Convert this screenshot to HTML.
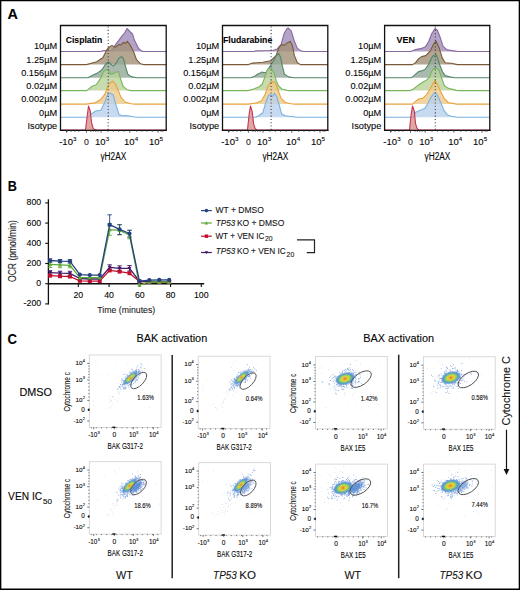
<!DOCTYPE html>
<html><head><meta charset="utf-8"><title>Figure</title>
<style>
html,body{margin:0;padding:0;background:#fff;}
body{width:520px;height:590px;overflow:hidden;}
svg{display:block;font-family:"Liberation Sans",sans-serif;}
svg text{stroke:#1a1a1a;stroke-width:0.1px;}
</style></head><body>
<svg width="520" height="590" viewBox="0 0 520 590">
<defs><filter id="soft" x="-50%" y="-50%" width="200%" height="200%"><feGaussianBlur stdDeviation="0.6"/></filter></defs>
<rect x="0" y="0" width="520" height="590" fill="#fff"/>
<text x="7.45" y="18.8" font-size="14.4" font-weight="bold" fill="#000">A</text>
<g>
<path d="M60.5,51.5 L100.8,51.5 L102.8,50.8 L112,50.3 L115,45.4 L121.2,37.2 L124.5,33 L127,28.5 L130.4,32 L132.5,34 L134.5,40.3 L138.6,48.5 L141.6,51.1 L144,51.5 L166.2,51.5 Z" fill="#a08cb8" fill-opacity="0.8" stroke="none"/>
<path d="M60.5,51.5 L100.8,51.5 L102.8,50.8 L112,50.3 L115,45.4 L121.2,37.2 L124.5,33 L127,28.5 L130.4,32 L132.5,34 L134.5,40.3 L138.6,48.5 L141.6,51.1 L144,51.5 L166.2,51.5" fill="none" stroke="#87699f" stroke-width="1.1" stroke-linejoin="round"/>
<path d="M60.5,64.6 L86.5,64.6 L96.7,61.7 L102.8,57.7 L107,49.5 L109.5,47 L112,45.4 L115,47.4 L117,46 L119.2,44.4 L121,45 L123.3,42.3 L125.5,43.5 L127.3,41.3 L130.4,45.4 L133.5,51.5 L136.5,59.7 L140.6,63.8 L143.7,64.6 L166.2,64.6 Z" fill="#a29077" fill-opacity="0.8" stroke="none"/>
<path d="M60.5,64.6 L86.5,64.6 L96.7,61.7 L102.8,57.7 L107,49.5 L109.5,47 L112,45.4 L115,47.4 L117,46 L119.2,44.4 L121,45 L123.3,42.3 L125.5,43.5 L127.3,41.3 L130.4,45.4 L133.5,51.5 L136.5,59.7 L140.6,63.8 L143.7,64.6 L166.2,64.6" fill="none" stroke="#7a5a38" stroke-width="1.1" stroke-linejoin="round"/>
<path d="M60.5,77.8 L88,77.8 L92.1,75.6 L97.5,72.9 L101.5,70.2 L104.2,66.2 L106.9,62.8 L108.6,62 L111.6,64.8 L113.6,65.9 L116.3,62.8 L119,58.1 L121.7,56.5 L123.7,59.4 L125.8,67.5 L127.8,74.2 L131.1,76.6 L136.5,77.8 L166.2,77.8 Z" fill="#95a898" fill-opacity="0.8" stroke="none"/>
<path d="M60.5,77.8 L88,77.8 L92.1,75.6 L97.5,72.9 L101.5,70.2 L104.2,66.2 L106.9,62.8 L108.6,62 L111.6,64.8 L113.6,65.9 L116.3,62.8 L119,58.1 L121.7,56.5 L123.7,59.4 L125.8,67.5 L127.8,74.2 L131.1,76.6 L136.5,77.8 L166.2,77.8" fill="none" stroke="#4f8866" stroke-width="1.1" stroke-linejoin="round"/>
<path d="M60.5,90.6 L86.7,90.6 L92.1,86.3 L96.2,84.7 L100.2,78.9 L103.6,71.5 L106.2,69.9 L108.3,69.5 L110.3,74.2 L113,73.6 L115.7,72.2 L118.4,71.5 L120.4,78.3 L123.1,86.3 L127.1,89.7 L131,90.6 L166.2,90.6 Z" fill="#bad29b" fill-opacity="0.8" stroke="none"/>
<path d="M60.5,90.6 L86.7,90.6 L92.1,86.3 L96.2,84.7 L100.2,78.9 L103.6,71.5 L106.2,69.9 L108.3,69.5 L110.3,74.2 L113,73.6 L115.7,72.2 L118.4,71.5 L120.4,78.3 L123.1,86.3 L127.1,89.7 L131,90.6 L166.2,90.6" fill="none" stroke="#78b65c" stroke-width="1.1" stroke-linejoin="round"/>
<path d="M60.5,104.1 L86.5,104.1 L94.7,102.9 L100.8,99.4 L104.8,94.3 L108.9,84.1 L112.6,81.1 L115.4,84.1 L118.1,90.2 L121.1,97.4 L125.2,102 L131.3,103.7 L135,104.1 L166.2,104.1 Z" fill="#ecc98b" fill-opacity="0.8" stroke="none"/>
<path d="M60.5,104.1 L86.5,104.1 L94.7,102.9 L100.8,99.4 L104.8,94.3 L108.9,84.1 L112.6,81.1 L115.4,84.1 L118.1,90.2 L121.1,97.4 L125.2,102 L131.3,103.7 L135,104.1 L166.2,104.1" fill="none" stroke="#e9a23a" stroke-width="1.1" stroke-linejoin="round"/>
<path d="M60.5,117.2 L88.5,117.2 L91.6,113.7 L95.7,111 L100.8,110.2 L104.8,102.5 L107.9,93.9 L110.5,93.3 L113.4,95.3 L116.1,105.5 L119.1,114.7 L123.2,115.7 L126.2,115.5 L133.4,116.7 L137,117.2 L166.2,117.2 Z" fill="#bad1ec" fill-opacity="0.8" stroke="none"/>
<path d="M60.5,117.2 L88.5,117.2 L91.6,113.7 L95.7,111 L100.8,110.2 L104.8,102.5 L107.9,93.9 L110.5,93.3 L113.4,95.3 L116.1,105.5 L119.1,114.7 L123.2,115.7 L126.2,115.5 L133.4,116.7 L137,117.2 L166.2,117.2" fill="none" stroke="#7ab3e2" stroke-width="1.1" stroke-linejoin="round"/>
<path d="M60.5,130 L85.5,130 L87.1,116.7 L88.5,106 L90.2,110.6 L91.6,122.8 L93.2,128.3 L94.7,129.6 L97,130 L166.2,130 Z" fill="#d89288" fill-opacity="0.8" stroke="none"/>
<path d="M60.5,130 L85.5,130 L87.1,116.7 L88.5,106 L90.2,110.6 L91.6,122.8 L93.2,128.3 L94.7,129.6 L97,130 L166.2,130" fill="none" stroke="#c43558" stroke-width="1.1" stroke-linejoin="round"/>
</g>
<line x1="108.2" y1="26.5" x2="108.2" y2="130" stroke="#3d4150" stroke-width="1.1" stroke-dasharray="1.1 2.2"/>
<path d="M60.5,130.9 V25.5 H166.2 V130.9" fill="none" stroke="#111" stroke-width="1.3"/>
<line x1="59.9" y1="130.3" x2="166.8" y2="130.3" stroke="#111" stroke-width="1.3"/>
<path d="M66.5,130.3 v2.4 M86.4,130.3 v2.4 M101.1,130.3 v2.4 M129.8,130.3 v2.4 M158,130.3 v2.4 M67.3,130.3 v1.5 M71.1,130.3 v1.5 M74.9,130.3 v1.5 M78.7,130.3 v1.5 M90.9,130.3 v1.5 M93.3,130.3 v1.5 M95.7,130.3 v1.5 M98.1,130.3 v1.5 M107.9,130.3 v1.5 M113.3,130.3 v1.5 M118.7,130.3 v1.5 M124.1,130.3 v1.5 M136.7,130.3 v1.5 M141.9,130.3 v1.5 M147.1,130.3 v1.5 M152.3,130.3 v1.5 M161.17,130.3 v1.5 M162.83,130.3 v1.5 " stroke="#333" stroke-width="0.8"/>
<text x="65.7" y="42.7" font-size="9.2" font-weight="bold" fill="#000" textLength="36.5" lengthAdjust="spacingAndGlyphs">Cisplatin</text>
<text x="57.2" y="49.4" font-size="9" text-anchor="end" textLength="23.21" lengthAdjust="spacingAndGlyphs">10µM</text>
<text x="57.2" y="62.6" font-size="9" text-anchor="end" textLength="30.88" lengthAdjust="spacingAndGlyphs">1.25µM</text>
<text x="57.2" y="76" font-size="9" text-anchor="end" textLength="36" lengthAdjust="spacingAndGlyphs">0.156µM</text>
<text x="57.2" y="89.2" font-size="9" text-anchor="end" textLength="30.88" lengthAdjust="spacingAndGlyphs">0.02µM</text>
<text x="57.2" y="102.3" font-size="9" text-anchor="end" textLength="36" lengthAdjust="spacingAndGlyphs">0.002µM</text>
<text x="57.2" y="115.5" font-size="9" text-anchor="end" textLength="18.09" lengthAdjust="spacingAndGlyphs">0µM</text>
<text x="57.2" y="128.7" font-size="9" text-anchor="end" textLength="29.67" lengthAdjust="spacingAndGlyphs">Isotype</text>
<text x="59.2" y="144.7" font-size="8.8" textLength="13.73" lengthAdjust="spacingAndGlyphs">-10</text>
<text x="73.03" y="141.3" font-size="6.2">3</text>
<text x="86.4" y="144.7" font-size="8.8" text-anchor="middle" fill="#222" textLength="4.9" lengthAdjust="spacingAndGlyphs">0</text>
<text x="95.1" y="144.7" font-size="8.8" textLength="10.57" lengthAdjust="spacingAndGlyphs">10</text>
<text x="105.77" y="141.3" font-size="6.2">3</text>
<text x="124.1" y="144.7" font-size="8.8" textLength="10.57" lengthAdjust="spacingAndGlyphs">10</text>
<text x="134.77" y="141.3" font-size="6.2">4</text>
<text x="148.9" y="144.7" font-size="8.8" textLength="10.57" lengthAdjust="spacingAndGlyphs">10</text>
<text x="159.57" y="141.3" font-size="6.2">5</text>
<text x="100.4" y="160.2" font-size="10" textLength="25.8" lengthAdjust="spacingAndGlyphs">γH2AX</text>
<g>
<path d="M222.5,51.5 L254.6,51.5 L255.5,50.9 L273,50.5 L277,49 L281.1,44.4 L284.2,33.2 L287.2,28.3 L288.2,28 L291.3,31.1 L294.4,41.3 L297.4,48.4 L301.5,51.1 L304,51.5 L327.8,51.5 Z" fill="#a08cb8" fill-opacity="0.8" stroke="none"/>
<path d="M222.5,51.5 L254.6,51.5 L255.5,50.9 L273,50.5 L277,49 L281.1,44.4 L284.2,33.2 L287.2,28.3 L288.2,28 L291.3,31.1 L294.4,41.3 L297.4,48.4 L301.5,51.1 L304,51.5 L327.8,51.5" fill="none" stroke="#87699f" stroke-width="1.1" stroke-linejoin="round"/>
<path d="M222.5,64.6 L248.5,64.6 L252.6,63.1 L262.8,62.3 L270.9,60.7 L276,55.6 L279.1,47.4 L282.1,44.4 L284.2,45.4 L287.2,42.9 L290.3,41.3 L292.3,45.4 L294.4,55.6 L297.4,62.7 L300.5,64.6 L327.8,64.6 Z" fill="#a29077" fill-opacity="0.8" stroke="none"/>
<path d="M222.5,64.6 L248.5,64.6 L252.6,63.1 L262.8,62.3 L270.9,60.7 L276,55.6 L279.1,47.4 L282.1,44.4 L284.2,45.4 L287.2,42.9 L290.3,41.3 L292.3,45.4 L294.4,55.6 L297.4,62.7 L300.5,64.6 L327.8,64.6" fill="none" stroke="#7a5a38" stroke-width="1.1" stroke-linejoin="round"/>
<path d="M222.5,77.8 L250.8,77.8 L254.8,76.2 L257.5,74.2 L260.2,73.1 L262,72 L263.6,72.6 L266.2,72.2 L268.3,68.8 L271,64.8 L273.6,60.8 L276.3,55.4 L278.8,53.8 L280.4,56.7 L282.4,66.2 L284.4,74.2 L288.5,76.9 L293.8,77.8 L327.8,77.8 Z" fill="#95a898" fill-opacity="0.8" stroke="none"/>
<path d="M222.5,77.8 L250.8,77.8 L254.8,76.2 L257.5,74.2 L260.2,73.1 L262,72 L263.6,72.6 L266.2,72.2 L268.3,68.8 L271,64.8 L273.6,60.8 L276.3,55.4 L278.8,53.8 L280.4,56.7 L282.4,66.2 L284.4,74.2 L288.5,76.9 L293.8,77.8 L327.8,77.8" fill="none" stroke="#4f8866" stroke-width="1.1" stroke-linejoin="round"/>
<path d="M222.5,90.6 L248,90.6 L253.5,89 L258.8,87 L262.2,84.3 L264.9,76.9 L266.9,70.9 L268.9,68.2 L271.6,68.8 L274.3,73.6 L276.3,81 L278.4,85.7 L281.7,89 L287.1,90.4 L290,90.6 L327.8,90.6 Z" fill="#bad29b" fill-opacity="0.8" stroke="none"/>
<path d="M222.5,90.6 L248,90.6 L253.5,89 L258.8,87 L262.2,84.3 L264.9,76.9 L266.9,70.9 L268.9,68.2 L271.6,68.8 L274.3,73.6 L276.3,81 L278.4,85.7 L281.7,89 L287.1,90.4 L290,90.6 L327.8,90.6" fill="none" stroke="#78b65c" stroke-width="1.1" stroke-linejoin="round"/>
<path d="M222.5,104.1 L248.5,104.1 L256.7,102.9 L261.7,100.4 L265.2,94.3 L267.9,86.2 L270.9,82.1 L274,81.7 L276,84.1 L278.1,90.2 L281.1,98.4 L285.2,102.5 L291.3,103.7 L295,104.1 L327.8,104.1 Z" fill="#ecc98b" fill-opacity="0.8" stroke="none"/>
<path d="M222.5,104.1 L248.5,104.1 L256.7,102.9 L261.7,100.4 L265.2,94.3 L267.9,86.2 L270.9,82.1 L274,81.7 L276,84.1 L278.1,90.2 L281.1,98.4 L285.2,102.5 L291.3,103.7 L295,104.1 L327.8,104.1" fill="none" stroke="#e9a23a" stroke-width="1.1" stroke-linejoin="round"/>
<path d="M222.5,117.2 L255.6,117.2 L258.7,115.7 L262.8,112.7 L265.8,102.5 L268.5,95.3 L270.5,94.7 L272.6,96.3 L274.4,93.3 L276.6,96.3 L279.1,104.5 L281.5,113.7 L285.2,115.7 L293.3,116.7 L297,117.2 L327.8,117.2 Z" fill="#bad1ec" fill-opacity="0.8" stroke="none"/>
<path d="M222.5,117.2 L255.6,117.2 L258.7,115.7 L262.8,112.7 L265.8,102.5 L268.5,95.3 L270.5,94.7 L272.6,96.3 L274.4,93.3 L276.6,96.3 L279.1,104.5 L281.5,113.7 L285.2,115.7 L293.3,116.7 L297,117.2 L327.8,117.2" fill="none" stroke="#7ab3e2" stroke-width="1.1" stroke-linejoin="round"/>
<path d="M222.5,130 L247.5,130 L249.1,114.7 L250.5,106 L252.2,111.6 L253.6,123.9 L255.2,128.6 L256.7,129.7 L259,130 L327.8,130 Z" fill="#d89288" fill-opacity="0.8" stroke="none"/>
<path d="M222.5,130 L247.5,130 L249.1,114.7 L250.5,106 L252.2,111.6 L253.6,123.9 L255.2,128.6 L256.7,129.7 L259,130 L327.8,130" fill="none" stroke="#c43558" stroke-width="1.1" stroke-linejoin="round"/>
</g>
<line x1="271.1" y1="26.5" x2="271.1" y2="130" stroke="#3d4150" stroke-width="1.1" stroke-dasharray="1.1 2.2"/>
<path d="M222.5,130.9 V25.5 H327.8 V130.9" fill="none" stroke="#111" stroke-width="1.3"/>
<line x1="221.9" y1="130.3" x2="328.4" y2="130.3" stroke="#111" stroke-width="1.3"/>
<path d="M228.5,130.3 v2.4 M248.4,130.3 v2.4 M263.1,130.3 v2.4 M291.8,130.3 v2.4 M320,130.3 v2.4 M229.3,130.3 v1.5 M233.1,130.3 v1.5 M236.9,130.3 v1.5 M240.7,130.3 v1.5 M252.9,130.3 v1.5 M255.3,130.3 v1.5 M257.7,130.3 v1.5 M260.1,130.3 v1.5 M269.9,130.3 v1.5 M275.3,130.3 v1.5 M280.7,130.3 v1.5 M286.1,130.3 v1.5 M298.7,130.3 v1.5 M303.9,130.3 v1.5 M309.1,130.3 v1.5 M314.3,130.3 v1.5 M323.17,130.3 v1.5 M324.83,130.3 v1.5 " stroke="#333" stroke-width="0.8"/>
<text x="222.9" y="42.7" font-size="9.2" font-weight="bold" fill="#000" textLength="49.4" lengthAdjust="spacingAndGlyphs">Fludarabine</text>
<text x="219.2" y="49.4" font-size="9" text-anchor="end" textLength="23.21" lengthAdjust="spacingAndGlyphs">10µM</text>
<text x="219.2" y="62.6" font-size="9" text-anchor="end" textLength="30.88" lengthAdjust="spacingAndGlyphs">1.25µM</text>
<text x="219.2" y="76" font-size="9" text-anchor="end" textLength="36" lengthAdjust="spacingAndGlyphs">0.156µM</text>
<text x="219.2" y="89.2" font-size="9" text-anchor="end" textLength="30.88" lengthAdjust="spacingAndGlyphs">0.02µM</text>
<text x="219.2" y="102.3" font-size="9" text-anchor="end" textLength="36" lengthAdjust="spacingAndGlyphs">0.002µM</text>
<text x="219.2" y="115.5" font-size="9" text-anchor="end" textLength="18.09" lengthAdjust="spacingAndGlyphs">0µM</text>
<text x="219.2" y="128.7" font-size="9" text-anchor="end" textLength="29.67" lengthAdjust="spacingAndGlyphs">Isotype</text>
<text x="221.2" y="144.7" font-size="8.8" textLength="13.73" lengthAdjust="spacingAndGlyphs">-10</text>
<text x="235.03" y="141.3" font-size="6.2">3</text>
<text x="248.4" y="144.7" font-size="8.8" text-anchor="middle" fill="#222" textLength="4.9" lengthAdjust="spacingAndGlyphs">0</text>
<text x="257.1" y="144.7" font-size="8.8" textLength="10.57" lengthAdjust="spacingAndGlyphs">10</text>
<text x="267.77" y="141.3" font-size="6.2">3</text>
<text x="286.1" y="144.7" font-size="8.8" textLength="10.57" lengthAdjust="spacingAndGlyphs">10</text>
<text x="296.77" y="141.3" font-size="6.2">4</text>
<text x="310.9" y="144.7" font-size="8.8" textLength="10.57" lengthAdjust="spacingAndGlyphs">10</text>
<text x="321.57" y="141.3" font-size="6.2">5</text>
<text x="262.4" y="160.2" font-size="10" textLength="25.8" lengthAdjust="spacingAndGlyphs">γH2AX</text>
<g>
<path d="M384.6,51.5 L410.5,51.5 L414.6,49.9 L421.7,48.4 L425.8,46.4 L428.8,41.3 L431.9,33.2 L435,28.5 L437.4,30.1 L440.1,37.2 L443.1,46.4 L447.2,49.9 L455.3,51.1 L458,51.5 L489.8,51.5 Z" fill="#a08cb8" fill-opacity="0.8" stroke="none"/>
<path d="M384.6,51.5 L410.5,51.5 L414.6,49.9 L421.7,48.4 L425.8,46.4 L428.8,41.3 L431.9,33.2 L435,28.5 L437.4,30.1 L440.1,37.2 L443.1,46.4 L447.2,49.9 L455.3,51.1 L458,51.5 L489.8,51.5" fill="none" stroke="#87699f" stroke-width="1.1" stroke-linejoin="round"/>
<path d="M384.6,64.6 L412.5,64.6 L415.6,62.7 L418.7,58.6 L421.7,56.6 L425.8,55.6 L429.9,51.5 L432.9,45.4 L436,40.9 L439,47.4 L442.1,57.6 L445.1,62.7 L451.3,63.3 L457.4,64.6 L489.8,64.6 Z" fill="#a29077" fill-opacity="0.8" stroke="none"/>
<path d="M384.6,64.6 L412.5,64.6 L415.6,62.7 L418.7,58.6 L421.7,56.6 L425.8,55.6 L429.9,51.5 L432.9,45.4 L436,40.9 L439,47.4 L442.1,57.6 L445.1,62.7 L451.3,63.3 L457.4,64.6 L489.8,64.6" fill="none" stroke="#7a5a38" stroke-width="1.1" stroke-linejoin="round"/>
<path d="M384.6,77.8 L411.4,77.8 L414.8,74.9 L418.2,71.8 L421.5,70.9 L424.9,69.5 L427.6,66.2 L430.3,60.8 L432.3,56.7 L433.6,55.4 L434.7,56 L436.1,54.3 L437.4,57.4 L439.7,64.8 L442.4,71.5 L445.1,75.6 L449.8,76.9 L455.2,77.8 L489.8,77.8 Z" fill="#95a898" fill-opacity="0.8" stroke="none"/>
<path d="M384.6,77.8 L411.4,77.8 L414.8,74.9 L418.2,71.8 L421.5,70.9 L424.9,69.5 L427.6,66.2 L430.3,60.8 L432.3,56.7 L433.6,55.4 L434.7,56 L436.1,54.3 L437.4,57.4 L439.7,64.8 L442.4,71.5 L445.1,75.6 L449.8,76.9 L455.2,77.8 L489.8,77.8" fill="none" stroke="#4f8866" stroke-width="1.1" stroke-linejoin="round"/>
<path d="M384.6,90.6 L410.1,90.6 L413.5,89 L417.5,85.7 L421.5,83 L426.2,80.3 L429.6,76.9 L431.6,71.5 L433.6,68.8 L436.3,67.8 L439,70.2 L441.7,78.3 L444.4,85.7 L448.5,88.4 L456.5,90.4 L459,90.6 L489.8,90.6 Z" fill="#bad29b" fill-opacity="0.8" stroke="none"/>
<path d="M384.6,90.6 L410.1,90.6 L413.5,89 L417.5,85.7 L421.5,83 L426.2,80.3 L429.6,76.9 L431.6,71.5 L433.6,68.8 L436.3,67.8 L439,70.2 L441.7,78.3 L444.4,85.7 L448.5,88.4 L456.5,90.4 L459,90.6 L489.8,90.6" fill="none" stroke="#78b65c" stroke-width="1.1" stroke-linejoin="round"/>
<path d="M384.6,104.1 L412.5,104.1 L415.6,101.4 L418.7,99 L422.7,98.4 L426.8,94.3 L430.5,88.2 L433.3,83.1 L435,80.4 L437.4,84.1 L440.1,90.2 L444.1,98.4 L448.2,102.5 L456.4,104.1 L489.8,104.1 Z" fill="#ecc98b" fill-opacity="0.8" stroke="none"/>
<path d="M384.6,104.1 L412.5,104.1 L415.6,101.4 L418.7,99 L422.7,98.4 L426.8,94.3 L430.5,88.2 L433.3,83.1 L435,80.4 L437.4,84.1 L440.1,90.2 L444.1,98.4 L448.2,102.5 L456.4,104.1 L489.8,104.1" fill="none" stroke="#e9a23a" stroke-width="1.1" stroke-linejoin="round"/>
<path d="M384.6,117.2 L413.6,117.2 L415.6,112.2 L419.7,110.6 L424.8,108.6 L427.8,103.5 L430.9,97.4 L433.9,93.3 L435.4,92.7 L437.4,95.3 L440.7,102.5 L444.1,110.6 L447.2,114.7 L451.3,116.3 L457.4,117.2 L489.8,117.2 Z" fill="#bad1ec" fill-opacity="0.8" stroke="none"/>
<path d="M384.6,117.2 L413.6,117.2 L415.6,112.2 L419.7,110.6 L424.8,108.6 L427.8,103.5 L430.9,97.4 L433.9,93.3 L435.4,92.7 L437.4,95.3 L440.7,102.5 L444.1,110.6 L447.2,114.7 L451.3,116.3 L457.4,117.2 L489.8,117.2" fill="none" stroke="#7ab3e2" stroke-width="1.1" stroke-linejoin="round"/>
<path d="M384.6,130 L409.5,130 L411.1,114.7 L412.5,106 L414.2,110.6 L415.6,123.9 L417.2,128.6 L418.7,129.7 L421,130 L489.8,130 Z" fill="#d89288" fill-opacity="0.8" stroke="none"/>
<path d="M384.6,130 L409.5,130 L411.1,114.7 L412.5,106 L414.2,110.6 L415.6,123.9 L417.2,128.6 L418.7,129.7 L421,130 L489.8,130" fill="none" stroke="#c43558" stroke-width="1.1" stroke-linejoin="round"/>
</g>
<line x1="435.3" y1="26.5" x2="435.3" y2="130" stroke="#3d4150" stroke-width="1.1" stroke-dasharray="1.1 2.2"/>
<path d="M384.6,130.9 V25.5 H489.8 V130.9" fill="none" stroke="#111" stroke-width="1.3"/>
<line x1="384" y1="130.3" x2="490.4" y2="130.3" stroke="#111" stroke-width="1.3"/>
<path d="M390.6,130.3 v2.4 M410.5,130.3 v2.4 M425.2,130.3 v2.4 M453.9,130.3 v2.4 M482.1,130.3 v2.4 M391.4,130.3 v1.5 M395.2,130.3 v1.5 M399,130.3 v1.5 M402.8,130.3 v1.5 M415,130.3 v1.5 M417.4,130.3 v1.5 M419.8,130.3 v1.5 M422.2,130.3 v1.5 M432,130.3 v1.5 M437.4,130.3 v1.5 M442.8,130.3 v1.5 M448.2,130.3 v1.5 M460.8,130.3 v1.5 M466,130.3 v1.5 M471.2,130.3 v1.5 M476.4,130.3 v1.5 M485.27,130.3 v1.5 M486.93,130.3 v1.5 " stroke="#333" stroke-width="0.8"/>
<text x="396.6" y="42.7" font-size="9.2" font-weight="bold" fill="#000" textLength="18.4" lengthAdjust="spacingAndGlyphs">VEN</text>
<text x="381.3" y="49.4" font-size="9" text-anchor="end" textLength="23.21" lengthAdjust="spacingAndGlyphs">10µM</text>
<text x="381.3" y="62.6" font-size="9" text-anchor="end" textLength="30.88" lengthAdjust="spacingAndGlyphs">1.25µM</text>
<text x="381.3" y="76" font-size="9" text-anchor="end" textLength="36" lengthAdjust="spacingAndGlyphs">0.156µM</text>
<text x="381.3" y="89.2" font-size="9" text-anchor="end" textLength="30.88" lengthAdjust="spacingAndGlyphs">0.02µM</text>
<text x="381.3" y="102.3" font-size="9" text-anchor="end" textLength="36" lengthAdjust="spacingAndGlyphs">0.002µM</text>
<text x="381.3" y="115.5" font-size="9" text-anchor="end" textLength="18.09" lengthAdjust="spacingAndGlyphs">0µM</text>
<text x="381.3" y="128.7" font-size="9" text-anchor="end" textLength="29.67" lengthAdjust="spacingAndGlyphs">Isotype</text>
<text x="383.3" y="144.7" font-size="8.8" textLength="13.73" lengthAdjust="spacingAndGlyphs">-10</text>
<text x="397.13" y="141.3" font-size="6.2">3</text>
<text x="410.5" y="144.7" font-size="8.8" text-anchor="middle" fill="#222" textLength="4.9" lengthAdjust="spacingAndGlyphs">0</text>
<text x="419.2" y="144.7" font-size="8.8" textLength="10.57" lengthAdjust="spacingAndGlyphs">10</text>
<text x="429.87" y="141.3" font-size="6.2">3</text>
<text x="448.2" y="144.7" font-size="8.8" textLength="10.57" lengthAdjust="spacingAndGlyphs">10</text>
<text x="458.87" y="141.3" font-size="6.2">4</text>
<text x="473" y="144.7" font-size="8.8" textLength="10.57" lengthAdjust="spacingAndGlyphs">10</text>
<text x="483.67" y="141.3" font-size="6.2">5</text>
<text x="424.5" y="160.2" font-size="10" textLength="25.8" lengthAdjust="spacingAndGlyphs">γH2AX</text>
<text x="7.85" y="190.8" font-size="14.4" font-weight="bold" fill="#000" textLength="9.13" lengthAdjust="spacingAndGlyphs">B</text>
<line x1="48.4" y1="199.3" x2="48.4" y2="304.5" stroke="#111" stroke-width="1.3"/>
<line x1="45.2" y1="202.9" x2="48.4" y2="202.9" stroke="#111" stroke-width="1.1"/>
<text x="41.2" y="205.3" font-size="9" text-anchor="end" textLength="14.68" lengthAdjust="spacingAndGlyphs">800</text>
<line x1="45.2" y1="223.1" x2="48.4" y2="223.1" stroke="#111" stroke-width="1.1"/>
<text x="41.2" y="225.5" font-size="9" text-anchor="end" textLength="14.68" lengthAdjust="spacingAndGlyphs">600</text>
<line x1="45.2" y1="243.3" x2="48.4" y2="243.3" stroke="#111" stroke-width="1.1"/>
<text x="41.2" y="245.7" font-size="9" text-anchor="end" textLength="14.68" lengthAdjust="spacingAndGlyphs">400</text>
<line x1="45.2" y1="263.5" x2="48.4" y2="263.5" stroke="#111" stroke-width="1.1"/>
<text x="41.2" y="265.9" font-size="9" text-anchor="end" textLength="14.68" lengthAdjust="spacingAndGlyphs">200</text>
<line x1="45.2" y1="283.7" x2="48.4" y2="283.7" stroke="#111" stroke-width="1.1"/>
<text x="41.2" y="286.1" font-size="9" text-anchor="end" textLength="4.89" lengthAdjust="spacingAndGlyphs">0</text>
<line x1="45.2" y1="303.9" x2="48.4" y2="303.9" stroke="#111" stroke-width="1.1"/>
<text x="41.2" y="306.3" font-size="9" text-anchor="end" textLength="17.61" lengthAdjust="spacingAndGlyphs">-200</text>
<line x1="47.8" y1="283.7" x2="204.2" y2="283.7" stroke="#111" stroke-width="1.5"/>
<line x1="78.34" y1="283.7" x2="78.34" y2="287" stroke="#111" stroke-width="1.1"/>
<text x="78.34" y="298.2" font-size="9" text-anchor="middle" textLength="9.79" lengthAdjust="spacingAndGlyphs">20</text>
<line x1="109.08" y1="283.7" x2="109.08" y2="287" stroke="#111" stroke-width="1.1"/>
<text x="109.08" y="298.2" font-size="9" text-anchor="middle" textLength="9.79" lengthAdjust="spacingAndGlyphs">40</text>
<line x1="139.82" y1="283.7" x2="139.82" y2="287" stroke="#111" stroke-width="1.1"/>
<text x="139.82" y="298.2" font-size="9" text-anchor="middle" textLength="9.79" lengthAdjust="spacingAndGlyphs">60</text>
<line x1="170.56" y1="283.7" x2="170.56" y2="287" stroke="#111" stroke-width="1.1"/>
<text x="170.56" y="298.2" font-size="9" text-anchor="middle" textLength="9.79" lengthAdjust="spacingAndGlyphs">80</text>
<line x1="201.3" y1="283.7" x2="201.3" y2="287" stroke="#111" stroke-width="1.1"/>
<text x="201.3" y="298.2" font-size="9" text-anchor="middle" textLength="14.68" lengthAdjust="spacingAndGlyphs">100</text>
<text x="97.3" y="312.5" font-size="9.4" fill="#222" textLength="57.9" lengthAdjust="spacingAndGlyphs">Time (minutes)</text>
<text transform="translate(16.4,282.0) rotate(-90)" font-size="10" textLength="61.8" lengthAdjust="spacingAndGlyphs" fill="#1a1a1a">OCR (pmol/min)</text>
<path d="M50.1,270.6 V274.6 M47.9,270.6 h4.4 M47.9,274.6 h4.4" stroke="#421c66" stroke-width="0.9" fill="none"/>
<path d="M60.03,271.2 V275.2 M57.83,271.2 h4.4 M57.83,275.2 h4.4" stroke="#421c66" stroke-width="0.9" fill="none"/>
<path d="M69.95,271.3 V275.3 M67.75,271.3 h4.4 M67.75,275.3 h4.4" stroke="#421c66" stroke-width="0.9" fill="none"/>
<path d="M109.65,264.8 V269.8 M107.45,264.8 h4.4 M107.45,269.8 h4.4" stroke="#421c66" stroke-width="0.9" fill="none"/>
<path d="M119.58,265.8 V270.8 M117.38,265.8 h4.4 M117.38,270.8 h4.4" stroke="#421c66" stroke-width="0.9" fill="none"/>
<path d="M129.5,265.5 V271 M127.3,265.5 h4.4 M127.3,271 h4.4" stroke="#421c66" stroke-width="0.9" fill="none"/>
<path d="M109.65,223.5 V235.3 M107.45,223.5 h4.4 M107.45,235.3 h4.4" stroke="#5eaa38" stroke-width="0.9" fill="none"/>
<path d="M119.58,224.5 V234.9 M117.38,224.5 h4.4 M117.38,234.9 h4.4" stroke="#5eaa38" stroke-width="0.9" fill="none"/>
<path d="M129.5,230.3 V238.8 M127.3,230.3 h4.4 M127.3,238.8 h4.4" stroke="#5eaa38" stroke-width="0.9" fill="none"/>
<path d="M50.1,262 V267.5 M47.9,262 h4.4 M47.9,267.5 h4.4" stroke="#5eaa38" stroke-width="0.9" fill="none"/>
<path d="M60.03,262.5 V267.7 M57.83,262.5 h4.4 M57.83,267.7 h4.4" stroke="#5eaa38" stroke-width="0.9" fill="none"/>
<path d="M69.95,263 V267.8 M67.75,263 h4.4 M67.75,267.8 h4.4" stroke="#5eaa38" stroke-width="0.9" fill="none"/>
<path d="M109.65,214.8 V226 M107.45,214.8 h4.4 M107.45,226 h4.4" stroke="#26417f" stroke-width="0.9" fill="none"/>
<path d="M119.58,224.8 V234.5 M117.38,224.8 h4.4 M117.38,234.5 h4.4" stroke="#26417f" stroke-width="0.9" fill="none"/>
<path d="M129.5,230.3 V237.2 M127.3,230.3 h4.4 M127.3,237.2 h4.4" stroke="#26417f" stroke-width="0.9" fill="none"/>
<path d="M50.1,258.8 V262.2 M47.9,258.8 h4.4 M47.9,262.2 h4.4" stroke="#26417f" stroke-width="0.9" fill="none"/>
<path d="M60.03,259.5 V262.8 M57.83,259.5 h4.4 M57.83,262.8 h4.4" stroke="#26417f" stroke-width="0.9" fill="none"/>
<path d="M69.95,259.6 V263 M67.75,259.6 h4.4 M67.75,263 h4.4" stroke="#26417f" stroke-width="0.9" fill="none"/>
<polyline points="50.1,275.6 60.03,276.2 69.95,276.5 79.88,280.8 89.8,281.1 99.72,281.1 109.65,270.4 119.58,271.6 129.5,273.2 139.43,281.5 149.35,281.9 159.28,282 169.2,282" fill="none" stroke="#c20d2c" stroke-width="1.3" stroke-linejoin="round"/>
<rect x="48.1" y="273.6" width="4" height="4" fill="#c20d2c"/>
<rect x="58.03" y="274.2" width="4" height="4" fill="#c20d2c"/>
<rect x="67.95" y="274.5" width="4" height="4" fill="#c20d2c"/>
<rect x="77.88" y="278.8" width="4" height="4" fill="#c20d2c"/>
<rect x="87.8" y="279.1" width="4" height="4" fill="#c20d2c"/>
<rect x="97.72" y="279.1" width="4" height="4" fill="#c20d2c"/>
<rect x="107.65" y="268.4" width="4" height="4" fill="#c20d2c"/>
<rect x="117.58" y="269.6" width="4" height="4" fill="#c20d2c"/>
<rect x="127.5" y="271.2" width="4" height="4" fill="#c20d2c"/>
<rect x="137.43" y="279.5" width="4" height="4" fill="#c20d2c"/>
<rect x="147.35" y="279.9" width="4" height="4" fill="#c20d2c"/>
<rect x="157.28" y="280" width="4" height="4" fill="#c20d2c"/>
<rect x="167.2" y="280" width="4" height="4" fill="#c20d2c"/>
<polyline points="50.1,272.6 60.03,273.2 69.95,273.3 79.88,278.5 89.8,279 99.72,279 109.65,267.3 119.58,268.4 129.5,268.4 139.43,281.2 149.35,281.5 159.28,281.5 169.2,281.5" fill="none" stroke="#421c66" stroke-width="1.3" stroke-linejoin="round"/>
<path d="M48.1,271 L52.1,271 L50.1,274.6 Z" fill="#421c66"/>
<path d="M58.03,271.6 L62.03,271.6 L60.03,275.2 Z" fill="#421c66"/>
<path d="M67.95,271.7 L71.95,271.7 L69.95,275.3 Z" fill="#421c66"/>
<path d="M77.88,276.9 L81.88,276.9 L79.88,280.5 Z" fill="#421c66"/>
<path d="M87.8,277.4 L91.8,277.4 L89.8,281 Z" fill="#421c66"/>
<path d="M97.72,277.4 L101.72,277.4 L99.72,281 Z" fill="#421c66"/>
<path d="M107.65,265.7 L111.65,265.7 L109.65,269.3 Z" fill="#421c66"/>
<path d="M117.58,266.8 L121.58,266.8 L119.58,270.4 Z" fill="#421c66"/>
<path d="M127.5,266.8 L131.5,266.8 L129.5,270.4 Z" fill="#421c66"/>
<path d="M137.43,279.6 L141.43,279.6 L139.43,283.2 Z" fill="#421c66"/>
<path d="M147.35,279.9 L151.35,279.9 L149.35,283.5 Z" fill="#421c66"/>
<path d="M157.28,279.9 L161.28,279.9 L159.28,283.5 Z" fill="#421c66"/>
<path d="M167.2,279.9 L171.2,279.9 L169.2,283.5 Z" fill="#421c66"/>
<polyline points="50.1,264.3 60.03,264.9 69.95,265.4 79.88,277.7 89.8,277.7 99.72,277.7 109.65,229.6 119.58,230.4 129.5,235 139.43,285 149.35,282 159.28,282 169.2,282" fill="none" stroke="#5eaa38" stroke-width="1.3" stroke-linejoin="round"/>
<path d="M50.1,262.2 L52.2,265.98 L48,265.98 Z" fill="#5eaa38"/>
<path d="M60.03,262.8 L62.13,266.58 L57.93,266.58 Z" fill="#5eaa38"/>
<path d="M69.95,263.3 L72.05,267.08 L67.85,267.08 Z" fill="#5eaa38"/>
<path d="M79.88,275.6 L81.97,279.38 L77.78,279.38 Z" fill="#5eaa38"/>
<path d="M89.8,275.6 L91.9,279.38 L87.7,279.38 Z" fill="#5eaa38"/>
<path d="M99.72,275.6 L101.82,279.38 L97.62,279.38 Z" fill="#5eaa38"/>
<path d="M109.65,227.5 L111.75,231.28 L107.55,231.28 Z" fill="#5eaa38"/>
<path d="M119.58,228.3 L121.68,232.08 L117.48,232.08 Z" fill="#5eaa38"/>
<path d="M129.5,232.9 L131.6,236.68 L127.4,236.68 Z" fill="#5eaa38"/>
<path d="M139.43,282.9 L141.53,286.68 L137.33,286.68 Z" fill="#5eaa38"/>
<path d="M149.35,279.9 L151.45,283.68 L147.25,283.68 Z" fill="#5eaa38"/>
<path d="M159.28,279.9 L161.38,283.68 L157.18,283.68 Z" fill="#5eaa38"/>
<path d="M169.2,279.9 L171.3,283.68 L167.1,283.68 Z" fill="#5eaa38"/>
<polyline points="50.1,260.5 60.03,261.1 69.95,261.3 79.88,274.6 89.8,275.1 99.72,275.1 109.65,224.7 119.58,229.3 129.5,233.5 139.43,281.2 149.35,280.1 159.28,279.9 169.2,279.9" fill="none" stroke="#26417f" stroke-width="1.3" stroke-linejoin="round"/>
<circle cx="50.1" cy="260.5" r="2.1" fill="#26417f"/>
<circle cx="60.03" cy="261.1" r="2.1" fill="#26417f"/>
<circle cx="69.95" cy="261.3" r="2.1" fill="#26417f"/>
<circle cx="79.88" cy="274.6" r="2.1" fill="#26417f"/>
<circle cx="89.8" cy="275.1" r="2.1" fill="#26417f"/>
<circle cx="99.72" cy="275.1" r="2.1" fill="#26417f"/>
<circle cx="109.65" cy="224.7" r="2.1" fill="#26417f"/>
<circle cx="119.58" cy="229.3" r="2.1" fill="#26417f"/>
<circle cx="129.5" cy="233.5" r="2.1" fill="#26417f"/>
<circle cx="139.43" cy="281.2" r="2.1" fill="#26417f"/>
<circle cx="149.35" cy="280.1" r="2.1" fill="#26417f"/>
<circle cx="159.28" cy="279.9" r="2.1" fill="#26417f"/>
<circle cx="169.2" cy="279.9" r="2.1" fill="#26417f"/>
<line x1="201" y1="210.6" x2="211.8" y2="210.6" stroke="#26417f" stroke-width="1.2"/>
<circle cx="206.4" cy="210.6" r="1.78" fill="#26417f"/>
<line x1="201" y1="223" x2="211.8" y2="223" stroke="#5eaa38" stroke-width="1.2"/>
<path d="M206.4,221.22 L208.19,224.43 L204.62,224.43 Z" fill="#5eaa38"/>
<line x1="201" y1="236.2" x2="211.8" y2="236.2" stroke="#c20d2c" stroke-width="1.2"/>
<rect x="204.7" y="234.5" width="3.4" height="3.4" fill="#c20d2c"/>
<line x1="201" y1="252.5" x2="211.8" y2="252.5" stroke="#421c66" stroke-width="1.2"/>
<path d="M204.7,251.14 L208.1,251.14 L206.4,254.2 Z" fill="#421c66"/>
<text x="215.5" y="213.1" font-size="9" fill="#111" textLength="48.4" lengthAdjust="spacingAndGlyphs">WT + DMSO</text>
<text x="215.7" y="225.8" font-size="9.0" fill="#111"><tspan font-style="italic" textLength="19.6" lengthAdjust="spacingAndGlyphs">TP53</tspan><tspan x="236.9" textLength="47.4" lengthAdjust="spacingAndGlyphs">KO + DMSO</tspan></text>
<text x="215.4" y="238.5" font-size="9.0" fill="#111" textLength="48.9" lengthAdjust="spacingAndGlyphs">WT + VEN IC</text>
<text x="265.0" y="241.3" font-size="6.4" fill="#111" textLength="7.6" lengthAdjust="spacingAndGlyphs">20</text>
<text x="215.7" y="254.4" font-size="9.0" fill="#111"><tspan font-style="italic" textLength="19.6" lengthAdjust="spacingAndGlyphs">TP53</tspan><tspan x="236.9" textLength="48.9" lengthAdjust="spacingAndGlyphs">KO + VEN IC</tspan></text>
<text x="286.6" y="257.2" font-size="6.4" fill="#111" textLength="7.6" lengthAdjust="spacingAndGlyphs">20</text>
<path d="M297,239.8 H314.5 V252.6 H306.8" fill="none" stroke="#222" stroke-width="1.2"/>
<text x="7.56" y="344.1" font-size="14.4" font-weight="bold" fill="#000" textLength="9.5" lengthAdjust="spacingAndGlyphs">C</text>
<text x="136.5" y="342.3" font-size="10.6" textLength="70.7" lengthAdjust="spacingAndGlyphs">BAK activation</text>
<text x="363.3" y="342.3" font-size="10.6" textLength="70.7" lengthAdjust="spacingAndGlyphs">BAX activation</text>
<text x="19.5" y="396.3" font-size="10.6" textLength="32.5" lengthAdjust="spacingAndGlyphs">DMSO</text>
<text x="8.1" y="500.2" font-size="10.6" textLength="34" lengthAdjust="spacingAndGlyphs">VEN IC</text>
<text x="42.9" y="503.5" font-size="7.6" textLength="9" lengthAdjust="spacingAndGlyphs">50</text>
<rect x="89.3" y="355" width="71.8" height="72.4" fill="#fff" stroke="#cfcfcf" stroke-width="0.8"/>
<path d="M122.04,393.27h0.6v0.6h-0.6zM122.63,383.25h0.6v0.6h-0.6zM124.55,383.38h0.6v0.6h-0.6zM118.71,393.64h0.6v0.6h-0.6zM118.51,391.8h0.6v0.6h-0.6zM117.71,383.34h0.6v0.6h-0.6zM109.41,401.04h0.6v0.6h-0.6zM126.77,381.51h0.6v0.6h-0.6zM125.1,387.1h0.6v0.6h-0.6zM111.47,406.11h0.6v0.6h-0.6zM111.43,400.77h0.6v0.6h-0.6zM126.72,384.15h0.6v0.6h-0.6zM110.84,400.54h0.6v0.6h-0.6zM112.67,397.74h0.6v0.6h-0.6zM109.92,400.78h0.6v0.6h-0.6zM109.88,396.03h0.6v0.6h-0.6zM110.16,407.67h0.6v0.6h-0.6zM120.38,387.04h0.6v0.6h-0.6zM122.65,385.9h0.6v0.6h-0.6zM113.33,396.03h0.6v0.6h-0.6zM107.39,408.21h0.6v0.6h-0.6zM112.09,396.03h0.6v0.6h-0.6zM112.27,402.77h0.6v0.6h-0.6zM116.73,400.61h0.6v0.6h-0.6zM118.1,398.52h0.6v0.6h-0.6zM117.91,391.74h0.6v0.6h-0.6zM124.48,382.85h0.6v0.6h-0.6zM128.04,386.49h0.6v0.6h-0.6zM123.85,387.75h0.6v0.6h-0.6zM111.36,405.88h0.6v0.6h-0.6zM118.85,393.09h0.6v0.6h-0.6zM108.66,406.91h0.6v0.6h-0.6zM123.92,387.05h0.6v0.6h-0.6zM124.19,387.45h0.6v0.6h-0.6zM118.41,388.28h0.6v0.6h-0.6zM123.75,388.8h0.6v0.6h-0.6zM113.36,389h0.6v0.6h-0.6zM109.14,399.52h0.6v0.6h-0.6zM117.93,401.26h0.6v0.6h-0.6zM113.95,399.01h0.6v0.6h-0.6zM117.9,377.22h0.6v0.6h-0.6zM98.32,389.15h0.6v0.6h-0.6zM95.52,360.41h0.6v0.6h-0.6zM105.45,365.23h0.6v0.6h-0.6zM114.36,359.66h0.6v0.6h-0.6zM91.32,364.67h0.6v0.6h-0.6zM98.18,375.43h0.6v0.6h-0.6zM93.03,401.31h0.6v0.6h-0.6zM132.93,364.53h0.6v0.6h-0.6zM108.4,374.61h0.6v0.6h-0.6zM115.99,363.23h0.6v0.6h-0.6zM148.86,407.33h0.6v0.6h-0.6zM122.89,381.52h0.6v0.6h-0.6zM97.12,362.18h0.6v0.6h-0.6zM114.53,370.42h0.6v0.6h-0.6zM147.5,365.18h0.6v0.6h-0.6zM92.87,405.2h0.6v0.6h-0.6zM127.12,364.43h0.6v0.6h-0.6z" fill="#b7c6e2"/>
<path d="M129.27,378.76h0.9v0.9h-0.9zM117.14,388.77h0.9v0.9h-0.9zM133.24,371.67h0.9v0.9h-0.9zM131.55,379.75h0.9v0.9h-0.9zM136.61,376.68h0.9v0.9h-0.9zM122.06,384.6h0.9v0.9h-0.9zM129.79,380.38h0.9v0.9h-0.9zM131.31,368.83h0.9v0.9h-0.9zM133.18,370.87h0.9v0.9h-0.9zM131.25,372.53h0.9v0.9h-0.9zM133.03,379.1h0.9v0.9h-0.9zM130.01,378.85h0.9v0.9h-0.9zM134.27,374.72h0.9v0.9h-0.9zM132.34,380.79h0.9v0.9h-0.9zM134.76,372.93h0.9v0.9h-0.9zM141.24,364.28h0.9v0.9h-0.9zM134.19,373.55h0.9v0.9h-0.9zM132.08,378.49h0.9v0.9h-0.9zM132.39,378h0.9v0.9h-0.9zM121.09,381.96h0.9v0.9h-0.9zM131.75,373.69h0.9v0.9h-0.9zM123.44,379.88h0.9v0.9h-0.9zM137.35,373.71h0.9v0.9h-0.9zM135.72,370.06h0.9v0.9h-0.9zM128.66,376.03h0.9v0.9h-0.9zM136.34,377.23h0.9v0.9h-0.9zM128.7,384.26h0.9v0.9h-0.9zM134.66,373.38h0.9v0.9h-0.9zM123.5,388.64h0.9v0.9h-0.9zM129.04,377.32h0.9v0.9h-0.9zM132.86,376.86h0.9v0.9h-0.9zM135.71,369.82h0.9v0.9h-0.9zM137.88,375.48h0.9v0.9h-0.9zM136.79,371.39h0.9v0.9h-0.9zM128.54,382.75h0.9v0.9h-0.9zM131.12,377.61h0.9v0.9h-0.9zM136.53,371.38h0.9v0.9h-0.9zM119.27,387.09h0.9v0.9h-0.9zM123.15,387.17h0.9v0.9h-0.9zM130.92,375.54h0.9v0.9h-0.9zM131.63,379.31h0.9v0.9h-0.9zM132.79,379.74h0.9v0.9h-0.9zM131.71,379.87h0.9v0.9h-0.9zM139.7,374.16h0.9v0.9h-0.9zM128.66,382.22h0.9v0.9h-0.9zM120.14,384.15h0.9v0.9h-0.9zM123.03,388.05h0.9v0.9h-0.9zM124.73,383.15h0.9v0.9h-0.9zM129.47,378.68h0.9v0.9h-0.9zM128.04,380.81h0.9v0.9h-0.9zM138.68,370.31h0.9v0.9h-0.9zM134.36,377.27h0.9v0.9h-0.9zM127.57,376.68h0.9v0.9h-0.9zM129.49,382.03h0.9v0.9h-0.9zM121.94,383.96h0.9v0.9h-0.9zM136.23,374.89h0.9v0.9h-0.9zM131.67,379.19h0.9v0.9h-0.9zM129.36,375.26h0.9v0.9h-0.9zM122.25,383.54h0.9v0.9h-0.9zM133.77,373.03h0.9v0.9h-0.9zM125.08,380.5h0.9v0.9h-0.9zM123.19,384.26h0.9v0.9h-0.9zM125.55,383.54h0.9v0.9h-0.9zM120.07,388.53h0.9v0.9h-0.9zM124.49,377.46h0.9v0.9h-0.9zM133.3,374.35h0.9v0.9h-0.9zM118.83,386.01h0.9v0.9h-0.9zM131.03,375.9h0.9v0.9h-0.9zM135.12,375.79h0.9v0.9h-0.9zM133.96,375.59h0.9v0.9h-0.9zM137.53,373.28h0.9v0.9h-0.9zM129.29,372.56h0.9v0.9h-0.9zM136.51,376.21h0.9v0.9h-0.9zM128.32,378.4h0.9v0.9h-0.9zM136.61,366.72h0.9v0.9h-0.9zM136.25,379.87h0.9v0.9h-0.9zM127.2,383h0.9v0.9h-0.9zM138.87,369.63h0.9v0.9h-0.9zM134.35,376.98h0.9v0.9h-0.9zM126.11,381.63h0.9v0.9h-0.9zM133,378h0.9v0.9h-0.9zM129.94,377.73h0.9v0.9h-0.9zM125.19,381.66h0.9v0.9h-0.9zM134.65,374.25h0.9v0.9h-0.9zM125.2,380.17h0.9v0.9h-0.9zM144.37,368.36h0.9v0.9h-0.9zM129.36,370.93h0.9v0.9h-0.9zM133.99,376.03h0.9v0.9h-0.9zM138.78,371.4h0.9v0.9h-0.9zM130.89,379.04h0.9v0.9h-0.9zM123.06,387.91h0.9v0.9h-0.9zM130.82,375.36h0.9v0.9h-0.9zM139.24,375.19h0.9v0.9h-0.9zM122.95,382.81h0.9v0.9h-0.9zM132.02,376.95h0.9v0.9h-0.9zM127.08,378.01h0.9v0.9h-0.9zM141.71,370.53h0.9v0.9h-0.9zM122.87,380.8h0.9v0.9h-0.9zM139.72,372.24h0.9v0.9h-0.9zM139.99,371.44h0.9v0.9h-0.9zM126.8,382.06h0.9v0.9h-0.9zM119.35,385.91h0.9v0.9h-0.9zM130.93,379.01h0.9v0.9h-0.9zM126.87,380.81h0.9v0.9h-0.9zM133.08,376.56h0.9v0.9h-0.9zM133.65,375.51h0.9v0.9h-0.9zM130.12,380.58h0.9v0.9h-0.9zM129.36,376.34h0.9v0.9h-0.9zM127.53,380.58h0.9v0.9h-0.9zM130.14,378.63h0.9v0.9h-0.9zM130.67,378.19h0.9v0.9h-0.9zM127.86,376.41h0.9v0.9h-0.9zM133.94,377.82h0.9v0.9h-0.9zM132.1,375.73h0.9v0.9h-0.9zM130.97,374.41h0.9v0.9h-0.9zM121.79,386.11h0.9v0.9h-0.9zM127.26,383.09h0.9v0.9h-0.9zM121.41,378.23h0.9v0.9h-0.9zM128.04,384.93h0.9v0.9h-0.9zM126.56,377.29h0.9v0.9h-0.9zM127.69,382.02h0.9v0.9h-0.9zM132.95,376.06h0.9v0.9h-0.9zM138.29,372.71h0.9v0.9h-0.9zM131.22,378.97h0.9v0.9h-0.9zM139.47,372.41h0.9v0.9h-0.9zM133.44,371.75h0.9v0.9h-0.9zM130.83,379.73h0.9v0.9h-0.9zM130.67,380.92h0.9v0.9h-0.9zM134.52,376.84h0.9v0.9h-0.9zM133.32,382.98h0.9v0.9h-0.9zM135.76,372.24h0.9v0.9h-0.9zM134.78,381.76h0.9v0.9h-0.9zM130.16,380.8h0.9v0.9h-0.9zM134.91,373.72h0.9v0.9h-0.9zM125.33,383.2h0.9v0.9h-0.9zM133.77,378.21h0.9v0.9h-0.9zM134.03,374.59h0.9v0.9h-0.9zM135.14,375.13h0.9v0.9h-0.9zM131.43,377.11h0.9v0.9h-0.9zM130.33,380.07h0.9v0.9h-0.9zM124.6,381.38h0.9v0.9h-0.9zM128.19,375.48h0.9v0.9h-0.9zM125.33,376.47h0.9v0.9h-0.9zM128.14,381.75h0.9v0.9h-0.9zM132.91,375.39h0.9v0.9h-0.9zM127.17,376.57h0.9v0.9h-0.9zM139.57,370.93h0.9v0.9h-0.9zM134.07,371.78h0.9v0.9h-0.9zM126.77,375.71h0.9v0.9h-0.9zM135.41,376.09h0.9v0.9h-0.9zM121.62,385.93h0.9v0.9h-0.9zM130.6,372.32h0.9v0.9h-0.9zM120.4,383.96h0.9v0.9h-0.9zM125.37,378.29h0.9v0.9h-0.9zM130.93,378.17h0.9v0.9h-0.9zM134.38,376.34h0.9v0.9h-0.9zM139.07,373.38h0.9v0.9h-0.9zM123.61,382.68h0.9v0.9h-0.9zM123.89,380.67h0.9v0.9h-0.9zM130.04,378.26h0.9v0.9h-0.9zM130.22,373.2h0.9v0.9h-0.9zM124.69,383.16h0.9v0.9h-0.9zM129.01,378.24h0.9v0.9h-0.9zM128.95,376.93h0.9v0.9h-0.9zM134.16,375.48h0.9v0.9h-0.9zM128.97,377.17h0.9v0.9h-0.9zM125.44,374.19h0.9v0.9h-0.9zM125.96,382.16h0.9v0.9h-0.9zM123.81,384.66h0.9v0.9h-0.9zM128.97,375.01h0.9v0.9h-0.9zM128.77,378.46h0.9v0.9h-0.9zM133.44,376.94h0.9v0.9h-0.9zM128.93,376.66h0.9v0.9h-0.9zM129.64,378.41h0.9v0.9h-0.9zM134.22,375.24h0.9v0.9h-0.9zM125.02,378.77h0.9v0.9h-0.9zM127.56,378.28h0.9v0.9h-0.9zM125.12,382.47h0.9v0.9h-0.9zM128.31,380.17h0.9v0.9h-0.9zM132.17,374.98h0.9v0.9h-0.9zM140.57,367.43h0.9v0.9h-0.9zM135.64,373.39h0.9v0.9h-0.9zM131.89,369.23h0.9v0.9h-0.9zM127.33,381.52h0.9v0.9h-0.9zM136.73,379.15h0.9v0.9h-0.9zM133.83,378.62h0.9v0.9h-0.9zM135.36,376.17h0.9v0.9h-0.9zM132.5,375.46h0.9v0.9h-0.9zM131.09,373.96h0.9v0.9h-0.9zM134.27,371.18h0.9v0.9h-0.9zM134.78,380.31h0.9v0.9h-0.9zM129.4,378.89h0.9v0.9h-0.9zM135.78,372.97h0.9v0.9h-0.9zM127.09,381.78h0.9v0.9h-0.9zM134.15,376.57h0.9v0.9h-0.9zM129.53,384.08h0.9v0.9h-0.9zM138.07,370.8h0.9v0.9h-0.9zM130.98,376.05h0.9v0.9h-0.9zM135.81,370.7h0.9v0.9h-0.9zM132.76,374.23h0.9v0.9h-0.9zM128.31,382.05h0.9v0.9h-0.9zM136.5,372.18h0.9v0.9h-0.9zM128.53,382.13h0.9v0.9h-0.9zM130.65,378.62h0.9v0.9h-0.9zM139.11,373.24h0.9v0.9h-0.9zM131.5,383.86h0.9v0.9h-0.9zM131.62,379.17h0.9v0.9h-0.9zM127.36,380.6h0.9v0.9h-0.9zM125.1,388.31h0.9v0.9h-0.9zM134.81,370.07h0.9v0.9h-0.9zM121.02,381.68h0.9v0.9h-0.9zM135.09,372.12h0.9v0.9h-0.9zM129.64,377.65h0.9v0.9h-0.9zM128.18,376.64h0.9v0.9h-0.9zM128.31,375.44h0.9v0.9h-0.9zM130.54,378.71h0.9v0.9h-0.9zM132.19,375.52h0.9v0.9h-0.9zM126.5,382.03h0.9v0.9h-0.9zM130.57,382.54h0.9v0.9h-0.9zM133.75,374.43h0.9v0.9h-0.9zM127.17,378.76h0.9v0.9h-0.9zM125.56,381.33h0.9v0.9h-0.9zM132.54,377.48h0.9v0.9h-0.9zM136.22,378.9h0.9v0.9h-0.9zM127.19,380.94h0.9v0.9h-0.9zM140.37,362.89h0.9v0.9h-0.9zM128.27,380.41h0.9v0.9h-0.9zM131.73,377.91h0.9v0.9h-0.9zM129.86,379.52h0.9v0.9h-0.9zM131.82,378.94h0.9v0.9h-0.9zM120.37,384.55h0.9v0.9h-0.9zM128.81,376.22h0.9v0.9h-0.9zM126.57,383.4h0.9v0.9h-0.9zM128.39,381.72h0.9v0.9h-0.9zM134.29,375.21h0.9v0.9h-0.9zM132.57,375.56h0.9v0.9h-0.9zM123.89,383.88h0.9v0.9h-0.9zM131.67,375.09h0.9v0.9h-0.9zM131.09,379.55h0.9v0.9h-0.9zM127.35,382.7h0.9v0.9h-0.9zM138.1,369.02h0.9v0.9h-0.9zM130.84,377.03h0.9v0.9h-0.9zM137.95,371.83h0.9v0.9h-0.9zM133.46,372.93h0.9v0.9h-0.9zM130.31,377.95h0.9v0.9h-0.9zM124.45,387.86h0.9v0.9h-0.9zM131.85,371.19h0.9v0.9h-0.9zM133.61,374.5h0.9v0.9h-0.9zM133.02,376.58h0.9v0.9h-0.9zM123.2,383.96h0.9v0.9h-0.9zM136.37,370.57h0.9v0.9h-0.9zM123.63,380.05h0.9v0.9h-0.9zM125.31,383.67h0.9v0.9h-0.9zM138.82,371.36h0.9v0.9h-0.9zM134.94,380.51h0.9v0.9h-0.9zM126.99,379.02h0.9v0.9h-0.9zM133.66,376.54h0.9v0.9h-0.9zM123.96,380.32h0.9v0.9h-0.9zM132.11,377.06h0.9v0.9h-0.9zM124.1,383.16h0.9v0.9h-0.9zM128.61,380.97h0.9v0.9h-0.9zM129.73,378.26h0.9v0.9h-0.9zM130.39,381.14h0.9v0.9h-0.9zM136.22,371.35h0.9v0.9h-0.9zM133.12,373.04h0.9v0.9h-0.9zM131.88,378.82h0.9v0.9h-0.9zM136.76,370.8h0.9v0.9h-0.9zM130.36,378.54h0.9v0.9h-0.9zM123.55,384.33h0.9v0.9h-0.9zM127.87,381.4h0.9v0.9h-0.9zM122.2,379.49h0.9v0.9h-0.9zM130.97,378.16h0.9v0.9h-0.9zM129.24,381.7h0.9v0.9h-0.9zM128.22,378.08h0.9v0.9h-0.9zM130.2,373.29h0.9v0.9h-0.9zM127.26,380.76h0.9v0.9h-0.9zM134.05,374h0.9v0.9h-0.9zM130.81,375.51h0.9v0.9h-0.9zM134.33,379.33h0.9v0.9h-0.9zM130.87,384.71h0.9v0.9h-0.9zM127.47,380.68h0.9v0.9h-0.9zM132.76,378.84h0.9v0.9h-0.9zM121.52,379.75h0.9v0.9h-0.9zM134.39,376.61h0.9v0.9h-0.9zM137.28,379.54h0.9v0.9h-0.9zM131.73,377.44h0.9v0.9h-0.9zM135.23,374.53h0.9v0.9h-0.9zM136.14,368.76h0.9v0.9h-0.9zM123.42,373.86h0.9v0.9h-0.9zM133.56,373.81h0.9v0.9h-0.9zM137.93,377.48h0.9v0.9h-0.9zM129.98,377.51h0.9v0.9h-0.9zM126.83,378.66h0.9v0.9h-0.9zM128.49,381.64h0.9v0.9h-0.9zM130.67,377.85h0.9v0.9h-0.9zM131,380.14h0.9v0.9h-0.9zM132.45,375.55h0.9v0.9h-0.9zM133.22,374.81h0.9v0.9h-0.9zM127.33,385.22h0.9v0.9h-0.9zM131.07,374.34h0.9v0.9h-0.9zM135.88,373.85h0.9v0.9h-0.9zM125.68,387.23h0.9v0.9h-0.9zM133.29,377.93h0.9v0.9h-0.9zM131.08,376.81h0.9v0.9h-0.9zM124.78,386.11h0.9v0.9h-0.9zM130.1,377.3h0.9v0.9h-0.9zM132.13,376.53h0.9v0.9h-0.9zM132.93,374.4h0.9v0.9h-0.9zM126.97,374.55h0.9v0.9h-0.9zM129.49,380.82h0.9v0.9h-0.9zM135.98,371.59h0.9v0.9h-0.9zM132.26,381.01h0.9v0.9h-0.9zM130.03,380.5h0.9v0.9h-0.9zM138.16,370.79h0.9v0.9h-0.9zM134.94,371.49h0.9v0.9h-0.9zM131.23,376.88h0.9v0.9h-0.9zM132.65,379.26h0.9v0.9h-0.9zM140.35,366.59h0.9v0.9h-0.9zM128.52,381.17h0.9v0.9h-0.9zM126.32,383.23h0.9v0.9h-0.9zM132.6,375h0.9v0.9h-0.9zM130.47,373.09h0.9v0.9h-0.9zM131.53,372.12h0.9v0.9h-0.9zM126.36,379.97h0.9v0.9h-0.9zM129.87,381.02h0.9v0.9h-0.9zM130.17,376.9h0.9v0.9h-0.9zM135.31,378.17h0.9v0.9h-0.9zM130.99,378.47h0.9v0.9h-0.9zM136.5,373.04h0.9v0.9h-0.9zM128.32,387.47h0.9v0.9h-0.9zM137.5,365.2h0.9v0.9h-0.9zM130.86,378.75h0.9v0.9h-0.9zM135.85,374.87h0.9v0.9h-0.9zM127.54,377.34h0.9v0.9h-0.9zM132.45,379.15h0.9v0.9h-0.9zM123.83,380.88h0.9v0.9h-0.9zM127.33,374.83h0.9v0.9h-0.9zM128.54,378.3h0.9v0.9h-0.9zM131.4,374.82h0.9v0.9h-0.9zM125.75,381.03h0.9v0.9h-0.9z" fill="#5a88d2" opacity="0.7"/>
<g transform="translate(130.4,377.9) rotate(-43)" filter="url(#soft)">
<ellipse rx="9.04" ry="2.83" fill="#6b93d7"/>
<ellipse rx="7.81" ry="2.44" fill="#4f9dd3"/>
<ellipse rx="6.76" ry="2.11" fill="#56b89c"/>
<ellipse rx="5.71" ry="1.78" fill="#a0ce4e"/>
<ellipse rx="4.28" ry="1.34" fill="#d9d640"/>
<ellipse rx="2.67" ry="0.83" fill="#efb036"/>
<ellipse rx="1.14" ry="0.39" fill="#e4662c"/>
</g>
<ellipse cx="138.7" cy="380.5" rx="10.3" ry="5" transform="rotate(-46 138.7 380.5)" fill="none" stroke="#505050" stroke-width="0.9"/>
<text x="137.3" y="399.6" font-size="6.9" textLength="16.6" lengthAdjust="spacingAndGlyphs">1.63%</text>
<path d="M89.3,363.4 h-2.0 M89.3,380 h-2.0 M89.3,400.4 h-2.0 M89.3,409.8 h-2.0 M89.3,421 h-2.0 M89.3,366.17 h-1.0 M89.3,368.93 h-1.0 M89.3,371.7 h-1.0 M89.3,374.47 h-1.0 M89.3,377.23 h-1.0 M89.3,383.4 h-1.0 M89.3,386.8 h-1.0 M89.3,390.2 h-1.0 M89.3,393.6 h-1.0 M89.3,397 h-1.0 " stroke="#444" stroke-width="0.75"/>
<text x="75.49" y="365" font-size="6.2" textLength="7.01" lengthAdjust="spacingAndGlyphs">10</text>
<text x="82.7" y="362.2" font-size="4">4</text>
<text x="75.49" y="381.6" font-size="6.2" textLength="7.01" lengthAdjust="spacingAndGlyphs">10</text>
<text x="82.7" y="378.8" font-size="4">3</text>
<text x="75.49" y="402" font-size="6.2" textLength="7.01" lengthAdjust="spacingAndGlyphs">10</text>
<text x="82.7" y="399.2" font-size="4">2</text>
<text x="84.7" y="411.7" font-size="6.4" text-anchor="end">0</text>
<text x="73.4" y="422.6" font-size="6.2" textLength="9.1" lengthAdjust="spacingAndGlyphs">-10</text>
<text x="82.7" y="419.8" font-size="4">2</text>
<rect x="88.1" y="408.6" width="1.4" height="2.4" fill="#111"/>
<path d="M93.7,427.4 v1.8 M114.3,427.4 v1.8 M133.3,427.4 v1.8 M153.5,427.4 v1.8 M91.3,427.4 v1.0 M96.4,427.4 v1.0 M101.5,427.4 v1.0 M106.6,427.4 v1.0 M111.7,427.4 v1.0 M116.8,427.4 v1.0 M121.9,427.4 v1.0 M127,427.4 v1.0 M132.1,427.4 v1.0 M137.2,427.4 v1.0 M142.3,427.4 v1.0 M147.4,427.4 v1.0 M152.5,427.4 v1.0 M157.6,427.4 v1.0 " stroke="#444" stroke-width="0.75"/>
<rect x="112.3" y="426.6" width="3.2" height="1.4" fill="#111"/>
<text x="88.25" y="437" font-size="6.6" textLength="9.1" lengthAdjust="spacingAndGlyphs">-10</text>
<text x="97.55" y="434" font-size="4.2">3</text>
<text x="114.3" y="437" font-size="6.6" text-anchor="middle">0</text>
<text x="128.9" y="437" font-size="6.6" textLength="7.01" lengthAdjust="spacingAndGlyphs">10</text>
<text x="136.1" y="434" font-size="4.2">3</text>
<text x="149.1" y="437" font-size="6.6" textLength="7.01" lengthAdjust="spacingAndGlyphs">10</text>
<text x="156.3" y="434" font-size="4.2">4</text>
<text x="107.6" y="449" font-size="8.4" textLength="35.3" lengthAdjust="spacingAndGlyphs">BAK G317-2</text>
<text transform="translate(69.9,411.6) rotate(-90)" font-size="8.8" textLength="39.5" lengthAdjust="spacingAndGlyphs" fill="#1a1a1a">Cytochrome c</text>
<rect x="198.2" y="356.2" width="71.8" height="72.4" fill="#fff" stroke="#cfcfcf" stroke-width="0.8"/>
<path d="M223.23,402.48h0.6v0.6h-0.6zM235.46,392.14h0.6v0.6h-0.6zM224.68,398.76h0.6v0.6h-0.6zM215.74,407.22h0.6v0.6h-0.6zM216.85,396.22h0.6v0.6h-0.6zM230.79,384.89h0.6v0.6h-0.6zM221.21,402.99h0.6v0.6h-0.6zM232.71,390.24h0.6v0.6h-0.6zM212.94,403.92h0.6v0.6h-0.6zM231.78,389.14h0.6v0.6h-0.6zM233.25,382.32h0.6v0.6h-0.6zM232.42,382.27h0.6v0.6h-0.6zM232.11,388.17h0.6v0.6h-0.6zM233.22,390.18h0.6v0.6h-0.6zM224.48,398.8h0.6v0.6h-0.6zM230.16,388.57h0.6v0.6h-0.6zM232.44,393.88h0.6v0.6h-0.6zM227.5,396.2h0.6v0.6h-0.6zM226.1,390.67h0.6v0.6h-0.6zM237.57,387.17h0.6v0.6h-0.6zM228.76,394.25h0.6v0.6h-0.6zM217.1,409.27h0.6v0.6h-0.6zM225.93,393.29h0.6v0.6h-0.6zM216.38,408.66h0.6v0.6h-0.6zM222.92,400.69h0.6v0.6h-0.6zM215.26,407.08h0.6v0.6h-0.6zM231.34,390.2h0.6v0.6h-0.6zM237.3,386.02h0.6v0.6h-0.6zM225.5,397.58h0.6v0.6h-0.6zM222.92,399.83h0.6v0.6h-0.6zM233.85,388.26h0.6v0.6h-0.6zM221.14,407.4h0.6v0.6h-0.6zM222.93,402.08h0.6v0.6h-0.6zM241.25,382.41h0.6v0.6h-0.6zM233.13,395.93h0.6v0.6h-0.6zM232.51,389.62h0.6v0.6h-0.6zM223.25,406.65h0.6v0.6h-0.6zM228.97,390.01h0.6v0.6h-0.6zM221.53,404.66h0.6v0.6h-0.6zM226.96,391.62h0.6v0.6h-0.6zM208.54,370.72h0.6v0.6h-0.6zM249.35,403.67h0.6v0.6h-0.6zM202.99,386.7h0.6v0.6h-0.6zM251.56,360.13h0.6v0.6h-0.6zM257.03,364.17h0.6v0.6h-0.6zM240.85,386.08h0.6v0.6h-0.6zM242.71,373.72h0.6v0.6h-0.6zM228.68,387.73h0.6v0.6h-0.6zM229.07,391.59h0.6v0.6h-0.6zM230.49,380.42h0.6v0.6h-0.6zM201.78,389.57h0.6v0.6h-0.6zM233.39,370.12h0.6v0.6h-0.6zM251.97,397.73h0.6v0.6h-0.6zM231.27,367.3h0.6v0.6h-0.6zM232.28,363.63h0.6v0.6h-0.6zM208.91,380.02h0.6v0.6h-0.6zM206.42,380.6h0.6v0.6h-0.6zM234.79,360.27h0.6v0.6h-0.6z" fill="#b7c6e2"/>
<path d="M239.68,378.15h0.9v0.9h-0.9zM237.94,375.44h0.9v0.9h-0.9zM239.83,378.89h0.9v0.9h-0.9zM236.9,381.63h0.9v0.9h-0.9zM243.51,375.03h0.9v0.9h-0.9zM246.94,364.35h0.9v0.9h-0.9zM237.66,375.39h0.9v0.9h-0.9zM249.95,377.66h0.9v0.9h-0.9zM230.12,388.41h0.9v0.9h-0.9zM243.32,374.78h0.9v0.9h-0.9zM240.5,371.47h0.9v0.9h-0.9zM245.88,374.46h0.9v0.9h-0.9zM240.61,376.44h0.9v0.9h-0.9zM243.59,373.97h0.9v0.9h-0.9zM241.64,375.71h0.9v0.9h-0.9zM231.05,387.06h0.9v0.9h-0.9zM243.48,377.87h0.9v0.9h-0.9zM237.33,381.19h0.9v0.9h-0.9zM244.45,375.1h0.9v0.9h-0.9zM250.14,375.45h0.9v0.9h-0.9zM234.3,378.24h0.9v0.9h-0.9zM247.67,376.34h0.9v0.9h-0.9zM246.87,374.89h0.9v0.9h-0.9zM237.47,378.98h0.9v0.9h-0.9zM244.08,372.21h0.9v0.9h-0.9zM231.56,383.62h0.9v0.9h-0.9zM255.77,369.99h0.9v0.9h-0.9zM237.14,379.24h0.9v0.9h-0.9zM241.32,375.28h0.9v0.9h-0.9zM247.29,371.77h0.9v0.9h-0.9zM238.42,384.29h0.9v0.9h-0.9zM239.06,380.36h0.9v0.9h-0.9zM240.86,377.04h0.9v0.9h-0.9zM241.83,374.98h0.9v0.9h-0.9zM229.57,381.77h0.9v0.9h-0.9zM234.43,381.68h0.9v0.9h-0.9zM241.38,377.69h0.9v0.9h-0.9zM244.13,375.32h0.9v0.9h-0.9zM236.68,379.73h0.9v0.9h-0.9zM231.42,386.29h0.9v0.9h-0.9zM244.43,376.29h0.9v0.9h-0.9zM240.58,377.73h0.9v0.9h-0.9zM245.72,373.52h0.9v0.9h-0.9zM245.67,375.3h0.9v0.9h-0.9zM244.37,378.73h0.9v0.9h-0.9zM238.22,379.36h0.9v0.9h-0.9zM236.48,379.65h0.9v0.9h-0.9zM251.23,373.73h0.9v0.9h-0.9zM242.37,378.33h0.9v0.9h-0.9zM248.02,373.8h0.9v0.9h-0.9zM245,370.28h0.9v0.9h-0.9zM239.16,380.98h0.9v0.9h-0.9zM248.14,371.53h0.9v0.9h-0.9zM236.92,380.59h0.9v0.9h-0.9zM237.06,378.92h0.9v0.9h-0.9zM247.33,370.05h0.9v0.9h-0.9zM244.8,380.96h0.9v0.9h-0.9zM247.35,372.98h0.9v0.9h-0.9zM239.22,380.79h0.9v0.9h-0.9zM249.79,371.58h0.9v0.9h-0.9zM247.34,372.26h0.9v0.9h-0.9zM243.46,374.96h0.9v0.9h-0.9zM245.34,377.8h0.9v0.9h-0.9zM234.74,383.52h0.9v0.9h-0.9zM241.63,375.54h0.9v0.9h-0.9zM241.19,380.11h0.9v0.9h-0.9zM251.54,369.97h0.9v0.9h-0.9zM240.53,373.56h0.9v0.9h-0.9zM250.36,369.38h0.9v0.9h-0.9zM239.54,375.81h0.9v0.9h-0.9zM239.46,375.95h0.9v0.9h-0.9zM242.44,377.96h0.9v0.9h-0.9zM241.97,377.82h0.9v0.9h-0.9zM239.68,383.49h0.9v0.9h-0.9zM235.63,377.32h0.9v0.9h-0.9zM239.37,377.05h0.9v0.9h-0.9zM236.23,381.24h0.9v0.9h-0.9zM240.93,374.32h0.9v0.9h-0.9zM242.95,380.43h0.9v0.9h-0.9zM244.3,374.33h0.9v0.9h-0.9zM241.8,376.76h0.9v0.9h-0.9zM242.3,378.9h0.9v0.9h-0.9zM237.3,373.96h0.9v0.9h-0.9zM239.94,376.13h0.9v0.9h-0.9zM243.46,373.71h0.9v0.9h-0.9zM245.41,380.43h0.9v0.9h-0.9zM234.88,380.14h0.9v0.9h-0.9zM231.27,379.61h0.9v0.9h-0.9zM233.34,386.13h0.9v0.9h-0.9zM235.62,377.17h0.9v0.9h-0.9zM235.54,384.85h0.9v0.9h-0.9zM237.28,380.22h0.9v0.9h-0.9zM244.99,378.31h0.9v0.9h-0.9zM251.88,370.89h0.9v0.9h-0.9zM242.34,377.19h0.9v0.9h-0.9zM251.85,372.13h0.9v0.9h-0.9zM240.67,379.58h0.9v0.9h-0.9zM242.8,376.36h0.9v0.9h-0.9zM237.08,377.47h0.9v0.9h-0.9zM236.59,377.25h0.9v0.9h-0.9zM247.83,373.14h0.9v0.9h-0.9zM238,384.95h0.9v0.9h-0.9zM242.57,370.56h0.9v0.9h-0.9zM251.08,370.95h0.9v0.9h-0.9zM248.99,366.65h0.9v0.9h-0.9zM244.48,375.92h0.9v0.9h-0.9zM242.59,376.92h0.9v0.9h-0.9zM243.95,370.55h0.9v0.9h-0.9zM233.57,380.53h0.9v0.9h-0.9zM237.92,378.89h0.9v0.9h-0.9zM243.49,376.37h0.9v0.9h-0.9zM240.51,376.26h0.9v0.9h-0.9zM240.83,380.95h0.9v0.9h-0.9zM245.06,374.4h0.9v0.9h-0.9zM242.29,381.42h0.9v0.9h-0.9zM239.67,381.1h0.9v0.9h-0.9zM246.29,372.13h0.9v0.9h-0.9zM243.48,372.14h0.9v0.9h-0.9zM246.35,373.5h0.9v0.9h-0.9zM235.14,385.38h0.9v0.9h-0.9zM239.27,383.42h0.9v0.9h-0.9zM238.03,380.13h0.9v0.9h-0.9zM242.19,375.75h0.9v0.9h-0.9zM241.75,375.48h0.9v0.9h-0.9zM244.49,374.64h0.9v0.9h-0.9zM238.16,372.09h0.9v0.9h-0.9zM246.78,372.58h0.9v0.9h-0.9zM233.37,385.28h0.9v0.9h-0.9zM245.18,377.26h0.9v0.9h-0.9zM238.8,384.67h0.9v0.9h-0.9zM244.33,382.1h0.9v0.9h-0.9zM241.77,379.24h0.9v0.9h-0.9zM238.01,377.24h0.9v0.9h-0.9zM247.82,374.29h0.9v0.9h-0.9zM249.77,372.32h0.9v0.9h-0.9zM236.23,377.23h0.9v0.9h-0.9zM237.38,379.18h0.9v0.9h-0.9zM238.55,381.94h0.9v0.9h-0.9zM242.49,375.66h0.9v0.9h-0.9zM241.97,376.52h0.9v0.9h-0.9zM243.52,377.82h0.9v0.9h-0.9zM244.75,372.27h0.9v0.9h-0.9zM236.67,386.28h0.9v0.9h-0.9zM243.61,378.82h0.9v0.9h-0.9zM233.36,383.99h0.9v0.9h-0.9zM239.32,375.02h0.9v0.9h-0.9zM240.14,380.89h0.9v0.9h-0.9zM248.78,375.5h0.9v0.9h-0.9zM235.3,378.9h0.9v0.9h-0.9zM245.22,376.81h0.9v0.9h-0.9zM240.3,374.54h0.9v0.9h-0.9zM246.2,375.45h0.9v0.9h-0.9zM243.19,374.34h0.9v0.9h-0.9zM244,377.49h0.9v0.9h-0.9zM236.02,376.87h0.9v0.9h-0.9zM243.64,376.88h0.9v0.9h-0.9zM242.82,378.9h0.9v0.9h-0.9zM238.58,379.87h0.9v0.9h-0.9zM240.87,379.74h0.9v0.9h-0.9zM248.34,370.26h0.9v0.9h-0.9zM253.16,371.21h0.9v0.9h-0.9zM245.92,375.08h0.9v0.9h-0.9zM249.25,369.63h0.9v0.9h-0.9zM239.26,376.24h0.9v0.9h-0.9zM245.62,377.68h0.9v0.9h-0.9zM244.49,375.92h0.9v0.9h-0.9zM240.74,378.64h0.9v0.9h-0.9zM236.47,385.31h0.9v0.9h-0.9zM237.83,377.44h0.9v0.9h-0.9zM236.69,379.36h0.9v0.9h-0.9zM246.94,375.58h0.9v0.9h-0.9zM236.59,384.83h0.9v0.9h-0.9zM244.59,372.75h0.9v0.9h-0.9zM233.44,382.64h0.9v0.9h-0.9zM239.02,380.77h0.9v0.9h-0.9zM236.66,375.71h0.9v0.9h-0.9zM240.13,373.99h0.9v0.9h-0.9zM243.71,371.65h0.9v0.9h-0.9zM236.92,379.06h0.9v0.9h-0.9zM240.89,381.95h0.9v0.9h-0.9zM246.23,374.84h0.9v0.9h-0.9zM240.5,373.6h0.9v0.9h-0.9zM238.17,378.82h0.9v0.9h-0.9zM237.69,382.52h0.9v0.9h-0.9zM236.92,379.51h0.9v0.9h-0.9zM233.47,378.6h0.9v0.9h-0.9zM246.16,377.13h0.9v0.9h-0.9zM240.71,375.15h0.9v0.9h-0.9zM229.26,389.35h0.9v0.9h-0.9zM247.43,372.78h0.9v0.9h-0.9zM247.91,375.96h0.9v0.9h-0.9zM245.89,371.96h0.9v0.9h-0.9zM247.41,374.27h0.9v0.9h-0.9zM233.73,383.41h0.9v0.9h-0.9zM234.7,383.41h0.9v0.9h-0.9zM242.42,373.28h0.9v0.9h-0.9zM233.95,388.42h0.9v0.9h-0.9zM245.38,378.3h0.9v0.9h-0.9zM236.95,384.9h0.9v0.9h-0.9zM253.98,371.92h0.9v0.9h-0.9zM240.85,378.84h0.9v0.9h-0.9zM242.22,379.79h0.9v0.9h-0.9zM246.29,373.2h0.9v0.9h-0.9zM236.3,384.53h0.9v0.9h-0.9zM240.21,380.54h0.9v0.9h-0.9zM245.09,379.03h0.9v0.9h-0.9zM245.93,371.89h0.9v0.9h-0.9zM245.7,378.9h0.9v0.9h-0.9zM239.6,380.51h0.9v0.9h-0.9zM248.78,374.47h0.9v0.9h-0.9zM241.76,373.12h0.9v0.9h-0.9zM235.99,383.3h0.9v0.9h-0.9zM247.07,380.02h0.9v0.9h-0.9zM239.19,383.05h0.9v0.9h-0.9zM242.38,371.47h0.9v0.9h-0.9zM237.9,381.27h0.9v0.9h-0.9zM238.9,379.36h0.9v0.9h-0.9zM242.32,374.16h0.9v0.9h-0.9zM242.57,374.46h0.9v0.9h-0.9zM239.72,380.71h0.9v0.9h-0.9zM239.21,380.42h0.9v0.9h-0.9zM248.78,370.7h0.9v0.9h-0.9zM241.85,379.33h0.9v0.9h-0.9zM241.38,380.84h0.9v0.9h-0.9zM236.46,384h0.9v0.9h-0.9zM237.83,378.38h0.9v0.9h-0.9zM248.22,368.54h0.9v0.9h-0.9zM250.46,371.06h0.9v0.9h-0.9zM246.57,369.68h0.9v0.9h-0.9zM249.13,374.76h0.9v0.9h-0.9zM240.67,377.79h0.9v0.9h-0.9zM252.94,367.29h0.9v0.9h-0.9zM238.5,378.28h0.9v0.9h-0.9zM243.95,376.13h0.9v0.9h-0.9zM244.84,379.56h0.9v0.9h-0.9zM240.62,379.68h0.9v0.9h-0.9zM246.56,369.61h0.9v0.9h-0.9zM248.96,376.06h0.9v0.9h-0.9zM233.51,381.5h0.9v0.9h-0.9zM233.82,378.92h0.9v0.9h-0.9zM240.64,372.52h0.9v0.9h-0.9zM245.91,377.75h0.9v0.9h-0.9zM233.51,383.89h0.9v0.9h-0.9zM233.79,386.98h0.9v0.9h-0.9zM237.61,380.22h0.9v0.9h-0.9zM242.48,378.16h0.9v0.9h-0.9zM239.83,379.01h0.9v0.9h-0.9zM239.07,380.03h0.9v0.9h-0.9zM236.12,382.62h0.9v0.9h-0.9zM231.79,384.96h0.9v0.9h-0.9zM250.31,369.44h0.9v0.9h-0.9zM236.01,383.31h0.9v0.9h-0.9zM234.42,378.95h0.9v0.9h-0.9zM239.15,381.86h0.9v0.9h-0.9zM243.01,375.7h0.9v0.9h-0.9zM235.5,379.7h0.9v0.9h-0.9zM247.96,372.13h0.9v0.9h-0.9zM233.81,378.11h0.9v0.9h-0.9zM238.9,387.41h0.9v0.9h-0.9zM236.01,382.29h0.9v0.9h-0.9zM242.12,376.34h0.9v0.9h-0.9zM238.03,376.44h0.9v0.9h-0.9zM239.16,384.76h0.9v0.9h-0.9zM239.22,382.12h0.9v0.9h-0.9zM233.21,384.3h0.9v0.9h-0.9zM244.18,378.08h0.9v0.9h-0.9zM237.16,383.28h0.9v0.9h-0.9zM242.04,374.64h0.9v0.9h-0.9zM242.22,373.99h0.9v0.9h-0.9zM237.72,380.87h0.9v0.9h-0.9zM228.78,388.93h0.9v0.9h-0.9zM234.58,379.38h0.9v0.9h-0.9zM240.62,380.57h0.9v0.9h-0.9zM241.48,381.3h0.9v0.9h-0.9zM234.08,380.31h0.9v0.9h-0.9zM249.12,371.52h0.9v0.9h-0.9zM244.47,372.1h0.9v0.9h-0.9zM245.49,374.48h0.9v0.9h-0.9zM244.41,374.77h0.9v0.9h-0.9zM245.94,371.28h0.9v0.9h-0.9zM234.72,379.2h0.9v0.9h-0.9zM245.6,371.33h0.9v0.9h-0.9zM235.18,380.42h0.9v0.9h-0.9zM237.42,377.32h0.9v0.9h-0.9zM239.11,377.71h0.9v0.9h-0.9zM237.41,378.29h0.9v0.9h-0.9zM240.86,376.59h0.9v0.9h-0.9zM242.31,377.42h0.9v0.9h-0.9zM239.62,372.46h0.9v0.9h-0.9zM237.73,378.49h0.9v0.9h-0.9zM242.54,371.6h0.9v0.9h-0.9zM237.67,380.07h0.9v0.9h-0.9zM241.37,380.56h0.9v0.9h-0.9zM240.84,380.97h0.9v0.9h-0.9zM231.91,380.8h0.9v0.9h-0.9zM247.66,373h0.9v0.9h-0.9zM243.83,375.62h0.9v0.9h-0.9zM241.76,373.44h0.9v0.9h-0.9zM244.94,372.57h0.9v0.9h-0.9zM246.06,373.43h0.9v0.9h-0.9zM230.38,383.83h0.9v0.9h-0.9zM246.36,372.45h0.9v0.9h-0.9zM239.96,379.59h0.9v0.9h-0.9zM238.62,378.43h0.9v0.9h-0.9zM242.09,377.3h0.9v0.9h-0.9zM248.43,371.09h0.9v0.9h-0.9zM252.78,372.41h0.9v0.9h-0.9zM250.9,371.9h0.9v0.9h-0.9zM242.21,377.17h0.9v0.9h-0.9zM239.63,376.91h0.9v0.9h-0.9zM240.12,376.73h0.9v0.9h-0.9zM249.74,371.36h0.9v0.9h-0.9zM236.43,376.27h0.9v0.9h-0.9zM240.52,377.05h0.9v0.9h-0.9zM234.68,380.28h0.9v0.9h-0.9zM231.95,388.06h0.9v0.9h-0.9zM245.04,382.01h0.9v0.9h-0.9zM241.03,377.39h0.9v0.9h-0.9zM248.23,371.54h0.9v0.9h-0.9zM241.6,376.18h0.9v0.9h-0.9zM240.91,382.55h0.9v0.9h-0.9zM248.61,376.03h0.9v0.9h-0.9zM239.84,379.05h0.9v0.9h-0.9zM238.84,382.85h0.9v0.9h-0.9zM235.87,384.38h0.9v0.9h-0.9zM248.58,375.12h0.9v0.9h-0.9zM238.75,383.31h0.9v0.9h-0.9zM236.97,379.31h0.9v0.9h-0.9zM237.1,385.05h0.9v0.9h-0.9zM248.05,369.47h0.9v0.9h-0.9zM237.4,380.19h0.9v0.9h-0.9zM254.44,368.42h0.9v0.9h-0.9zM236.17,376.88h0.9v0.9h-0.9zM240.13,382.32h0.9v0.9h-0.9zM249.56,369.07h0.9v0.9h-0.9zM237.45,379.62h0.9v0.9h-0.9zM234.14,387.05h0.9v0.9h-0.9zM238.04,383.89h0.9v0.9h-0.9zM231.63,382.72h0.9v0.9h-0.9zM241.56,375.02h0.9v0.9h-0.9z" fill="#5a88d2" opacity="0.7"/>
<g transform="translate(241.4,377.5) rotate(-43)" filter="url(#soft)">
<ellipse rx="9.04" ry="2.83" fill="#6b93d7"/>
<ellipse rx="7.81" ry="2.44" fill="#4f9dd3"/>
<ellipse rx="6.76" ry="2.11" fill="#56b89c"/>
<ellipse rx="5.71" ry="1.78" fill="#a0ce4e"/>
<ellipse rx="4.28" ry="1.34" fill="#d9d640"/>
<ellipse rx="2.67" ry="0.83" fill="#efb036"/>
<ellipse rx="1.14" ry="0.39" fill="#e4662c"/>
</g>
<ellipse cx="248.1" cy="381.1" rx="10.4" ry="5" transform="rotate(-46 248.1 381.1)" fill="none" stroke="#505050" stroke-width="0.9"/>
<text x="245.8" y="401.2" font-size="6.9" textLength="16.6" lengthAdjust="spacingAndGlyphs">0.64%</text>
<path d="M198.2,364.6 h-2.0 M198.2,381.2 h-2.0 M198.2,401.6 h-2.0 M198.2,411 h-2.0 M198.2,422.2 h-2.0 M198.2,367.37 h-1.0 M198.2,370.13 h-1.0 M198.2,372.9 h-1.0 M198.2,375.67 h-1.0 M198.2,378.43 h-1.0 M198.2,384.6 h-1.0 M198.2,388 h-1.0 M198.2,391.4 h-1.0 M198.2,394.8 h-1.0 M198.2,398.2 h-1.0 " stroke="#444" stroke-width="0.75"/>
<text x="184.39" y="366.2" font-size="6.2" textLength="7.01" lengthAdjust="spacingAndGlyphs">10</text>
<text x="191.6" y="363.4" font-size="4">4</text>
<text x="184.39" y="382.8" font-size="6.2" textLength="7.01" lengthAdjust="spacingAndGlyphs">10</text>
<text x="191.6" y="380" font-size="4">3</text>
<text x="184.39" y="403.2" font-size="6.2" textLength="7.01" lengthAdjust="spacingAndGlyphs">10</text>
<text x="191.6" y="400.4" font-size="4">2</text>
<text x="193.6" y="412.9" font-size="6.4" text-anchor="end">0</text>
<text x="182.3" y="423.8" font-size="6.2" textLength="9.1" lengthAdjust="spacingAndGlyphs">-10</text>
<text x="191.6" y="421" font-size="4">2</text>
<rect x="197" y="409.8" width="1.4" height="2.4" fill="#111"/>
<path d="M202.6,428.6 v1.8 M223.2,428.6 v1.8 M242.2,428.6 v1.8 M262.4,428.6 v1.8 M200.2,428.6 v1.0 M205.3,428.6 v1.0 M210.4,428.6 v1.0 M215.5,428.6 v1.0 M220.6,428.6 v1.0 M225.7,428.6 v1.0 M230.8,428.6 v1.0 M235.9,428.6 v1.0 M241,428.6 v1.0 M246.1,428.6 v1.0 M251.2,428.6 v1.0 M256.3,428.6 v1.0 M261.4,428.6 v1.0 M266.5,428.6 v1.0 " stroke="#444" stroke-width="0.75"/>
<rect x="221.2" y="427.8" width="3.2" height="1.4" fill="#111"/>
<text x="197.15" y="438.2" font-size="6.6" textLength="9.1" lengthAdjust="spacingAndGlyphs">-10</text>
<text x="206.45" y="435.2" font-size="4.2">3</text>
<text x="223.2" y="438.2" font-size="6.6" text-anchor="middle">0</text>
<text x="237.8" y="438.2" font-size="6.6" textLength="7.01" lengthAdjust="spacingAndGlyphs">10</text>
<text x="245" y="435.2" font-size="4.2">3</text>
<text x="258" y="438.2" font-size="6.6" textLength="7.01" lengthAdjust="spacingAndGlyphs">10</text>
<text x="265.2" y="435.2" font-size="4.2">4</text>
<text x="216.5" y="450.2" font-size="8.4" textLength="35.3" lengthAdjust="spacingAndGlyphs">BAK G317-2</text>
<rect x="315.4" y="356.5" width="71.8" height="72.4" fill="#fff" stroke="#cfcfcf" stroke-width="0.8"/>
<path d="M355.94,378.78h0.6v0.6h-0.6zM328.55,384.92h0.6v0.6h-0.6zM356.79,359.57h0.6v0.6h-0.6zM370.57,383.67h0.6v0.6h-0.6zM355.64,360.1h0.6v0.6h-0.6zM334.92,375.21h0.6v0.6h-0.6zM360.08,364.1h0.6v0.6h-0.6zM332.63,358.4h0.6v0.6h-0.6zM341.63,382.16h0.6v0.6h-0.6zM321.39,372.79h0.6v0.6h-0.6zM352.15,394.55h0.6v0.6h-0.6zM354.3,375.66h0.6v0.6h-0.6zM328.51,369.34h0.6v0.6h-0.6zM335.7,380.17h0.6v0.6h-0.6zM344.31,395.37h0.6v0.6h-0.6zM349.02,367.98h0.6v0.6h-0.6zM366.62,388.19h0.6v0.6h-0.6zM346.42,371.49h0.6v0.6h-0.6zM318.81,368.48h0.6v0.6h-0.6zM357.76,370.67h0.6v0.6h-0.6zM326.52,380.66h0.6v0.6h-0.6zM348.41,384.76h0.6v0.6h-0.6zM354.18,392.79h0.6v0.6h-0.6zM333.25,388.49h0.6v0.6h-0.6zM331.18,385.64h0.6v0.6h-0.6zM347.51,381.13h0.6v0.6h-0.6zM358.55,378.53h0.6v0.6h-0.6zM360.57,387.45h0.6v0.6h-0.6zM346.9,373.03h0.6v0.6h-0.6zM334.45,373.42h0.6v0.6h-0.6zM342.17,378.45h0.6v0.6h-0.6zM355.77,370.09h0.6v0.6h-0.6zM335.05,375.51h0.6v0.6h-0.6zM347.69,368.34h0.6v0.6h-0.6zM367.57,373.07h0.6v0.6h-0.6zM344.9,381.48h0.6v0.6h-0.6zM347.68,384.72h0.6v0.6h-0.6zM348.92,380.32h0.6v0.6h-0.6zM355.19,402.63h0.6v0.6h-0.6zM348.47,406.5h0.6v0.6h-0.6zM379.09,361.75h0.6v0.6h-0.6zM357.95,378.64h0.6v0.6h-0.6zM325.53,407.12h0.6v0.6h-0.6zM334.84,387.11h0.6v0.6h-0.6zM360.83,406.97h0.6v0.6h-0.6zM362.81,378.42h0.6v0.6h-0.6zM347.8,366.6h0.6v0.6h-0.6zM382.88,408.76h0.6v0.6h-0.6zM332.43,360.46h0.6v0.6h-0.6zM334.75,376.34h0.6v0.6h-0.6zM378.61,404.34h0.6v0.6h-0.6zM374.16,360.88h0.6v0.6h-0.6zM370.72,394.46h0.6v0.6h-0.6zM361.25,408.44h0.6v0.6h-0.6zM321.18,365.84h0.6v0.6h-0.6zM368.59,406.11h0.6v0.6h-0.6z" fill="#b7c6e2"/>
<path d="M341.63,376.05h0.9v0.9h-0.9zM334.71,377.26h0.9v0.9h-0.9zM350.2,379.82h0.9v0.9h-0.9zM345.51,381.02h0.9v0.9h-0.9zM341.19,380.13h0.9v0.9h-0.9zM345.96,381.08h0.9v0.9h-0.9zM344.37,378.2h0.9v0.9h-0.9zM343.31,376.09h0.9v0.9h-0.9zM360.08,376.84h0.9v0.9h-0.9zM350.68,388.06h0.9v0.9h-0.9zM352.09,369.21h0.9v0.9h-0.9zM350.56,381.12h0.9v0.9h-0.9zM358.85,381.04h0.9v0.9h-0.9zM348.48,372.06h0.9v0.9h-0.9zM339.72,381.5h0.9v0.9h-0.9zM346.96,373.24h0.9v0.9h-0.9zM342.01,377.64h0.9v0.9h-0.9zM345.82,380.08h0.9v0.9h-0.9zM341.58,373.75h0.9v0.9h-0.9zM355.05,383.47h0.9v0.9h-0.9zM345.62,383.44h0.9v0.9h-0.9zM348.71,380.8h0.9v0.9h-0.9zM347.14,374.43h0.9v0.9h-0.9zM349.99,382.11h0.9v0.9h-0.9zM341.71,389.07h0.9v0.9h-0.9zM360.81,382.9h0.9v0.9h-0.9zM358.79,378.3h0.9v0.9h-0.9zM342.05,376.67h0.9v0.9h-0.9zM339.9,380.72h0.9v0.9h-0.9zM345.64,381.73h0.9v0.9h-0.9zM334.89,392.68h0.9v0.9h-0.9zM359.67,374.36h0.9v0.9h-0.9zM349.97,379.55h0.9v0.9h-0.9zM346.5,377.27h0.9v0.9h-0.9zM343.16,375.28h0.9v0.9h-0.9zM346.12,378.26h0.9v0.9h-0.9zM345.98,374.32h0.9v0.9h-0.9zM345.32,378.84h0.9v0.9h-0.9zM347.55,372.87h0.9v0.9h-0.9zM348.96,382.28h0.9v0.9h-0.9zM348.39,375.96h0.9v0.9h-0.9zM341.53,378.56h0.9v0.9h-0.9zM351.68,384.23h0.9v0.9h-0.9zM343.16,376.15h0.9v0.9h-0.9zM347.69,378.91h0.9v0.9h-0.9zM338.2,377.12h0.9v0.9h-0.9zM345.2,381.86h0.9v0.9h-0.9zM336,376.4h0.9v0.9h-0.9zM346.67,372.35h0.9v0.9h-0.9zM346.15,380.06h0.9v0.9h-0.9zM342.99,374.4h0.9v0.9h-0.9zM344.19,377.34h0.9v0.9h-0.9zM346.11,374.36h0.9v0.9h-0.9zM349.92,369.26h0.9v0.9h-0.9zM343.87,379.06h0.9v0.9h-0.9zM350.44,374.22h0.9v0.9h-0.9zM347.81,375.18h0.9v0.9h-0.9zM351.98,385.03h0.9v0.9h-0.9zM342.97,381.4h0.9v0.9h-0.9zM340.25,384.73h0.9v0.9h-0.9zM352.87,376.61h0.9v0.9h-0.9zM338.18,382.58h0.9v0.9h-0.9zM353.81,381.4h0.9v0.9h-0.9zM347.93,369.09h0.9v0.9h-0.9zM342.41,386.26h0.9v0.9h-0.9zM338.52,385.98h0.9v0.9h-0.9zM358.13,378.59h0.9v0.9h-0.9zM351.81,375.15h0.9v0.9h-0.9zM336.95,380.51h0.9v0.9h-0.9zM343.65,378.86h0.9v0.9h-0.9zM349.32,376.77h0.9v0.9h-0.9zM346.78,380.22h0.9v0.9h-0.9zM347.31,386.88h0.9v0.9h-0.9zM347.97,378.26h0.9v0.9h-0.9zM342.86,376.32h0.9v0.9h-0.9zM353.87,376.87h0.9v0.9h-0.9zM337.32,378.21h0.9v0.9h-0.9zM343.55,376.98h0.9v0.9h-0.9zM350.53,371.55h0.9v0.9h-0.9zM348.36,378.42h0.9v0.9h-0.9zM337.45,381.09h0.9v0.9h-0.9zM345.03,381.1h0.9v0.9h-0.9zM342.48,380.88h0.9v0.9h-0.9zM332.87,376.98h0.9v0.9h-0.9zM351.39,381.86h0.9v0.9h-0.9zM344.16,376.07h0.9v0.9h-0.9zM349.34,367.43h0.9v0.9h-0.9zM340.69,383.16h0.9v0.9h-0.9zM347.9,372.92h0.9v0.9h-0.9zM334.65,388.63h0.9v0.9h-0.9zM344.85,374.45h0.9v0.9h-0.9zM346.5,382.59h0.9v0.9h-0.9zM329.67,388.42h0.9v0.9h-0.9zM347.14,368.11h0.9v0.9h-0.9zM347.72,369.39h0.9v0.9h-0.9zM352.87,378.35h0.9v0.9h-0.9zM358.77,371.82h0.9v0.9h-0.9zM346.36,383.33h0.9v0.9h-0.9zM339.97,376.76h0.9v0.9h-0.9zM342.51,379.07h0.9v0.9h-0.9zM338.62,382.85h0.9v0.9h-0.9zM348.6,378.01h0.9v0.9h-0.9zM355.57,374.1h0.9v0.9h-0.9zM352.75,373.86h0.9v0.9h-0.9zM347.42,368.73h0.9v0.9h-0.9zM346.06,377.56h0.9v0.9h-0.9zM341.03,376.91h0.9v0.9h-0.9zM341.84,376.15h0.9v0.9h-0.9zM330.08,380.12h0.9v0.9h-0.9zM340.78,377.4h0.9v0.9h-0.9zM337.99,380.06h0.9v0.9h-0.9zM349.75,376.14h0.9v0.9h-0.9zM343.54,385.63h0.9v0.9h-0.9zM352.48,380.97h0.9v0.9h-0.9zM352.05,375.11h0.9v0.9h-0.9zM345.58,383.87h0.9v0.9h-0.9zM341.27,379.2h0.9v0.9h-0.9zM347.91,379.65h0.9v0.9h-0.9zM344.46,383.57h0.9v0.9h-0.9zM344.77,382.24h0.9v0.9h-0.9zM352.75,379.64h0.9v0.9h-0.9zM348.26,372.2h0.9v0.9h-0.9zM335.75,378.39h0.9v0.9h-0.9zM349.98,384.47h0.9v0.9h-0.9zM337.49,382.32h0.9v0.9h-0.9zM338.55,377.04h0.9v0.9h-0.9zM344.09,382.28h0.9v0.9h-0.9zM347.87,383.53h0.9v0.9h-0.9zM339.76,384.46h0.9v0.9h-0.9zM351.1,377.29h0.9v0.9h-0.9zM347.37,375.32h0.9v0.9h-0.9zM337.44,378.92h0.9v0.9h-0.9zM344.52,392.69h0.9v0.9h-0.9zM343.96,386.91h0.9v0.9h-0.9zM346.7,379.71h0.9v0.9h-0.9zM348.81,373.87h0.9v0.9h-0.9zM351.4,378.67h0.9v0.9h-0.9zM335.97,384.17h0.9v0.9h-0.9zM349.14,379.68h0.9v0.9h-0.9zM354.71,373.93h0.9v0.9h-0.9zM349.26,381.07h0.9v0.9h-0.9zM340.71,385.68h0.9v0.9h-0.9zM333.98,375.63h0.9v0.9h-0.9zM346.99,372.91h0.9v0.9h-0.9zM342.16,371.63h0.9v0.9h-0.9zM344.01,373.55h0.9v0.9h-0.9zM345.26,371.28h0.9v0.9h-0.9zM347.56,376.69h0.9v0.9h-0.9zM345.33,378.28h0.9v0.9h-0.9zM344.17,372.61h0.9v0.9h-0.9zM328.47,383.6h0.9v0.9h-0.9zM338.38,378.42h0.9v0.9h-0.9zM345.23,369.12h0.9v0.9h-0.9zM339.3,377.41h0.9v0.9h-0.9zM338.59,382.11h0.9v0.9h-0.9zM343.05,375.32h0.9v0.9h-0.9zM339.67,384.1h0.9v0.9h-0.9zM341.48,382.51h0.9v0.9h-0.9zM345.5,369.48h0.9v0.9h-0.9zM338,380.72h0.9v0.9h-0.9zM348.2,381.52h0.9v0.9h-0.9zM351.5,381.79h0.9v0.9h-0.9zM342.32,378.46h0.9v0.9h-0.9zM349.47,375.38h0.9v0.9h-0.9zM349.81,369.7h0.9v0.9h-0.9zM349,376.72h0.9v0.9h-0.9zM333.54,386.68h0.9v0.9h-0.9zM347.04,378.22h0.9v0.9h-0.9zM337.45,378.63h0.9v0.9h-0.9zM353.71,372.24h0.9v0.9h-0.9zM321.49,381.34h0.9v0.9h-0.9zM337.08,380.34h0.9v0.9h-0.9zM341.3,375.39h0.9v0.9h-0.9zM340.89,384.9h0.9v0.9h-0.9zM338.17,390.04h0.9v0.9h-0.9zM340.1,374.87h0.9v0.9h-0.9zM350.8,379.74h0.9v0.9h-0.9zM339.21,383.95h0.9v0.9h-0.9zM331.94,378.02h0.9v0.9h-0.9zM351.95,375.48h0.9v0.9h-0.9zM337.24,383.39h0.9v0.9h-0.9zM350.89,376.9h0.9v0.9h-0.9zM332.89,380.51h0.9v0.9h-0.9zM348.68,381.33h0.9v0.9h-0.9zM356.65,374.15h0.9v0.9h-0.9zM341.83,379.42h0.9v0.9h-0.9zM351.6,372.29h0.9v0.9h-0.9zM349.94,364.11h0.9v0.9h-0.9zM349.29,374.23h0.9v0.9h-0.9zM348.84,380.9h0.9v0.9h-0.9zM337.25,380.51h0.9v0.9h-0.9zM347.3,380.86h0.9v0.9h-0.9zM337.73,376.03h0.9v0.9h-0.9zM335.8,393.51h0.9v0.9h-0.9zM343.47,378.07h0.9v0.9h-0.9zM336.53,385.59h0.9v0.9h-0.9zM343.37,386.05h0.9v0.9h-0.9zM350.53,377.21h0.9v0.9h-0.9zM348.28,372.43h0.9v0.9h-0.9zM342.16,376.75h0.9v0.9h-0.9zM336.82,381.13h0.9v0.9h-0.9zM345.89,385.33h0.9v0.9h-0.9zM322.49,381.93h0.9v0.9h-0.9zM338.48,378.35h0.9v0.9h-0.9zM348.24,379.71h0.9v0.9h-0.9zM344.58,376.55h0.9v0.9h-0.9zM348.65,379.38h0.9v0.9h-0.9zM332.76,380.95h0.9v0.9h-0.9zM334.62,376.01h0.9v0.9h-0.9zM346.02,378.7h0.9v0.9h-0.9zM344.62,374.61h0.9v0.9h-0.9zM342.54,375.03h0.9v0.9h-0.9zM348.34,381.04h0.9v0.9h-0.9zM357.95,381.06h0.9v0.9h-0.9zM339.22,378.16h0.9v0.9h-0.9zM339.33,381.79h0.9v0.9h-0.9zM358.69,378.17h0.9v0.9h-0.9zM329.2,377.2h0.9v0.9h-0.9zM337.3,383.38h0.9v0.9h-0.9zM345.39,380.03h0.9v0.9h-0.9zM355.46,371.74h0.9v0.9h-0.9zM342.02,388.98h0.9v0.9h-0.9zM346.22,374.62h0.9v0.9h-0.9zM329.96,375.71h0.9v0.9h-0.9zM329.3,383.53h0.9v0.9h-0.9zM346.55,383.02h0.9v0.9h-0.9zM343.22,375.89h0.9v0.9h-0.9zM342.63,388.49h0.9v0.9h-0.9zM333.82,382.74h0.9v0.9h-0.9zM345.95,381.38h0.9v0.9h-0.9zM343.02,381.66h0.9v0.9h-0.9zM350.08,376.54h0.9v0.9h-0.9zM341.81,378.72h0.9v0.9h-0.9zM338.5,379.57h0.9v0.9h-0.9zM343.32,380.19h0.9v0.9h-0.9zM355.29,382.02h0.9v0.9h-0.9zM342.89,382.2h0.9v0.9h-0.9zM347.87,381.53h0.9v0.9h-0.9zM345.48,379.84h0.9v0.9h-0.9zM340.98,376.09h0.9v0.9h-0.9zM352.28,382.84h0.9v0.9h-0.9zM349.83,379.4h0.9v0.9h-0.9zM346.15,376.21h0.9v0.9h-0.9zM334.32,384.94h0.9v0.9h-0.9zM345.58,375.88h0.9v0.9h-0.9zM340.39,386.15h0.9v0.9h-0.9zM335.58,389.85h0.9v0.9h-0.9zM352.14,388.02h0.9v0.9h-0.9zM340.34,379.93h0.9v0.9h-0.9zM341.92,380.33h0.9v0.9h-0.9zM342.69,375.77h0.9v0.9h-0.9zM350.95,373.23h0.9v0.9h-0.9zM342.42,382.1h0.9v0.9h-0.9zM340.98,377.77h0.9v0.9h-0.9zM346.83,376.41h0.9v0.9h-0.9zM336.82,380.56h0.9v0.9h-0.9zM345.75,386.66h0.9v0.9h-0.9zM339.14,385.03h0.9v0.9h-0.9zM339.47,378.58h0.9v0.9h-0.9zM343.23,380.5h0.9v0.9h-0.9zM352.8,384.85h0.9v0.9h-0.9zM342.58,385.77h0.9v0.9h-0.9zM352.46,380.46h0.9v0.9h-0.9zM341.24,384.1h0.9v0.9h-0.9zM344.76,380.46h0.9v0.9h-0.9zM344.11,382.14h0.9v0.9h-0.9zM353.64,381.64h0.9v0.9h-0.9zM344.94,383.49h0.9v0.9h-0.9zM353.19,371.87h0.9v0.9h-0.9zM352.81,370.06h0.9v0.9h-0.9zM349.26,380.33h0.9v0.9h-0.9zM354.93,377.19h0.9v0.9h-0.9zM340.88,376.06h0.9v0.9h-0.9zM337.89,384.41h0.9v0.9h-0.9zM342.56,375.96h0.9v0.9h-0.9zM347.46,374.33h0.9v0.9h-0.9zM341.6,377.48h0.9v0.9h-0.9zM357.54,382.12h0.9v0.9h-0.9zM341.98,372.03h0.9v0.9h-0.9zM346.88,378.51h0.9v0.9h-0.9zM347.97,380.56h0.9v0.9h-0.9zM344.1,383.39h0.9v0.9h-0.9zM350.67,378.08h0.9v0.9h-0.9zM341.77,377.32h0.9v0.9h-0.9zM348.08,372.55h0.9v0.9h-0.9zM343.02,375.67h0.9v0.9h-0.9zM336.77,383.96h0.9v0.9h-0.9zM344.88,378.91h0.9v0.9h-0.9zM348.75,370.46h0.9v0.9h-0.9zM344.93,380.1h0.9v0.9h-0.9zM349,372.35h0.9v0.9h-0.9zM349.9,378.35h0.9v0.9h-0.9zM355.2,381.23h0.9v0.9h-0.9zM351.28,387.2h0.9v0.9h-0.9zM344.45,376.82h0.9v0.9h-0.9zM341.6,375.17h0.9v0.9h-0.9zM342.43,370.43h0.9v0.9h-0.9zM345,380.74h0.9v0.9h-0.9zM350.96,375.33h0.9v0.9h-0.9zM353.14,373.24h0.9v0.9h-0.9zM341.75,370.63h0.9v0.9h-0.9zM339.08,376.6h0.9v0.9h-0.9zM355.08,378.29h0.9v0.9h-0.9zM338.7,383.01h0.9v0.9h-0.9zM347.75,376.82h0.9v0.9h-0.9zM344.77,377.34h0.9v0.9h-0.9zM339.38,372.01h0.9v0.9h-0.9zM346.02,384.42h0.9v0.9h-0.9zM353.69,374.9h0.9v0.9h-0.9zM340.03,379.14h0.9v0.9h-0.9zM351.1,378.6h0.9v0.9h-0.9zM341.77,381.32h0.9v0.9h-0.9zM344.34,381.3h0.9v0.9h-0.9zM340.61,373.08h0.9v0.9h-0.9zM346.31,381.88h0.9v0.9h-0.9zM337.89,380.24h0.9v0.9h-0.9zM350.07,375.5h0.9v0.9h-0.9zM343.42,388.64h0.9v0.9h-0.9zM351.5,381.64h0.9v0.9h-0.9zM341.07,387.45h0.9v0.9h-0.9zM333.94,379.45h0.9v0.9h-0.9zM351.3,383.1h0.9v0.9h-0.9zM338.33,377.51h0.9v0.9h-0.9zM343.85,370.03h0.9v0.9h-0.9zM349.71,379.96h0.9v0.9h-0.9zM342.85,381.82h0.9v0.9h-0.9zM350.26,378.63h0.9v0.9h-0.9zM350.14,384.27h0.9v0.9h-0.9zM342.2,380.26h0.9v0.9h-0.9zM343,384.09h0.9v0.9h-0.9zM343.03,381.47h0.9v0.9h-0.9zM345.94,378.74h0.9v0.9h-0.9zM355.65,375.25h0.9v0.9h-0.9zM354.89,379.7h0.9v0.9h-0.9zM353.05,375.63h0.9v0.9h-0.9zM351.73,380.28h0.9v0.9h-0.9zM341.49,380.95h0.9v0.9h-0.9zM344.15,378.78h0.9v0.9h-0.9zM352.24,373.28h0.9v0.9h-0.9zM332.36,374.26h0.9v0.9h-0.9z" fill="#5a88d2" opacity="0.7"/>
<g transform="translate(345,378.7) rotate(-16)" filter="url(#soft)">
<ellipse rx="9.69" ry="5.81" fill="#6b93d7"/>
<ellipse rx="8.36" ry="5.02" fill="#4f9dd3"/>
<ellipse rx="7.24" ry="4.35" fill="#56b89c"/>
<ellipse rx="6.12" ry="3.67" fill="#a0ce4e"/>
<ellipse rx="4.59" ry="2.75" fill="#d9d640"/>
<ellipse rx="2.86" ry="1.71" fill="#efb036"/>
<ellipse rx="1.22" ry="0.8" fill="#e4662c"/>
</g>
<ellipse cx="361.1" cy="379.1" rx="11.8" ry="5.9" transform="rotate(-35 361.1 379.1)" fill="none" stroke="#505050" stroke-width="0.9"/>
<text x="360.8" y="401.2" font-size="6.9" textLength="16.6" lengthAdjust="spacingAndGlyphs">1.42%</text>
<path d="M315.4,364.9 h-2.0 M315.4,381.5 h-2.0 M315.4,401.9 h-2.0 M315.4,411.3 h-2.0 M315.4,422.5 h-2.0 M315.4,367.67 h-1.0 M315.4,370.43 h-1.0 M315.4,373.2 h-1.0 M315.4,375.97 h-1.0 M315.4,378.73 h-1.0 M315.4,384.9 h-1.0 M315.4,388.3 h-1.0 M315.4,391.7 h-1.0 M315.4,395.1 h-1.0 M315.4,398.5 h-1.0 " stroke="#444" stroke-width="0.75"/>
<text x="301.59" y="366.5" font-size="6.2" textLength="7.01" lengthAdjust="spacingAndGlyphs">10</text>
<text x="308.8" y="363.7" font-size="4">4</text>
<text x="301.59" y="383.1" font-size="6.2" textLength="7.01" lengthAdjust="spacingAndGlyphs">10</text>
<text x="308.8" y="380.3" font-size="4">3</text>
<text x="301.59" y="403.5" font-size="6.2" textLength="7.01" lengthAdjust="spacingAndGlyphs">10</text>
<text x="308.8" y="400.7" font-size="4">2</text>
<text x="310.8" y="413.2" font-size="6.4" text-anchor="end">0</text>
<text x="299.5" y="424.1" font-size="6.2" textLength="9.1" lengthAdjust="spacingAndGlyphs">-10</text>
<text x="308.8" y="421.3" font-size="4">2</text>
<rect x="314.2" y="410.1" width="1.4" height="2.4" fill="#111"/>
<path d="M335.8,428.9 v1.8 M362.4,428.9 v1.8 M381.1,428.9 v1.8 M317.4,428.9 v1.0 M322.5,428.9 v1.0 M327.6,428.9 v1.0 M332.7,428.9 v1.0 M337.8,428.9 v1.0 M342.9,428.9 v1.0 M348,428.9 v1.0 M353.1,428.9 v1.0 M358.2,428.9 v1.0 M363.3,428.9 v1.0 M368.4,428.9 v1.0 M373.5,428.9 v1.0 M378.6,428.9 v1.0 M383.7,428.9 v1.0 " stroke="#444" stroke-width="0.75"/>
<rect x="333.8" y="428.1" width="3.2" height="1.4" fill="#111"/>
<text x="335.8" y="438.5" font-size="6.6" text-anchor="middle">0</text>
<text x="358" y="438.5" font-size="6.6" textLength="7.01" lengthAdjust="spacingAndGlyphs">10</text>
<text x="365.2" y="435.5" font-size="4.2">3</text>
<text x="376.7" y="438.5" font-size="6.6" textLength="7.01" lengthAdjust="spacingAndGlyphs">10</text>
<text x="383.9" y="435.5" font-size="4.2">4</text>
<text x="340.6" y="450.5" font-size="8.4" textLength="24.9" lengthAdjust="spacingAndGlyphs">BAX 1E5</text>
<text transform="translate(296,413.1) rotate(-90)" font-size="8.8" textLength="39.5" lengthAdjust="spacingAndGlyphs" fill="#1a1a1a">Cytochrome c</text>
<rect x="423.4" y="356.8" width="71.8" height="72.4" fill="#fff" stroke="#cfcfcf" stroke-width="0.8"/>
<path d="M444.78,371.47h0.6v0.6h-0.6zM451.09,383.16h0.6v0.6h-0.6zM474.7,380.69h0.6v0.6h-0.6zM457.16,370.61h0.6v0.6h-0.6zM458.74,390.81h0.6v0.6h-0.6zM469.01,358.85h0.6v0.6h-0.6zM462.93,392.97h0.6v0.6h-0.6zM462.06,363.29h0.6v0.6h-0.6zM446.76,383.36h0.6v0.6h-0.6zM456.51,369.88h0.6v0.6h-0.6zM438.89,387.01h0.6v0.6h-0.6zM432.9,391.51h0.6v0.6h-0.6zM451.17,380.6h0.6v0.6h-0.6zM432.92,371.96h0.6v0.6h-0.6zM460.19,363.54h0.6v0.6h-0.6zM478.81,364.19h0.6v0.6h-0.6zM434.44,378.12h0.6v0.6h-0.6zM457.39,384.75h0.6v0.6h-0.6zM445.9,375.7h0.6v0.6h-0.6zM447.72,372.17h0.6v0.6h-0.6zM454.28,379.22h0.6v0.6h-0.6zM442.44,380.11h0.6v0.6h-0.6zM450.72,376.96h0.6v0.6h-0.6zM465.77,361.15h0.6v0.6h-0.6zM454.29,367.45h0.6v0.6h-0.6zM446.62,392.1h0.6v0.6h-0.6zM436.32,376.74h0.6v0.6h-0.6zM442.94,386.82h0.6v0.6h-0.6zM437.73,361.54h0.6v0.6h-0.6zM457.81,374.3h0.6v0.6h-0.6zM446.61,388.08h0.6v0.6h-0.6zM438.96,374.11h0.6v0.6h-0.6zM452.88,381.67h0.6v0.6h-0.6zM443.95,387.64h0.6v0.6h-0.6zM481.04,373.78h0.6v0.6h-0.6zM469.81,374.4h0.6v0.6h-0.6zM452.75,374.44h0.6v0.6h-0.6zM442.34,365.43h0.6v0.6h-0.6zM445.54,387.74h0.6v0.6h-0.6zM490,383.16h0.6v0.6h-0.6zM469.29,373.97h0.6v0.6h-0.6zM448.68,403.66h0.6v0.6h-0.6zM427.29,368.37h0.6v0.6h-0.6zM471.41,381.47h0.6v0.6h-0.6zM431.18,392.27h0.6v0.6h-0.6zM450.62,388.23h0.6v0.6h-0.6zM453.63,385.66h0.6v0.6h-0.6zM463.69,378.89h0.6v0.6h-0.6zM433.15,367.95h0.6v0.6h-0.6zM485.74,386.58h0.6v0.6h-0.6zM433.01,402.49h0.6v0.6h-0.6zM442.59,363.61h0.6v0.6h-0.6zM461.39,371.55h0.6v0.6h-0.6zM458.57,386.88h0.6v0.6h-0.6zM440.76,387.82h0.6v0.6h-0.6zM433.06,384.81h0.6v0.6h-0.6z" fill="#b7c6e2"/>
<path d="M448.38,377.39h0.9v0.9h-0.9zM449.06,379.25h0.9v0.9h-0.9zM439.87,384.41h0.9v0.9h-0.9zM440.55,378.3h0.9v0.9h-0.9zM450.41,375.48h0.9v0.9h-0.9zM461.09,374.33h0.9v0.9h-0.9zM462.08,379.9h0.9v0.9h-0.9zM448.31,380.29h0.9v0.9h-0.9zM458.55,373.97h0.9v0.9h-0.9zM450.77,375.17h0.9v0.9h-0.9zM450.83,376.09h0.9v0.9h-0.9zM452.63,381.81h0.9v0.9h-0.9zM459.7,375.79h0.9v0.9h-0.9zM453.2,380.98h0.9v0.9h-0.9zM447.81,373.71h0.9v0.9h-0.9zM456.65,371.75h0.9v0.9h-0.9zM455.49,371.94h0.9v0.9h-0.9zM460.98,370.01h0.9v0.9h-0.9zM457.99,382.57h0.9v0.9h-0.9zM446.75,385.73h0.9v0.9h-0.9zM443.64,371.66h0.9v0.9h-0.9zM456.23,379.4h0.9v0.9h-0.9zM446.56,367.32h0.9v0.9h-0.9zM450.19,376.5h0.9v0.9h-0.9zM448.19,377.14h0.9v0.9h-0.9zM439.11,378.47h0.9v0.9h-0.9zM463.95,381.08h0.9v0.9h-0.9zM447.79,375.32h0.9v0.9h-0.9zM454.65,381.51h0.9v0.9h-0.9zM453.96,371.44h0.9v0.9h-0.9zM452.08,378.01h0.9v0.9h-0.9zM461.28,380.23h0.9v0.9h-0.9zM455.63,381.94h0.9v0.9h-0.9zM450.32,384.94h0.9v0.9h-0.9zM448.74,380.14h0.9v0.9h-0.9zM455.48,372.18h0.9v0.9h-0.9zM444.4,371.47h0.9v0.9h-0.9zM451.85,377.17h0.9v0.9h-0.9zM449.48,380.4h0.9v0.9h-0.9zM437.75,381.36h0.9v0.9h-0.9zM451.12,376.41h0.9v0.9h-0.9zM457.96,383.74h0.9v0.9h-0.9zM446.99,374.5h0.9v0.9h-0.9zM447.26,379.17h0.9v0.9h-0.9zM453.48,373h0.9v0.9h-0.9zM455.85,371.57h0.9v0.9h-0.9zM456.55,378.05h0.9v0.9h-0.9zM456.41,386.05h0.9v0.9h-0.9zM449.06,377.47h0.9v0.9h-0.9zM454.91,380.52h0.9v0.9h-0.9zM442.93,381.25h0.9v0.9h-0.9zM447.07,381.7h0.9v0.9h-0.9zM459.46,375.48h0.9v0.9h-0.9zM450.46,378.67h0.9v0.9h-0.9zM433.51,386.23h0.9v0.9h-0.9zM454.58,377.4h0.9v0.9h-0.9zM447.55,375.3h0.9v0.9h-0.9zM451.27,383.18h0.9v0.9h-0.9zM451.91,383.61h0.9v0.9h-0.9zM434.39,380.32h0.9v0.9h-0.9zM452.58,377.16h0.9v0.9h-0.9zM439.79,377.82h0.9v0.9h-0.9zM457.08,369.99h0.9v0.9h-0.9zM443.42,374.8h0.9v0.9h-0.9zM448.26,381.41h0.9v0.9h-0.9zM452.11,368.01h0.9v0.9h-0.9zM459.23,372.59h0.9v0.9h-0.9zM449.28,385.84h0.9v0.9h-0.9zM448.88,372.57h0.9v0.9h-0.9zM446.05,375.75h0.9v0.9h-0.9zM444.23,378.08h0.9v0.9h-0.9zM456.77,377.63h0.9v0.9h-0.9zM445.74,392.01h0.9v0.9h-0.9zM444.9,379.95h0.9v0.9h-0.9zM452.02,380.88h0.9v0.9h-0.9zM449.42,380.23h0.9v0.9h-0.9zM464.08,374.36h0.9v0.9h-0.9zM444.59,381.02h0.9v0.9h-0.9zM445.47,377.55h0.9v0.9h-0.9zM452.48,378.8h0.9v0.9h-0.9zM450.17,381.81h0.9v0.9h-0.9zM448.11,372.5h0.9v0.9h-0.9zM455.9,374.59h0.9v0.9h-0.9zM457.62,372.76h0.9v0.9h-0.9zM454.84,378.02h0.9v0.9h-0.9zM432.35,376.15h0.9v0.9h-0.9zM445.67,385.67h0.9v0.9h-0.9zM440.31,384.94h0.9v0.9h-0.9zM458.28,377.86h0.9v0.9h-0.9zM454.48,374.39h0.9v0.9h-0.9zM451.11,378.67h0.9v0.9h-0.9zM454.37,379.96h0.9v0.9h-0.9zM448.76,375.09h0.9v0.9h-0.9zM447.91,380.45h0.9v0.9h-0.9zM439.07,375.32h0.9v0.9h-0.9zM447.67,376.08h0.9v0.9h-0.9zM445.98,366.86h0.9v0.9h-0.9zM448.48,377.24h0.9v0.9h-0.9zM453.3,367.9h0.9v0.9h-0.9zM449.58,380.26h0.9v0.9h-0.9zM455.39,381.92h0.9v0.9h-0.9zM456.17,371.36h0.9v0.9h-0.9zM454.44,375.14h0.9v0.9h-0.9zM447.79,385.66h0.9v0.9h-0.9zM445.95,375.18h0.9v0.9h-0.9zM447.33,374.8h0.9v0.9h-0.9zM457.61,377.53h0.9v0.9h-0.9zM460.1,376.96h0.9v0.9h-0.9zM448.36,383.26h0.9v0.9h-0.9zM446.27,376.9h0.9v0.9h-0.9zM449.91,378.17h0.9v0.9h-0.9zM457.58,372.99h0.9v0.9h-0.9zM453.05,376.96h0.9v0.9h-0.9zM441.74,375.28h0.9v0.9h-0.9zM450.03,379.82h0.9v0.9h-0.9zM453.48,379.17h0.9v0.9h-0.9zM450.65,375.7h0.9v0.9h-0.9zM452.33,372.66h0.9v0.9h-0.9zM442.14,378.68h0.9v0.9h-0.9zM441.37,378.05h0.9v0.9h-0.9zM445.57,376.67h0.9v0.9h-0.9zM449.64,374.36h0.9v0.9h-0.9zM446.18,371.15h0.9v0.9h-0.9zM450.73,373.68h0.9v0.9h-0.9zM449.96,364.91h0.9v0.9h-0.9zM446.21,380.17h0.9v0.9h-0.9zM435.26,380.52h0.9v0.9h-0.9zM451.61,377.97h0.9v0.9h-0.9zM441.86,381.35h0.9v0.9h-0.9zM450.64,373.28h0.9v0.9h-0.9zM455.48,376.16h0.9v0.9h-0.9zM450.47,375.75h0.9v0.9h-0.9zM454.43,377.14h0.9v0.9h-0.9zM458.54,377.6h0.9v0.9h-0.9zM446.78,377.85h0.9v0.9h-0.9zM456.18,374.5h0.9v0.9h-0.9zM453.93,379.25h0.9v0.9h-0.9zM446.92,368.06h0.9v0.9h-0.9zM451.99,378.38h0.9v0.9h-0.9zM450.81,374.21h0.9v0.9h-0.9zM458.28,374.96h0.9v0.9h-0.9zM446.13,375.74h0.9v0.9h-0.9zM451.8,372.39h0.9v0.9h-0.9zM447.11,388.06h0.9v0.9h-0.9zM460.38,379.87h0.9v0.9h-0.9zM460.16,377.8h0.9v0.9h-0.9zM441.84,385.84h0.9v0.9h-0.9zM459.24,377.58h0.9v0.9h-0.9zM440.2,386.53h0.9v0.9h-0.9zM458.83,373.14h0.9v0.9h-0.9zM452.65,380.8h0.9v0.9h-0.9zM451.72,382.56h0.9v0.9h-0.9zM452.26,380.52h0.9v0.9h-0.9zM449.61,371.2h0.9v0.9h-0.9zM448.57,393.07h0.9v0.9h-0.9zM454.26,382.82h0.9v0.9h-0.9zM460.13,383.02h0.9v0.9h-0.9zM453.64,374.15h0.9v0.9h-0.9zM448.65,369.43h0.9v0.9h-0.9zM450.84,381.93h0.9v0.9h-0.9zM437.6,382.43h0.9v0.9h-0.9zM457.7,381.92h0.9v0.9h-0.9zM444.29,376.56h0.9v0.9h-0.9zM437.89,376.69h0.9v0.9h-0.9zM456.8,385.64h0.9v0.9h-0.9zM445.42,385.69h0.9v0.9h-0.9zM452.97,374.8h0.9v0.9h-0.9zM461.55,362.91h0.9v0.9h-0.9zM450.75,378.76h0.9v0.9h-0.9zM466.48,381.6h0.9v0.9h-0.9zM465.27,374.2h0.9v0.9h-0.9zM458.74,381.81h0.9v0.9h-0.9zM454.56,378.33h0.9v0.9h-0.9zM449.24,376.27h0.9v0.9h-0.9zM445.59,388.3h0.9v0.9h-0.9zM445.53,369.55h0.9v0.9h-0.9zM452.52,377.08h0.9v0.9h-0.9zM454.25,385.2h0.9v0.9h-0.9zM449.91,376.75h0.9v0.9h-0.9zM446.19,378.95h0.9v0.9h-0.9zM448.4,379.37h0.9v0.9h-0.9zM471.01,373.77h0.9v0.9h-0.9zM447.9,387.56h0.9v0.9h-0.9zM457.34,379.66h0.9v0.9h-0.9zM456.4,379.94h0.9v0.9h-0.9zM456.88,382.56h0.9v0.9h-0.9zM458.89,381.7h0.9v0.9h-0.9zM447.74,378.59h0.9v0.9h-0.9zM447.5,383.14h0.9v0.9h-0.9zM455.55,374.19h0.9v0.9h-0.9zM457.82,387.96h0.9v0.9h-0.9zM457.3,370.66h0.9v0.9h-0.9zM451.1,380.6h0.9v0.9h-0.9zM451.15,379.43h0.9v0.9h-0.9zM458.73,376.99h0.9v0.9h-0.9zM444.88,382.76h0.9v0.9h-0.9zM450.43,378.37h0.9v0.9h-0.9zM445.63,372.76h0.9v0.9h-0.9zM442.62,378.42h0.9v0.9h-0.9zM440.82,367.92h0.9v0.9h-0.9zM456.69,370.62h0.9v0.9h-0.9zM447,381.3h0.9v0.9h-0.9zM437.4,387.84h0.9v0.9h-0.9zM446.88,381.93h0.9v0.9h-0.9zM448.25,379.89h0.9v0.9h-0.9zM451.56,377.51h0.9v0.9h-0.9zM437.59,374.65h0.9v0.9h-0.9zM452.38,383.86h0.9v0.9h-0.9zM448.13,380.98h0.9v0.9h-0.9zM452.52,379.49h0.9v0.9h-0.9zM455.29,369.44h0.9v0.9h-0.9zM452.41,376.44h0.9v0.9h-0.9zM447.88,374.58h0.9v0.9h-0.9zM444.68,374.68h0.9v0.9h-0.9zM447.1,390.51h0.9v0.9h-0.9zM461.61,374.68h0.9v0.9h-0.9zM454.36,372.15h0.9v0.9h-0.9zM431.14,374.86h0.9v0.9h-0.9zM453.57,383.66h0.9v0.9h-0.9zM449.4,373.46h0.9v0.9h-0.9zM448.14,373.83h0.9v0.9h-0.9zM441.83,379.21h0.9v0.9h-0.9zM447.38,374.92h0.9v0.9h-0.9zM444.17,375.28h0.9v0.9h-0.9zM454.11,383.29h0.9v0.9h-0.9zM452.34,387.73h0.9v0.9h-0.9zM441.06,381.8h0.9v0.9h-0.9zM443.42,379.09h0.9v0.9h-0.9zM452.23,379.93h0.9v0.9h-0.9zM457.33,373.26h0.9v0.9h-0.9zM442.85,379.13h0.9v0.9h-0.9zM451.88,374.15h0.9v0.9h-0.9zM458.61,383.36h0.9v0.9h-0.9zM442.39,381.83h0.9v0.9h-0.9zM454.92,367.57h0.9v0.9h-0.9zM451.92,376.36h0.9v0.9h-0.9zM443.57,385.95h0.9v0.9h-0.9zM451.67,375.24h0.9v0.9h-0.9zM454.49,379.67h0.9v0.9h-0.9zM456.46,378.82h0.9v0.9h-0.9zM452.02,371.88h0.9v0.9h-0.9zM448.41,379.02h0.9v0.9h-0.9zM436.11,391.9h0.9v0.9h-0.9zM447.21,373.83h0.9v0.9h-0.9zM439.76,382.06h0.9v0.9h-0.9zM450.38,375.12h0.9v0.9h-0.9zM447.18,374.62h0.9v0.9h-0.9zM446.06,378.63h0.9v0.9h-0.9zM447.69,381.79h0.9v0.9h-0.9zM450.17,378.53h0.9v0.9h-0.9zM455.03,382.45h0.9v0.9h-0.9zM454.97,377.6h0.9v0.9h-0.9zM448.87,374.52h0.9v0.9h-0.9zM449.59,381.26h0.9v0.9h-0.9zM451.85,375.62h0.9v0.9h-0.9zM440.62,373.49h0.9v0.9h-0.9zM454.2,381.55h0.9v0.9h-0.9zM451.55,371.1h0.9v0.9h-0.9zM449.84,379.04h0.9v0.9h-0.9zM445.55,380.85h0.9v0.9h-0.9zM448.61,374.46h0.9v0.9h-0.9zM444.09,383.44h0.9v0.9h-0.9zM452.05,373.23h0.9v0.9h-0.9zM445.62,383.37h0.9v0.9h-0.9zM454.27,375.31h0.9v0.9h-0.9zM460.57,373.57h0.9v0.9h-0.9zM445.6,384.32h0.9v0.9h-0.9zM450.14,379.53h0.9v0.9h-0.9zM449.9,373.31h0.9v0.9h-0.9zM443.19,379h0.9v0.9h-0.9zM458.5,370.83h0.9v0.9h-0.9zM459.72,376.2h0.9v0.9h-0.9zM444.23,380.86h0.9v0.9h-0.9zM453.36,372.8h0.9v0.9h-0.9zM437.95,383.08h0.9v0.9h-0.9zM444.47,381.6h0.9v0.9h-0.9zM438.7,380.54h0.9v0.9h-0.9zM443.98,372.78h0.9v0.9h-0.9zM449.6,378.87h0.9v0.9h-0.9zM445.94,373.61h0.9v0.9h-0.9zM450.07,369.78h0.9v0.9h-0.9zM454.87,378.85h0.9v0.9h-0.9zM462.53,378.48h0.9v0.9h-0.9zM453.45,378.2h0.9v0.9h-0.9zM449.44,371.94h0.9v0.9h-0.9zM460.74,377.33h0.9v0.9h-0.9zM447.69,373.28h0.9v0.9h-0.9zM460.88,377.32h0.9v0.9h-0.9zM444.29,382.73h0.9v0.9h-0.9zM462.77,374.19h0.9v0.9h-0.9zM452.9,375.19h0.9v0.9h-0.9zM448.28,383.45h0.9v0.9h-0.9zM470.37,372.66h0.9v0.9h-0.9zM451.1,381.34h0.9v0.9h-0.9zM449.89,381.38h0.9v0.9h-0.9zM454.85,371.84h0.9v0.9h-0.9zM444.08,379.31h0.9v0.9h-0.9zM456.46,377.39h0.9v0.9h-0.9zM456.99,369.55h0.9v0.9h-0.9zM453.23,374.14h0.9v0.9h-0.9zM451.92,378.9h0.9v0.9h-0.9zM444.53,378.46h0.9v0.9h-0.9zM443.93,380.94h0.9v0.9h-0.9zM444.96,377.1h0.9v0.9h-0.9zM451.47,374.5h0.9v0.9h-0.9zM457.31,372.9h0.9v0.9h-0.9zM456.57,377.39h0.9v0.9h-0.9zM444.15,378.62h0.9v0.9h-0.9zM445.21,377.65h0.9v0.9h-0.9zM451.44,386h0.9v0.9h-0.9zM450.21,385.19h0.9v0.9h-0.9zM452.09,371.28h0.9v0.9h-0.9zM437.25,384.77h0.9v0.9h-0.9zM439.32,384.36h0.9v0.9h-0.9zM457.82,377.53h0.9v0.9h-0.9zM449.28,377h0.9v0.9h-0.9zM452.15,375.93h0.9v0.9h-0.9zM447.1,377.07h0.9v0.9h-0.9zM457.46,372.94h0.9v0.9h-0.9zM451.86,372.08h0.9v0.9h-0.9zM444.75,373.08h0.9v0.9h-0.9zM450.5,380.98h0.9v0.9h-0.9zM452.2,375.04h0.9v0.9h-0.9zM454.3,375.11h0.9v0.9h-0.9zM453.57,378.21h0.9v0.9h-0.9zM451.24,366.11h0.9v0.9h-0.9zM443.71,383.35h0.9v0.9h-0.9zM452.99,387.51h0.9v0.9h-0.9zM448.75,375.76h0.9v0.9h-0.9zM460.92,377.4h0.9v0.9h-0.9zM463.39,376.48h0.9v0.9h-0.9zM450.52,381.17h0.9v0.9h-0.9zM445.43,377.2h0.9v0.9h-0.9zM447.16,377.74h0.9v0.9h-0.9zM455.18,374.24h0.9v0.9h-0.9zM452.3,374.99h0.9v0.9h-0.9zM453.03,364.31h0.9v0.9h-0.9zM449.81,378.79h0.9v0.9h-0.9zM445.41,383.97h0.9v0.9h-0.9zM453.82,382.8h0.9v0.9h-0.9z" fill="#5a88d2" opacity="0.7"/>
<g transform="translate(450.9,377.7) rotate(-16)" filter="url(#soft)">
<ellipse rx="9.69" ry="5.81" fill="#6b93d7"/>
<ellipse rx="8.36" ry="5.02" fill="#4f9dd3"/>
<ellipse rx="7.24" ry="4.35" fill="#56b89c"/>
<ellipse rx="6.12" ry="3.67" fill="#a0ce4e"/>
<ellipse rx="4.59" ry="2.75" fill="#d9d640"/>
<ellipse rx="2.86" ry="1.71" fill="#efb036"/>
<ellipse rx="1.22" ry="0.8" fill="#e4662c"/>
</g>
<ellipse cx="468.3" cy="379.5" rx="11.8" ry="5.9" transform="rotate(-35 468.3 379.5)" fill="none" stroke="#505050" stroke-width="0.9"/>
<text x="471.4" y="400.4" font-size="6.9" textLength="16.6" lengthAdjust="spacingAndGlyphs">0.58%</text>
<path d="M423.4,365.2 h-2.0 M423.4,381.8 h-2.0 M423.4,402.2 h-2.0 M423.4,411.6 h-2.0 M423.4,422.8 h-2.0 M423.4,367.97 h-1.0 M423.4,370.73 h-1.0 M423.4,373.5 h-1.0 M423.4,376.27 h-1.0 M423.4,379.03 h-1.0 M423.4,385.2 h-1.0 M423.4,388.6 h-1.0 M423.4,392 h-1.0 M423.4,395.4 h-1.0 M423.4,398.8 h-1.0 " stroke="#444" stroke-width="0.75"/>
<text x="409.59" y="366.8" font-size="6.2" textLength="7.01" lengthAdjust="spacingAndGlyphs">10</text>
<text x="416.8" y="364" font-size="4">4</text>
<text x="409.59" y="383.4" font-size="6.2" textLength="7.01" lengthAdjust="spacingAndGlyphs">10</text>
<text x="416.8" y="380.6" font-size="4">3</text>
<text x="409.59" y="403.8" font-size="6.2" textLength="7.01" lengthAdjust="spacingAndGlyphs">10</text>
<text x="416.8" y="401" font-size="4">2</text>
<text x="418.8" y="413.5" font-size="6.4" text-anchor="end">0</text>
<text x="407.5" y="424.4" font-size="6.2" textLength="9.1" lengthAdjust="spacingAndGlyphs">-10</text>
<text x="416.8" y="421.6" font-size="4">2</text>
<rect x="422.2" y="410.4" width="1.4" height="2.4" fill="#111"/>
<path d="M443.8,429.2 v1.8 M470.4,429.2 v1.8 M489.1,429.2 v1.8 M425.4,429.2 v1.0 M430.5,429.2 v1.0 M435.6,429.2 v1.0 M440.7,429.2 v1.0 M445.8,429.2 v1.0 M450.9,429.2 v1.0 M456,429.2 v1.0 M461.1,429.2 v1.0 M466.2,429.2 v1.0 M471.3,429.2 v1.0 M476.4,429.2 v1.0 M481.5,429.2 v1.0 M486.6,429.2 v1.0 M491.7,429.2 v1.0 " stroke="#444" stroke-width="0.75"/>
<rect x="441.8" y="428.4" width="3.2" height="1.4" fill="#111"/>
<text x="443.8" y="438.8" font-size="6.6" text-anchor="middle">0</text>
<text x="466" y="438.8" font-size="6.6" textLength="7.01" lengthAdjust="spacingAndGlyphs">10</text>
<text x="473.2" y="435.8" font-size="4.2">3</text>
<text x="484.7" y="438.8" font-size="6.6" textLength="7.01" lengthAdjust="spacingAndGlyphs">10</text>
<text x="491.9" y="435.8" font-size="4.2">4</text>
<text x="448.6" y="450.8" font-size="8.4" textLength="24.9" lengthAdjust="spacingAndGlyphs">BAX 1E5</text>
<rect x="89.3" y="461.7" width="71.8" height="72.4" fill="#fff" stroke="#cfcfcf" stroke-width="0.8"/>
<path d="M119.79,493.13h0.6v0.6h-0.6zM116.47,499.87h0.6v0.6h-0.6zM113.11,515.27h0.6v0.6h-0.6zM108.52,514.56h0.6v0.6h-0.6zM117.38,500.76h0.6v0.6h-0.6zM116.67,502.24h0.6v0.6h-0.6zM118.12,499.86h0.6v0.6h-0.6zM115.95,504.58h0.6v0.6h-0.6zM123.96,493.84h0.6v0.6h-0.6zM121.63,495.41h0.6v0.6h-0.6zM115.87,504.9h0.6v0.6h-0.6zM106.27,513.69h0.6v0.6h-0.6zM117.15,499.05h0.6v0.6h-0.6zM112.66,513.07h0.6v0.6h-0.6zM122.54,498.91h0.6v0.6h-0.6zM119.51,490.89h0.6v0.6h-0.6zM113.05,505.44h0.6v0.6h-0.6zM118.29,505.22h0.6v0.6h-0.6zM120.9,492.13h0.6v0.6h-0.6zM117.33,498.26h0.6v0.6h-0.6zM124.3,493.41h0.6v0.6h-0.6zM110.76,509.66h0.6v0.6h-0.6zM126.89,496.54h0.6v0.6h-0.6zM120.16,492.92h0.6v0.6h-0.6zM121.78,493.16h0.6v0.6h-0.6zM112.5,503.62h0.6v0.6h-0.6zM120.26,495.9h0.6v0.6h-0.6zM123.38,498.16h0.6v0.6h-0.6zM115.9,502.57h0.6v0.6h-0.6zM102.32,514.65h0.6v0.6h-0.6zM113.52,502.96h0.6v0.6h-0.6zM111.71,510.91h0.6v0.6h-0.6zM122.61,492.48h0.6v0.6h-0.6zM120.57,496.72h0.6v0.6h-0.6zM114.37,508.19h0.6v0.6h-0.6zM109.7,509.32h0.6v0.6h-0.6zM114.89,492.03h0.6v0.6h-0.6zM121.95,488.28h0.6v0.6h-0.6zM106.81,514.8h0.6v0.6h-0.6zM116.69,501.63h0.6v0.6h-0.6zM155.05,484.58h0.6v0.6h-0.6zM118.9,468.16h0.6v0.6h-0.6zM107.9,500.89h0.6v0.6h-0.6zM137.32,471.36h0.6v0.6h-0.6zM114.64,470.81h0.6v0.6h-0.6zM104.74,474.83h0.6v0.6h-0.6zM113.75,513.16h0.6v0.6h-0.6zM158.92,503.82h0.6v0.6h-0.6zM123.83,488.9h0.6v0.6h-0.6zM144.13,509.72h0.6v0.6h-0.6zM142.25,495.95h0.6v0.6h-0.6zM104.79,495.38h0.6v0.6h-0.6zM148.64,503.57h0.6v0.6h-0.6zM97.56,500.06h0.6v0.6h-0.6zM114.98,471.92h0.6v0.6h-0.6zM156.78,497.79h0.6v0.6h-0.6zM141.85,470.54h0.6v0.6h-0.6zM147.47,511.19h0.6v0.6h-0.6z" fill="#b7c6e2"/>
<path d="M134.16,478.13h0.9v0.9h-0.9zM130.82,478.91h0.9v0.9h-0.9zM124.41,488.52h0.9v0.9h-0.9zM130.4,479.32h0.9v0.9h-0.9zM131.14,482.12h0.9v0.9h-0.9zM134.53,480.1h0.9v0.9h-0.9zM131.44,483.47h0.9v0.9h-0.9zM136.88,477.74h0.9v0.9h-0.9zM132.99,489.66h0.9v0.9h-0.9zM131.15,486.78h0.9v0.9h-0.9zM126.7,489.21h0.9v0.9h-0.9zM119.77,495.34h0.9v0.9h-0.9zM124.09,485.62h0.9v0.9h-0.9zM125.36,493.79h0.9v0.9h-0.9zM128.81,481.18h0.9v0.9h-0.9zM136.38,477.02h0.9v0.9h-0.9zM128.41,487.78h0.9v0.9h-0.9zM121.73,487.42h0.9v0.9h-0.9zM128.39,491.1h0.9v0.9h-0.9zM131.01,478.89h0.9v0.9h-0.9zM134.97,480.91h0.9v0.9h-0.9zM131.9,483.84h0.9v0.9h-0.9zM129.66,482.21h0.9v0.9h-0.9zM124.35,488.21h0.9v0.9h-0.9zM129.07,488.49h0.9v0.9h-0.9zM127.04,493.82h0.9v0.9h-0.9zM125.77,487.29h0.9v0.9h-0.9zM133.47,483.73h0.9v0.9h-0.9zM126.22,485.17h0.9v0.9h-0.9zM122.37,486.89h0.9v0.9h-0.9zM136.56,483.14h0.9v0.9h-0.9zM138.73,479.05h0.9v0.9h-0.9zM132.4,485.86h0.9v0.9h-0.9zM133.34,481.39h0.9v0.9h-0.9zM134.96,488.43h0.9v0.9h-0.9zM119.64,490.11h0.9v0.9h-0.9zM126.68,491.19h0.9v0.9h-0.9zM134.25,480.27h0.9v0.9h-0.9zM132.48,482.94h0.9v0.9h-0.9zM129.97,483.54h0.9v0.9h-0.9zM129.47,485.9h0.9v0.9h-0.9zM138.53,485.37h0.9v0.9h-0.9zM122.53,494.28h0.9v0.9h-0.9zM131.29,487.65h0.9v0.9h-0.9zM135.67,482.91h0.9v0.9h-0.9zM131.5,480.67h0.9v0.9h-0.9zM125.02,495.98h0.9v0.9h-0.9zM133.26,479.02h0.9v0.9h-0.9zM136.48,481.75h0.9v0.9h-0.9zM120.35,497.61h0.9v0.9h-0.9zM127.3,492.07h0.9v0.9h-0.9zM125.28,487.2h0.9v0.9h-0.9zM122.39,491.75h0.9v0.9h-0.9zM132.91,480.34h0.9v0.9h-0.9zM125.17,497.52h0.9v0.9h-0.9zM138.97,479.5h0.9v0.9h-0.9zM125.09,485.72h0.9v0.9h-0.9zM123.35,493.61h0.9v0.9h-0.9zM133.47,478.44h0.9v0.9h-0.9zM129.11,485.28h0.9v0.9h-0.9zM129.35,487.81h0.9v0.9h-0.9zM137.72,475.97h0.9v0.9h-0.9zM135.28,484.36h0.9v0.9h-0.9zM128.08,486.69h0.9v0.9h-0.9zM125.58,493.37h0.9v0.9h-0.9zM126.1,486.75h0.9v0.9h-0.9zM128.38,483.9h0.9v0.9h-0.9zM124.47,489.53h0.9v0.9h-0.9zM135.81,479.28h0.9v0.9h-0.9zM129.34,480.85h0.9v0.9h-0.9zM124.2,497.28h0.9v0.9h-0.9zM125.12,484.53h0.9v0.9h-0.9zM130.2,487.39h0.9v0.9h-0.9zM120.4,491.25h0.9v0.9h-0.9zM129.12,482.98h0.9v0.9h-0.9zM134.83,484.34h0.9v0.9h-0.9zM130.8,483.16h0.9v0.9h-0.9zM128.28,484.79h0.9v0.9h-0.9zM129.58,486.94h0.9v0.9h-0.9zM129.99,488.89h0.9v0.9h-0.9zM140.12,474.05h0.9v0.9h-0.9zM132.57,485.95h0.9v0.9h-0.9zM132.03,482.69h0.9v0.9h-0.9zM129.25,489.68h0.9v0.9h-0.9zM133.26,484.18h0.9v0.9h-0.9zM127.16,490.32h0.9v0.9h-0.9zM132.79,482.17h0.9v0.9h-0.9zM136.31,487.25h0.9v0.9h-0.9zM122.36,494.71h0.9v0.9h-0.9zM122,488.05h0.9v0.9h-0.9zM129.52,487.81h0.9v0.9h-0.9zM127.77,483.37h0.9v0.9h-0.9zM122.24,490.69h0.9v0.9h-0.9zM128.19,484.17h0.9v0.9h-0.9zM126.04,495.35h0.9v0.9h-0.9zM125.6,488.97h0.9v0.9h-0.9zM126.13,486.96h0.9v0.9h-0.9zM129.25,485.07h0.9v0.9h-0.9zM130.25,480.99h0.9v0.9h-0.9zM126.46,495.66h0.9v0.9h-0.9zM130.63,487.57h0.9v0.9h-0.9zM135.82,481.97h0.9v0.9h-0.9zM127,482.69h0.9v0.9h-0.9zM124.23,494.29h0.9v0.9h-0.9zM133.62,484.08h0.9v0.9h-0.9zM118.45,488.61h0.9v0.9h-0.9zM122.81,487.93h0.9v0.9h-0.9zM128.49,483.19h0.9v0.9h-0.9zM135.53,478.06h0.9v0.9h-0.9zM128.64,489.77h0.9v0.9h-0.9zM129.46,482.73h0.9v0.9h-0.9zM136.67,486.06h0.9v0.9h-0.9zM123.7,490.41h0.9v0.9h-0.9zM121.36,486.57h0.9v0.9h-0.9zM133.63,484.53h0.9v0.9h-0.9zM134.7,482.57h0.9v0.9h-0.9zM120.59,494.11h0.9v0.9h-0.9zM124.53,486.33h0.9v0.9h-0.9zM126.04,491.85h0.9v0.9h-0.9zM131.78,490.78h0.9v0.9h-0.9zM128.3,480.2h0.9v0.9h-0.9zM135.81,484.47h0.9v0.9h-0.9zM127.58,483.35h0.9v0.9h-0.9zM135.14,475.94h0.9v0.9h-0.9zM125.83,482.51h0.9v0.9h-0.9zM120.98,487.77h0.9v0.9h-0.9zM136.56,483.52h0.9v0.9h-0.9zM125.37,484.89h0.9v0.9h-0.9zM130.01,486.78h0.9v0.9h-0.9zM120.72,489.94h0.9v0.9h-0.9zM130.4,487.57h0.9v0.9h-0.9zM130.74,486.35h0.9v0.9h-0.9zM119.57,486.24h0.9v0.9h-0.9zM129.35,482.74h0.9v0.9h-0.9zM128.37,485.59h0.9v0.9h-0.9zM130.37,482.32h0.9v0.9h-0.9zM136.12,479.84h0.9v0.9h-0.9zM133.09,484.8h0.9v0.9h-0.9zM134.97,482.24h0.9v0.9h-0.9zM120.64,491.9h0.9v0.9h-0.9zM138.78,478.94h0.9v0.9h-0.9zM132.95,484.35h0.9v0.9h-0.9zM125.51,487.18h0.9v0.9h-0.9zM128.78,490.73h0.9v0.9h-0.9zM134.42,487.7h0.9v0.9h-0.9zM135.23,487.35h0.9v0.9h-0.9zM129.53,481.61h0.9v0.9h-0.9zM138.02,479.16h0.9v0.9h-0.9zM135.34,481.22h0.9v0.9h-0.9zM128.43,487.5h0.9v0.9h-0.9zM122.41,488.2h0.9v0.9h-0.9zM124.66,488.51h0.9v0.9h-0.9zM123.32,491.29h0.9v0.9h-0.9zM134.62,488.43h0.9v0.9h-0.9zM137.79,477.98h0.9v0.9h-0.9zM133.19,481.67h0.9v0.9h-0.9zM131.3,484.09h0.9v0.9h-0.9zM127.3,488.22h0.9v0.9h-0.9zM123.73,492.86h0.9v0.9h-0.9zM126.34,484.93h0.9v0.9h-0.9zM128.98,488.38h0.9v0.9h-0.9zM127.39,489.58h0.9v0.9h-0.9zM134.98,486.42h0.9v0.9h-0.9zM124.5,490.16h0.9v0.9h-0.9zM134.62,486.55h0.9v0.9h-0.9zM132.14,486.15h0.9v0.9h-0.9zM121.92,490.85h0.9v0.9h-0.9zM136.59,478.25h0.9v0.9h-0.9zM138.05,475.28h0.9v0.9h-0.9zM125.46,483.88h0.9v0.9h-0.9zM132.95,483.63h0.9v0.9h-0.9zM139.02,477.61h0.9v0.9h-0.9zM125.92,484.13h0.9v0.9h-0.9zM130.94,487.98h0.9v0.9h-0.9zM135.17,485.06h0.9v0.9h-0.9zM133.43,482.06h0.9v0.9h-0.9zM132.65,483.58h0.9v0.9h-0.9zM126.67,494.75h0.9v0.9h-0.9zM129.39,482.18h0.9v0.9h-0.9zM131.87,484.73h0.9v0.9h-0.9zM136.73,484.39h0.9v0.9h-0.9zM116.82,499.73h0.9v0.9h-0.9zM134.82,477.49h0.9v0.9h-0.9zM121.68,494.2h0.9v0.9h-0.9zM131.76,485.06h0.9v0.9h-0.9zM123.72,489.59h0.9v0.9h-0.9zM131.84,486.42h0.9v0.9h-0.9zM140.08,477.09h0.9v0.9h-0.9zM122.58,483.76h0.9v0.9h-0.9zM134.24,480.99h0.9v0.9h-0.9zM127.31,484.34h0.9v0.9h-0.9zM129.68,479.2h0.9v0.9h-0.9zM130.31,485.58h0.9v0.9h-0.9zM133.33,487.07h0.9v0.9h-0.9zM129.32,486.4h0.9v0.9h-0.9zM130.68,479.15h0.9v0.9h-0.9zM128.39,487.17h0.9v0.9h-0.9zM132.49,480.19h0.9v0.9h-0.9zM133.96,483.14h0.9v0.9h-0.9zM120.14,489.23h0.9v0.9h-0.9zM123.33,492.15h0.9v0.9h-0.9zM131.86,486.33h0.9v0.9h-0.9zM132.33,481.24h0.9v0.9h-0.9zM135.96,482.86h0.9v0.9h-0.9zM132.62,484.73h0.9v0.9h-0.9zM124.4,491.97h0.9v0.9h-0.9zM122.72,487.86h0.9v0.9h-0.9zM128.26,487.56h0.9v0.9h-0.9zM128.75,485.38h0.9v0.9h-0.9zM125.38,490.42h0.9v0.9h-0.9zM123.66,486.2h0.9v0.9h-0.9zM132.68,488.24h0.9v0.9h-0.9zM125.82,485.45h0.9v0.9h-0.9zM139.04,483.26h0.9v0.9h-0.9zM127.87,486.64h0.9v0.9h-0.9zM135.95,490.67h0.9v0.9h-0.9zM132.02,487.18h0.9v0.9h-0.9zM128.31,480.35h0.9v0.9h-0.9zM122.32,488.08h0.9v0.9h-0.9zM131.77,484.16h0.9v0.9h-0.9zM137.28,477.65h0.9v0.9h-0.9zM131.15,484.63h0.9v0.9h-0.9zM134.46,489.74h0.9v0.9h-0.9zM133.59,487.47h0.9v0.9h-0.9zM134.42,479.08h0.9v0.9h-0.9zM132.04,482.13h0.9v0.9h-0.9zM130.39,485.64h0.9v0.9h-0.9zM128.84,484.79h0.9v0.9h-0.9zM136.23,478.65h0.9v0.9h-0.9zM135.88,486.1h0.9v0.9h-0.9zM134.34,485.14h0.9v0.9h-0.9zM137.94,482.01h0.9v0.9h-0.9zM134.85,475.67h0.9v0.9h-0.9zM138.61,477.5h0.9v0.9h-0.9zM120.44,492h0.9v0.9h-0.9zM123.18,491.71h0.9v0.9h-0.9zM120.95,490.18h0.9v0.9h-0.9zM131.24,484.85h0.9v0.9h-0.9zM125.52,488.74h0.9v0.9h-0.9zM129.28,486.37h0.9v0.9h-0.9zM129.16,485.4h0.9v0.9h-0.9zM130.68,478.9h0.9v0.9h-0.9zM127.58,488.17h0.9v0.9h-0.9zM126.75,486.43h0.9v0.9h-0.9zM127.98,488.08h0.9v0.9h-0.9zM134.96,480.12h0.9v0.9h-0.9zM129.03,487.64h0.9v0.9h-0.9zM124.95,483.04h0.9v0.9h-0.9zM130.14,483.91h0.9v0.9h-0.9zM128.13,489.48h0.9v0.9h-0.9zM128.77,484.5h0.9v0.9h-0.9zM116.47,491.73h0.9v0.9h-0.9zM129.45,485.51h0.9v0.9h-0.9zM132.02,484.37h0.9v0.9h-0.9zM125.09,485.36h0.9v0.9h-0.9zM124.33,490.21h0.9v0.9h-0.9zM125.72,492.2h0.9v0.9h-0.9zM120.24,487.95h0.9v0.9h-0.9zM125.46,483.14h0.9v0.9h-0.9zM135.24,476.89h0.9v0.9h-0.9zM128.91,485.54h0.9v0.9h-0.9zM122.6,485.83h0.9v0.9h-0.9zM122.65,495.46h0.9v0.9h-0.9zM138.25,485.69h0.9v0.9h-0.9zM123.92,493.16h0.9v0.9h-0.9zM131.09,487.52h0.9v0.9h-0.9zM128.57,489.42h0.9v0.9h-0.9zM134.82,483.16h0.9v0.9h-0.9zM135.91,479.27h0.9v0.9h-0.9zM135.4,477.82h0.9v0.9h-0.9zM132.21,473.27h0.9v0.9h-0.9zM128.19,484.17h0.9v0.9h-0.9zM131.5,487.82h0.9v0.9h-0.9zM133.07,482.91h0.9v0.9h-0.9zM134.7,475.62h0.9v0.9h-0.9zM128.63,492.25h0.9v0.9h-0.9zM127.3,480.32h0.9v0.9h-0.9zM128.99,482.01h0.9v0.9h-0.9zM138.47,481.73h0.9v0.9h-0.9zM129.46,490.68h0.9v0.9h-0.9zM127.46,491.17h0.9v0.9h-0.9zM132.02,483.07h0.9v0.9h-0.9zM122.57,491.33h0.9v0.9h-0.9zM118.06,494.49h0.9v0.9h-0.9zM123.34,496.1h0.9v0.9h-0.9zM120.71,485.15h0.9v0.9h-0.9zM132.96,484.03h0.9v0.9h-0.9zM131.16,492.13h0.9v0.9h-0.9zM133.27,482.62h0.9v0.9h-0.9zM121.22,482.75h0.9v0.9h-0.9zM133.56,485.64h0.9v0.9h-0.9zM124.3,485.55h0.9v0.9h-0.9zM126.34,482.69h0.9v0.9h-0.9zM131.05,487.28h0.9v0.9h-0.9zM137.01,479.86h0.9v0.9h-0.9zM131.88,486.43h0.9v0.9h-0.9zM135.44,479.18h0.9v0.9h-0.9zM122.52,489.5h0.9v0.9h-0.9zM122.2,489.44h0.9v0.9h-0.9zM129.67,486.99h0.9v0.9h-0.9zM130.44,485.27h0.9v0.9h-0.9zM128.74,488.16h0.9v0.9h-0.9zM135.05,483.51h0.9v0.9h-0.9zM135.94,478.82h0.9v0.9h-0.9zM131.55,490.21h0.9v0.9h-0.9zM131.28,485.75h0.9v0.9h-0.9zM129.83,489.14h0.9v0.9h-0.9zM125.91,485.54h0.9v0.9h-0.9zM128.51,485.19h0.9v0.9h-0.9zM132.73,481.49h0.9v0.9h-0.9zM129.77,484.85h0.9v0.9h-0.9zM130,483.11h0.9v0.9h-0.9zM132.06,478.28h0.9v0.9h-0.9zM126.53,486.06h0.9v0.9h-0.9zM132.65,483.11h0.9v0.9h-0.9zM131.22,483.08h0.9v0.9h-0.9zM124.25,486.67h0.9v0.9h-0.9zM127.09,486.18h0.9v0.9h-0.9zM131.53,485.3h0.9v0.9h-0.9zM133.89,481.41h0.9v0.9h-0.9zM124.22,486.92h0.9v0.9h-0.9zM130.54,486.25h0.9v0.9h-0.9zM138.87,477.82h0.9v0.9h-0.9zM141.1,481.96h0.9v0.9h-0.9zM127.01,492.67h0.9v0.9h-0.9zM137.28,483.58h0.9v0.9h-0.9zM131.31,487.72h0.9v0.9h-0.9zM127.26,487.72h0.9v0.9h-0.9zM132.96,489.22h0.9v0.9h-0.9zM130.36,488.6h0.9v0.9h-0.9zM128.6,484.12h0.9v0.9h-0.9zM131.92,486.06h0.9v0.9h-0.9zM127.5,490.09h0.9v0.9h-0.9zM124.72,487.12h0.9v0.9h-0.9zM130.18,484.4h0.9v0.9h-0.9zM122.11,486.8h0.9v0.9h-0.9zM130.15,486.18h0.9v0.9h-0.9zM127.84,488.13h0.9v0.9h-0.9zM123.31,493.1h0.9v0.9h-0.9zM132.02,484.57h0.9v0.9h-0.9z" fill="#5a88d2" opacity="0.7"/>
<g transform="translate(136.01,486.66) rotate(-44)" filter="url(#soft)">
<ellipse rx="7.06" ry="3.12" fill="#a2bfea"/>
<ellipse rx="4.12" ry="1.66" fill="#7eaee2"/>
</g>
<path d="M134.31,488.54h0.9v0.9h-0.9zM138.02,487.97h0.9v0.9h-0.9zM137.21,486.27h0.9v0.9h-0.9zM135.17,490.09h0.9v0.9h-0.9zM138.73,482.54h0.9v0.9h-0.9zM138.37,485.32h0.9v0.9h-0.9zM133.92,484.78h0.9v0.9h-0.9zM138.38,478.71h0.9v0.9h-0.9zM136.33,485.21h0.9v0.9h-0.9zM138.76,482.73h0.9v0.9h-0.9zM137.05,487.51h0.9v0.9h-0.9zM136.57,484.54h0.9v0.9h-0.9zM138.62,485.33h0.9v0.9h-0.9zM138.16,483.04h0.9v0.9h-0.9zM135.28,486.18h0.9v0.9h-0.9zM133.92,489.46h0.9v0.9h-0.9zM139.37,487.72h0.9v0.9h-0.9zM135.63,488.2h0.9v0.9h-0.9zM139.21,483.22h0.9v0.9h-0.9zM136.4,486.69h0.9v0.9h-0.9zM132.47,487.08h0.9v0.9h-0.9zM139.57,483.75h0.9v0.9h-0.9zM133.91,484.93h0.9v0.9h-0.9zM138.13,488.17h0.9v0.9h-0.9zM131.26,488.55h0.9v0.9h-0.9zM141.44,485.74h0.9v0.9h-0.9zM139.75,481.38h0.9v0.9h-0.9zM136.64,483.78h0.9v0.9h-0.9zM136.99,484.61h0.9v0.9h-0.9zM138.61,488.2h0.9v0.9h-0.9zM136.64,485.32h0.9v0.9h-0.9zM136.57,486.92h0.9v0.9h-0.9zM134.81,488.45h0.9v0.9h-0.9zM140.13,487.39h0.9v0.9h-0.9zM128.14,490.67h0.9v0.9h-0.9zM133.69,491.55h0.9v0.9h-0.9zM143.49,480.03h0.9v0.9h-0.9zM138.08,488.1h0.9v0.9h-0.9zM128.55,493.33h0.9v0.9h-0.9zM127.07,495.76h0.9v0.9h-0.9zM133.78,487.35h0.9v0.9h-0.9zM136.13,484.79h0.9v0.9h-0.9zM139.27,483.5h0.9v0.9h-0.9zM140.95,489.54h0.9v0.9h-0.9zM136.08,489.38h0.9v0.9h-0.9zM135.46,490.96h0.9v0.9h-0.9zM139.05,484.14h0.9v0.9h-0.9zM141.35,486.36h0.9v0.9h-0.9zM140.06,482.76h0.9v0.9h-0.9zM137.51,488.55h0.9v0.9h-0.9zM130.78,489.9h0.9v0.9h-0.9zM138.29,486.18h0.9v0.9h-0.9zM144.12,484.13h0.9v0.9h-0.9zM137.62,486.43h0.9v0.9h-0.9zM131.86,490.11h0.9v0.9h-0.9zM136.44,485.57h0.9v0.9h-0.9zM137.1,487.44h0.9v0.9h-0.9zM132.36,488.48h0.9v0.9h-0.9zM132.52,493.48h0.9v0.9h-0.9zM130.36,487h0.9v0.9h-0.9zM137.95,484.15h0.9v0.9h-0.9zM138.29,483.36h0.9v0.9h-0.9zM143.31,481.76h0.9v0.9h-0.9zM136.62,486.42h0.9v0.9h-0.9zM136.62,488.5h0.9v0.9h-0.9zM141.23,480.35h0.9v0.9h-0.9zM133.72,490.67h0.9v0.9h-0.9zM136.89,481.33h0.9v0.9h-0.9zM132.49,487.07h0.9v0.9h-0.9zM138.41,485.86h0.9v0.9h-0.9zM132.17,486.99h0.9v0.9h-0.9zM134.93,481.54h0.9v0.9h-0.9zM137.66,484.6h0.9v0.9h-0.9zM143.11,482.79h0.9v0.9h-0.9zM133.9,487.87h0.9v0.9h-0.9zM134.11,486.32h0.9v0.9h-0.9zM137.69,487.93h0.9v0.9h-0.9zM131.26,490.56h0.9v0.9h-0.9zM141.48,483.6h0.9v0.9h-0.9zM132.43,487.71h0.9v0.9h-0.9zM131.11,486.59h0.9v0.9h-0.9zM139.47,483.53h0.9v0.9h-0.9zM131.83,486.41h0.9v0.9h-0.9zM134.12,486.95h0.9v0.9h-0.9zM140.34,481.1h0.9v0.9h-0.9zM137.95,488h0.9v0.9h-0.9zM137.68,484.5h0.9v0.9h-0.9zM131.74,494.97h0.9v0.9h-0.9zM137.1,484.31h0.9v0.9h-0.9zM134.32,485.44h0.9v0.9h-0.9zM131.18,486.9h0.9v0.9h-0.9zM138.24,486.05h0.9v0.9h-0.9zM137.68,487.38h0.9v0.9h-0.9zM137.75,485.35h0.9v0.9h-0.9zM134.32,490.06h0.9v0.9h-0.9zM140.4,484.3h0.9v0.9h-0.9zM138.94,482.43h0.9v0.9h-0.9zM135.02,491.35h0.9v0.9h-0.9zM134.67,488.68h0.9v0.9h-0.9zM135.49,487.23h0.9v0.9h-0.9zM134.42,486.59h0.9v0.9h-0.9zM133.66,494.61h0.9v0.9h-0.9zM133.73,483.12h0.9v0.9h-0.9zM131.7,487.47h0.9v0.9h-0.9zM130.06,484.82h0.9v0.9h-0.9zM140.12,487.58h0.9v0.9h-0.9zM136.4,488.5h0.9v0.9h-0.9zM135.9,483.06h0.9v0.9h-0.9zM137.04,480.65h0.9v0.9h-0.9zM133.8,487.72h0.9v0.9h-0.9zM139.83,483.33h0.9v0.9h-0.9zM134.45,485.77h0.9v0.9h-0.9zM136.33,486.48h0.9v0.9h-0.9zM140.2,486.76h0.9v0.9h-0.9zM138.17,484.63h0.9v0.9h-0.9zM137.95,489.56h0.9v0.9h-0.9zM136.57,486.08h0.9v0.9h-0.9zM143.55,484.05h0.9v0.9h-0.9zM137.5,484.9h0.9v0.9h-0.9zM135.75,490.08h0.9v0.9h-0.9zM136.12,489.41h0.9v0.9h-0.9zM133.89,489.02h0.9v0.9h-0.9zM137.39,485.76h0.9v0.9h-0.9zM137.25,486.6h0.9v0.9h-0.9zM131.11,488.1h0.9v0.9h-0.9zM138.26,489.85h0.9v0.9h-0.9zM134.27,485.59h0.9v0.9h-0.9zM134.15,488.56h0.9v0.9h-0.9zM138.59,482.49h0.9v0.9h-0.9zM137.91,485.38h0.9v0.9h-0.9zM133.58,486.21h0.9v0.9h-0.9zM134.5,485.98h0.9v0.9h-0.9zM134.95,482.46h0.9v0.9h-0.9zM140.4,484.68h0.9v0.9h-0.9zM139.9,487.35h0.9v0.9h-0.9zM135.22,482.36h0.9v0.9h-0.9zM136.83,487.21h0.9v0.9h-0.9zM132.36,486.84h0.9v0.9h-0.9zM138.02,486.24h0.9v0.9h-0.9zM134.42,487.48h0.9v0.9h-0.9zM133.7,487.21h0.9v0.9h-0.9zM137.43,488.47h0.9v0.9h-0.9zM130.85,490.63h0.9v0.9h-0.9zM141.14,482.65h0.9v0.9h-0.9zM137.69,487.51h0.9v0.9h-0.9zM131.32,487.61h0.9v0.9h-0.9zM129.06,489.06h0.9v0.9h-0.9zM137.98,487.27h0.9v0.9h-0.9zM133.8,486.78h0.9v0.9h-0.9zM138.08,486.48h0.9v0.9h-0.9zM133.93,483.03h0.9v0.9h-0.9zM130.69,484.3h0.9v0.9h-0.9zM135.45,484.69h0.9v0.9h-0.9zM136.34,490.79h0.9v0.9h-0.9zM140.53,483.72h0.9v0.9h-0.9zM137.06,486.16h0.9v0.9h-0.9zM134.24,488.22h0.9v0.9h-0.9zM140.23,480h0.9v0.9h-0.9zM134.34,488.76h0.9v0.9h-0.9zM139.81,485.45h0.9v0.9h-0.9zM133.03,489.16h0.9v0.9h-0.9zM133.42,485.52h0.9v0.9h-0.9zM135.52,485.71h0.9v0.9h-0.9zM139.3,484.77h0.9v0.9h-0.9zM133.88,488.96h0.9v0.9h-0.9zM134.04,486.69h0.9v0.9h-0.9zM136.18,489.64h0.9v0.9h-0.9zM132.29,485.19h0.9v0.9h-0.9zM134.97,490.05h0.9v0.9h-0.9zM140.65,479.07h0.9v0.9h-0.9zM134.5,487.15h0.9v0.9h-0.9zM132.55,491.19h0.9v0.9h-0.9zM136.27,487.23h0.9v0.9h-0.9zM142.06,480.03h0.9v0.9h-0.9zM139.52,485.73h0.9v0.9h-0.9zM133.3,487.53h0.9v0.9h-0.9zM141.55,483.43h0.9v0.9h-0.9zM134.81,484.59h0.9v0.9h-0.9zM139.33,485.01h0.9v0.9h-0.9zM144.51,482.81h0.9v0.9h-0.9zM138.72,484.84h0.9v0.9h-0.9zM135.38,485.65h0.9v0.9h-0.9zM137.26,486.18h0.9v0.9h-0.9zM139.49,486.51h0.9v0.9h-0.9zM136.11,484.97h0.9v0.9h-0.9zM140.62,486.79h0.9v0.9h-0.9zM134.23,489.63h0.9v0.9h-0.9zM138.38,485.96h0.9v0.9h-0.9zM137.33,485.12h0.9v0.9h-0.9zM138.2,489.52h0.9v0.9h-0.9zM138.93,479.71h0.9v0.9h-0.9zM129.35,494.39h0.9v0.9h-0.9zM133.31,487.75h0.9v0.9h-0.9zM131.94,491.63h0.9v0.9h-0.9zM135.06,485.99h0.9v0.9h-0.9zM142.18,487.88h0.9v0.9h-0.9zM141.98,484.36h0.9v0.9h-0.9zM135.8,488.81h0.9v0.9h-0.9zM137.61,488.54h0.9v0.9h-0.9zM137.63,484.99h0.9v0.9h-0.9zM136.54,484.03h0.9v0.9h-0.9zM140.51,486.76h0.9v0.9h-0.9zM135.79,488.52h0.9v0.9h-0.9zM132.6,492.72h0.9v0.9h-0.9zM137.03,482.67h0.9v0.9h-0.9zM141.19,481.99h0.9v0.9h-0.9zM129.01,489.38h0.9v0.9h-0.9zM138.12,483.82h0.9v0.9h-0.9zM136.9,481.23h0.9v0.9h-0.9zM137.17,488.43h0.9v0.9h-0.9zM135.06,489.58h0.9v0.9h-0.9zM135.48,488.19h0.9v0.9h-0.9zM140.23,489.18h0.9v0.9h-0.9zM133.6,491.29h0.9v0.9h-0.9zM138.13,481.3h0.9v0.9h-0.9zM139.65,489.96h0.9v0.9h-0.9zM134.66,479.22h0.9v0.9h-0.9zM132.81,484.71h0.9v0.9h-0.9zM135.81,484.71h0.9v0.9h-0.9zM133.16,486.95h0.9v0.9h-0.9zM136.17,485.13h0.9v0.9h-0.9zM133.07,488.83h0.9v0.9h-0.9zM135.92,484.23h0.9v0.9h-0.9zM136.76,481.04h0.9v0.9h-0.9zM136.61,484.94h0.9v0.9h-0.9zM139.59,481.31h0.9v0.9h-0.9zM132.12,486.46h0.9v0.9h-0.9zM142.63,482.09h0.9v0.9h-0.9zM132.39,489.16h0.9v0.9h-0.9zM135.5,491.65h0.9v0.9h-0.9zM134.21,482.39h0.9v0.9h-0.9zM137.96,487.48h0.9v0.9h-0.9zM136.71,487.38h0.9v0.9h-0.9zM136,487.29h0.9v0.9h-0.9zM135.58,484.99h0.9v0.9h-0.9zM137.25,485.95h0.9v0.9h-0.9zM134.89,485.73h0.9v0.9h-0.9zM133.45,489.86h0.9v0.9h-0.9zM134.82,480.68h0.9v0.9h-0.9zM136.47,490.22h0.9v0.9h-0.9zM137.59,483.03h0.9v0.9h-0.9zM138.44,481.4h0.9v0.9h-0.9zM136.6,491.82h0.9v0.9h-0.9zM134.43,487.55h0.9v0.9h-0.9zM129.77,489.7h0.9v0.9h-0.9zM132.42,489.72h0.9v0.9h-0.9zM132.3,493.39h0.9v0.9h-0.9zM134.09,486.73h0.9v0.9h-0.9zM135.28,489.56h0.9v0.9h-0.9zM139.82,481.78h0.9v0.9h-0.9zM143.03,484.64h0.9v0.9h-0.9zM140.31,483.39h0.9v0.9h-0.9zM132.71,491.84h0.9v0.9h-0.9zM135.12,488.1h0.9v0.9h-0.9zM130.17,491.47h0.9v0.9h-0.9zM135.3,484.58h0.9v0.9h-0.9zM139.32,488.4h0.9v0.9h-0.9zM135.66,484.98h0.9v0.9h-0.9zM139.7,476.74h0.9v0.9h-0.9zM133.96,489.85h0.9v0.9h-0.9z" fill="#4d7fcf" opacity="0.7"/>
<g transform="translate(129.6,485.8) rotate(-43)" filter="url(#soft)">
<ellipse rx="9.04" ry="3.39" fill="#6b93d7"/>
<ellipse rx="7.81" ry="2.93" fill="#4f9dd3"/>
<ellipse rx="6.76" ry="2.53" fill="#56b89c"/>
<ellipse rx="5.71" ry="2.14" fill="#a0ce4e"/>
<ellipse rx="4.28" ry="1.61" fill="#d9d640"/>
<ellipse rx="2.67" ry="1" fill="#efb036"/>
<ellipse rx="1.14" ry="0.46" fill="#e4662c"/>
</g>
<ellipse cx="138.5" cy="487" rx="9.8" ry="5.2" transform="rotate(-44 138.5 487)" fill="none" stroke="#505050" stroke-width="0.9"/>
<text x="134.2" y="508.1" font-size="6.9" textLength="16.6" lengthAdjust="spacingAndGlyphs">18.6%</text>
<path d="M89.3,470.1 h-2.0 M89.3,486.7 h-2.0 M89.3,507.1 h-2.0 M89.3,516.5 h-2.0 M89.3,527.7 h-2.0 M89.3,472.87 h-1.0 M89.3,475.63 h-1.0 M89.3,478.4 h-1.0 M89.3,481.17 h-1.0 M89.3,483.93 h-1.0 M89.3,490.1 h-1.0 M89.3,493.5 h-1.0 M89.3,496.9 h-1.0 M89.3,500.3 h-1.0 M89.3,503.7 h-1.0 " stroke="#444" stroke-width="0.75"/>
<text x="75.49" y="471.7" font-size="6.2" textLength="7.01" lengthAdjust="spacingAndGlyphs">10</text>
<text x="82.7" y="468.9" font-size="4">4</text>
<text x="75.49" y="488.3" font-size="6.2" textLength="7.01" lengthAdjust="spacingAndGlyphs">10</text>
<text x="82.7" y="485.5" font-size="4">3</text>
<text x="75.49" y="508.7" font-size="6.2" textLength="7.01" lengthAdjust="spacingAndGlyphs">10</text>
<text x="82.7" y="505.9" font-size="4">2</text>
<text x="84.7" y="518.4" font-size="6.4" text-anchor="end">0</text>
<text x="73.4" y="529.3" font-size="6.2" textLength="9.1" lengthAdjust="spacingAndGlyphs">-10</text>
<text x="82.7" y="526.5" font-size="4">2</text>
<rect x="88.1" y="515.3" width="1.4" height="2.4" fill="#111"/>
<path d="M93.7,534.1 v1.8 M114.3,534.1 v1.8 M133.3,534.1 v1.8 M153.5,534.1 v1.8 M91.3,534.1 v1.0 M96.4,534.1 v1.0 M101.5,534.1 v1.0 M106.6,534.1 v1.0 M111.7,534.1 v1.0 M116.8,534.1 v1.0 M121.9,534.1 v1.0 M127,534.1 v1.0 M132.1,534.1 v1.0 M137.2,534.1 v1.0 M142.3,534.1 v1.0 M147.4,534.1 v1.0 M152.5,534.1 v1.0 M157.6,534.1 v1.0 " stroke="#444" stroke-width="0.75"/>
<rect x="112.3" y="533.3" width="3.2" height="1.4" fill="#111"/>
<text x="88.25" y="543.7" font-size="6.6" textLength="9.1" lengthAdjust="spacingAndGlyphs">-10</text>
<text x="97.55" y="540.7" font-size="4.2">3</text>
<text x="114.3" y="543.7" font-size="6.6" text-anchor="middle">0</text>
<text x="128.9" y="543.7" font-size="6.6" textLength="7.01" lengthAdjust="spacingAndGlyphs">10</text>
<text x="136.1" y="540.7" font-size="4.2">3</text>
<text x="149.1" y="543.7" font-size="6.6" textLength="7.01" lengthAdjust="spacingAndGlyphs">10</text>
<text x="156.3" y="540.7" font-size="4.2">4</text>
<text x="107.6" y="555.7" font-size="8.4" textLength="35.3" lengthAdjust="spacingAndGlyphs">BAK G317-2</text>
<text transform="translate(69.9,518.3) rotate(-90)" font-size="8.8" textLength="39.5" lengthAdjust="spacingAndGlyphs" fill="#1a1a1a">Cytochrome c</text>
<rect x="198.7" y="462.7" width="71.8" height="72.4" fill="#fff" stroke="#cfcfcf" stroke-width="0.8"/>
<path d="M224.02,506.74h0.6v0.6h-0.6zM228.73,500.41h0.6v0.6h-0.6zM230.15,493h0.6v0.6h-0.6zM227.22,511.29h0.6v0.6h-0.6zM212.57,513.33h0.6v0.6h-0.6zM235.71,492.07h0.6v0.6h-0.6zM223.11,507.01h0.6v0.6h-0.6zM218.36,513.55h0.6v0.6h-0.6zM230.97,498.87h0.6v0.6h-0.6zM211.81,513.44h0.6v0.6h-0.6zM227.69,506.33h0.6v0.6h-0.6zM217.62,511.45h0.6v0.6h-0.6zM231.09,498.31h0.6v0.6h-0.6zM225.36,502.56h0.6v0.6h-0.6zM234.45,492.5h0.6v0.6h-0.6zM221.89,510.37h0.6v0.6h-0.6zM227.9,505.47h0.6v0.6h-0.6zM219.6,515.68h0.6v0.6h-0.6zM222.26,503.8h0.6v0.6h-0.6zM221.81,512.2h0.6v0.6h-0.6zM223.88,515h0.6v0.6h-0.6zM228.66,501h0.6v0.6h-0.6zM220.15,508.47h0.6v0.6h-0.6zM221.91,494.31h0.6v0.6h-0.6zM230.17,495.87h0.6v0.6h-0.6zM234.08,496.35h0.6v0.6h-0.6zM223.85,506.48h0.6v0.6h-0.6zM233.74,495.51h0.6v0.6h-0.6zM228.79,497.16h0.6v0.6h-0.6zM220.86,503.95h0.6v0.6h-0.6zM229.63,500.68h0.6v0.6h-0.6zM231.57,493.38h0.6v0.6h-0.6zM236.8,495.13h0.6v0.6h-0.6zM215.44,515.48h0.6v0.6h-0.6zM225.91,503.12h0.6v0.6h-0.6zM231.74,503.27h0.6v0.6h-0.6zM230.11,504.08h0.6v0.6h-0.6zM219.98,510.73h0.6v0.6h-0.6zM216.13,514.47h0.6v0.6h-0.6zM227.26,495.52h0.6v0.6h-0.6zM250.54,512.81h0.6v0.6h-0.6zM210.55,483.24h0.6v0.6h-0.6zM258.44,504.79h0.6v0.6h-0.6zM240.7,499.02h0.6v0.6h-0.6zM223.76,512.58h0.6v0.6h-0.6zM237.95,485.1h0.6v0.6h-0.6zM213.07,470.55h0.6v0.6h-0.6zM261.55,505.27h0.6v0.6h-0.6zM202.51,481.08h0.6v0.6h-0.6zM233.22,489.82h0.6v0.6h-0.6zM225.34,510.07h0.6v0.6h-0.6zM224.42,491.66h0.6v0.6h-0.6zM263.71,497.09h0.6v0.6h-0.6zM233.03,481.56h0.6v0.6h-0.6zM226.95,495.57h0.6v0.6h-0.6zM253.99,477.91h0.6v0.6h-0.6zM225.82,484.35h0.6v0.6h-0.6zM225.3,510.97h0.6v0.6h-0.6z" fill="#b7c6e2"/>
<path d="M236.77,487.95h0.9v0.9h-0.9zM239.44,492.1h0.9v0.9h-0.9zM246.82,484.04h0.9v0.9h-0.9zM243.84,482.4h0.9v0.9h-0.9zM249.64,479.09h0.9v0.9h-0.9zM243.74,484.27h0.9v0.9h-0.9zM244.57,482.41h0.9v0.9h-0.9zM237.03,482.59h0.9v0.9h-0.9zM247.73,473.69h0.9v0.9h-0.9zM229.56,492.78h0.9v0.9h-0.9zM251.76,479.15h0.9v0.9h-0.9zM238.43,488.08h0.9v0.9h-0.9zM236.96,481.22h0.9v0.9h-0.9zM239.71,487h0.9v0.9h-0.9zM243.86,477.65h0.9v0.9h-0.9zM227.5,491.54h0.9v0.9h-0.9zM242.36,483.75h0.9v0.9h-0.9zM241.66,484.65h0.9v0.9h-0.9zM236.53,483.89h0.9v0.9h-0.9zM243.48,483.82h0.9v0.9h-0.9zM245.62,484.98h0.9v0.9h-0.9zM230.75,485.7h0.9v0.9h-0.9zM236.45,496.81h0.9v0.9h-0.9zM237.24,489.69h0.9v0.9h-0.9zM241.96,486.5h0.9v0.9h-0.9zM254.47,470.27h0.9v0.9h-0.9zM238.83,484.55h0.9v0.9h-0.9zM242.78,484.97h0.9v0.9h-0.9zM238.67,491.73h0.9v0.9h-0.9zM246.77,480.97h0.9v0.9h-0.9zM239.76,485.01h0.9v0.9h-0.9zM234.36,493.32h0.9v0.9h-0.9zM235.31,488.18h0.9v0.9h-0.9zM243.58,478.93h0.9v0.9h-0.9zM239.88,488.92h0.9v0.9h-0.9zM247.95,475.7h0.9v0.9h-0.9zM244.56,478.99h0.9v0.9h-0.9zM243.37,484.29h0.9v0.9h-0.9zM237.36,491.88h0.9v0.9h-0.9zM249.05,477.41h0.9v0.9h-0.9zM239.79,481.54h0.9v0.9h-0.9zM249.02,477.48h0.9v0.9h-0.9zM236.25,491.96h0.9v0.9h-0.9zM232.74,489.9h0.9v0.9h-0.9zM233.44,496.82h0.9v0.9h-0.9zM249.68,474.3h0.9v0.9h-0.9zM236.64,486.66h0.9v0.9h-0.9zM239.12,488.51h0.9v0.9h-0.9zM245.54,476.78h0.9v0.9h-0.9zM239.42,479.57h0.9v0.9h-0.9zM247.53,478.31h0.9v0.9h-0.9zM240.29,491h0.9v0.9h-0.9zM242.73,488.15h0.9v0.9h-0.9zM248.66,483.66h0.9v0.9h-0.9zM237.13,488.53h0.9v0.9h-0.9zM242.03,483.04h0.9v0.9h-0.9zM246.38,477.08h0.9v0.9h-0.9zM247.8,483.39h0.9v0.9h-0.9zM229.96,491.45h0.9v0.9h-0.9zM235.55,487.79h0.9v0.9h-0.9zM242.17,482.99h0.9v0.9h-0.9zM240.22,483.76h0.9v0.9h-0.9zM241.21,486.3h0.9v0.9h-0.9zM242.69,480.28h0.9v0.9h-0.9zM238.78,483.99h0.9v0.9h-0.9zM237.25,482.94h0.9v0.9h-0.9zM246.31,482.24h0.9v0.9h-0.9zM238.88,484.18h0.9v0.9h-0.9zM237.39,485.64h0.9v0.9h-0.9zM236.61,494.81h0.9v0.9h-0.9zM253.54,468.51h0.9v0.9h-0.9zM236.41,491.13h0.9v0.9h-0.9zM240.59,479.32h0.9v0.9h-0.9zM232.88,494.28h0.9v0.9h-0.9zM234.17,496.32h0.9v0.9h-0.9zM238.59,487.29h0.9v0.9h-0.9zM239.66,483.91h0.9v0.9h-0.9zM239.5,485.02h0.9v0.9h-0.9zM246.24,479.5h0.9v0.9h-0.9zM239.58,484.1h0.9v0.9h-0.9zM236.44,486.26h0.9v0.9h-0.9zM244.11,488.57h0.9v0.9h-0.9zM246.25,480.69h0.9v0.9h-0.9zM250.21,479.85h0.9v0.9h-0.9zM241.35,483.79h0.9v0.9h-0.9zM236.12,490.18h0.9v0.9h-0.9zM236.35,483.23h0.9v0.9h-0.9zM238.36,494.3h0.9v0.9h-0.9zM242.6,485.06h0.9v0.9h-0.9zM240.77,483.23h0.9v0.9h-0.9zM244.8,485.16h0.9v0.9h-0.9zM240.22,487.33h0.9v0.9h-0.9zM244.52,479.66h0.9v0.9h-0.9zM240.12,482.82h0.9v0.9h-0.9zM242.79,481.69h0.9v0.9h-0.9zM244.56,478.59h0.9v0.9h-0.9zM247.88,477.16h0.9v0.9h-0.9zM235.19,486.82h0.9v0.9h-0.9zM242.17,480.48h0.9v0.9h-0.9zM251.33,479.8h0.9v0.9h-0.9zM240.47,479.99h0.9v0.9h-0.9zM239.26,483.68h0.9v0.9h-0.9zM233.17,493.58h0.9v0.9h-0.9zM249.82,474.53h0.9v0.9h-0.9zM246.77,484.06h0.9v0.9h-0.9zM235.67,488.44h0.9v0.9h-0.9zM242.8,484.78h0.9v0.9h-0.9zM235.84,490.33h0.9v0.9h-0.9zM241.95,487.33h0.9v0.9h-0.9zM232.34,490.72h0.9v0.9h-0.9zM237.81,486.53h0.9v0.9h-0.9zM242.86,480.67h0.9v0.9h-0.9zM251.96,471.9h0.9v0.9h-0.9zM246.42,483.41h0.9v0.9h-0.9zM244.75,480.47h0.9v0.9h-0.9zM236.43,488.05h0.9v0.9h-0.9zM243.98,482.39h0.9v0.9h-0.9zM244.42,483.64h0.9v0.9h-0.9zM234.93,486.94h0.9v0.9h-0.9zM246.42,477.88h0.9v0.9h-0.9zM236.84,495.43h0.9v0.9h-0.9zM235.16,486.73h0.9v0.9h-0.9zM243.06,478.64h0.9v0.9h-0.9zM238.63,490.79h0.9v0.9h-0.9zM241.54,493.44h0.9v0.9h-0.9zM246.07,489.86h0.9v0.9h-0.9zM241.39,484.56h0.9v0.9h-0.9zM237.35,487.31h0.9v0.9h-0.9zM238.36,487.1h0.9v0.9h-0.9zM241.91,479.2h0.9v0.9h-0.9zM232.65,484.81h0.9v0.9h-0.9zM247.46,478.42h0.9v0.9h-0.9zM240.53,484.94h0.9v0.9h-0.9zM245.9,481.33h0.9v0.9h-0.9zM244.29,481.03h0.9v0.9h-0.9zM240.04,485.41h0.9v0.9h-0.9zM234.15,495.11h0.9v0.9h-0.9zM231.64,489.79h0.9v0.9h-0.9zM243.88,482.24h0.9v0.9h-0.9zM247.56,484.88h0.9v0.9h-0.9zM251.78,479.75h0.9v0.9h-0.9zM243.42,489.99h0.9v0.9h-0.9zM236.51,488.59h0.9v0.9h-0.9zM244.88,480.32h0.9v0.9h-0.9zM239.5,484.82h0.9v0.9h-0.9zM242.44,474.31h0.9v0.9h-0.9zM248.48,481.64h0.9v0.9h-0.9zM241.4,486.41h0.9v0.9h-0.9zM238.29,491.32h0.9v0.9h-0.9zM253.05,470.1h0.9v0.9h-0.9zM247,478.92h0.9v0.9h-0.9zM238.26,485.49h0.9v0.9h-0.9zM237.54,483.35h0.9v0.9h-0.9zM237.52,494.08h0.9v0.9h-0.9zM241.63,486.16h0.9v0.9h-0.9zM243,484.61h0.9v0.9h-0.9zM231.96,489.66h0.9v0.9h-0.9zM245.43,484.25h0.9v0.9h-0.9zM234.39,488.76h0.9v0.9h-0.9zM236.99,490.86h0.9v0.9h-0.9zM242.34,483.59h0.9v0.9h-0.9zM238.35,488.46h0.9v0.9h-0.9zM239.48,483.4h0.9v0.9h-0.9zM241.01,482.27h0.9v0.9h-0.9zM246.21,482.16h0.9v0.9h-0.9zM238.62,489.1h0.9v0.9h-0.9zM239.71,483.32h0.9v0.9h-0.9zM233.46,485.64h0.9v0.9h-0.9zM236.15,490.52h0.9v0.9h-0.9zM245.09,478.6h0.9v0.9h-0.9zM242.06,484.99h0.9v0.9h-0.9zM245.09,482.53h0.9v0.9h-0.9zM247.73,481.26h0.9v0.9h-0.9zM237.93,489.04h0.9v0.9h-0.9zM229.63,494.67h0.9v0.9h-0.9zM241.86,486.05h0.9v0.9h-0.9zM240.84,487.93h0.9v0.9h-0.9zM245.22,477.7h0.9v0.9h-0.9zM238.69,487.84h0.9v0.9h-0.9zM243.21,483.19h0.9v0.9h-0.9zM242.34,479.12h0.9v0.9h-0.9zM246.4,483.97h0.9v0.9h-0.9zM246.57,481.09h0.9v0.9h-0.9zM240.34,486.8h0.9v0.9h-0.9zM237.45,482.2h0.9v0.9h-0.9zM237.85,487.51h0.9v0.9h-0.9zM236.62,485.37h0.9v0.9h-0.9zM238.96,485.26h0.9v0.9h-0.9zM240.93,484.61h0.9v0.9h-0.9zM243.31,486.22h0.9v0.9h-0.9zM242.07,485.21h0.9v0.9h-0.9zM229.69,484.43h0.9v0.9h-0.9zM240.11,488.04h0.9v0.9h-0.9zM238,485.23h0.9v0.9h-0.9zM236.65,492.06h0.9v0.9h-0.9zM238.73,487.74h0.9v0.9h-0.9zM246.87,481.22h0.9v0.9h-0.9zM250.75,475.14h0.9v0.9h-0.9zM246.36,482.27h0.9v0.9h-0.9zM237.78,487.9h0.9v0.9h-0.9zM236.23,485.4h0.9v0.9h-0.9zM240.66,482.19h0.9v0.9h-0.9zM247.05,476.36h0.9v0.9h-0.9zM238.37,487.51h0.9v0.9h-0.9zM238.42,487.32h0.9v0.9h-0.9zM235.31,484.8h0.9v0.9h-0.9zM227.27,492.78h0.9v0.9h-0.9zM248.49,479.37h0.9v0.9h-0.9zM240.55,483.43h0.9v0.9h-0.9zM240.58,486.21h0.9v0.9h-0.9zM232.86,489.37h0.9v0.9h-0.9zM238.92,491.28h0.9v0.9h-0.9zM238,491.82h0.9v0.9h-0.9zM243.56,492.35h0.9v0.9h-0.9zM240.4,485.4h0.9v0.9h-0.9zM248.5,480.94h0.9v0.9h-0.9zM243.05,478.88h0.9v0.9h-0.9zM248.99,483.44h0.9v0.9h-0.9zM239.34,484.49h0.9v0.9h-0.9zM237.56,491.67h0.9v0.9h-0.9zM242.06,483.76h0.9v0.9h-0.9zM238.01,493.47h0.9v0.9h-0.9zM244.68,481.22h0.9v0.9h-0.9zM245.73,476.82h0.9v0.9h-0.9zM242.91,479.27h0.9v0.9h-0.9zM246.67,478.42h0.9v0.9h-0.9zM245.55,478.95h0.9v0.9h-0.9zM244.62,485.54h0.9v0.9h-0.9zM236.74,489.05h0.9v0.9h-0.9zM238.42,490.26h0.9v0.9h-0.9zM237.25,486.85h0.9v0.9h-0.9zM241.91,488.16h0.9v0.9h-0.9zM235.88,489.4h0.9v0.9h-0.9zM238.18,485.33h0.9v0.9h-0.9zM236.8,488.05h0.9v0.9h-0.9zM238.76,481.12h0.9v0.9h-0.9zM239.6,481.67h0.9v0.9h-0.9zM244.95,489.42h0.9v0.9h-0.9zM236.14,489.01h0.9v0.9h-0.9zM241.33,488.02h0.9v0.9h-0.9zM235.25,483.52h0.9v0.9h-0.9zM233.63,492.24h0.9v0.9h-0.9zM243.82,486.01h0.9v0.9h-0.9zM239.46,488.61h0.9v0.9h-0.9zM238.19,492.1h0.9v0.9h-0.9zM239.13,483.97h0.9v0.9h-0.9zM244.71,487.66h0.9v0.9h-0.9zM234.54,486.19h0.9v0.9h-0.9zM233.93,487.07h0.9v0.9h-0.9zM241.11,485.91h0.9v0.9h-0.9zM240.31,486.09h0.9v0.9h-0.9zM245.61,479.36h0.9v0.9h-0.9zM230.76,485.87h0.9v0.9h-0.9zM240.56,482.63h0.9v0.9h-0.9zM240.31,486.87h0.9v0.9h-0.9zM239.95,479.94h0.9v0.9h-0.9zM236.45,489.24h0.9v0.9h-0.9zM242.14,487.87h0.9v0.9h-0.9zM234.61,483.09h0.9v0.9h-0.9zM243.07,476.78h0.9v0.9h-0.9zM236.96,489.92h0.9v0.9h-0.9zM240.4,494.42h0.9v0.9h-0.9zM242.77,485.03h0.9v0.9h-0.9zM242.76,491.22h0.9v0.9h-0.9zM241.86,481.28h0.9v0.9h-0.9zM243.36,476.31h0.9v0.9h-0.9zM238.54,488.08h0.9v0.9h-0.9zM239.57,482.52h0.9v0.9h-0.9zM250.65,481.13h0.9v0.9h-0.9zM237.1,489.73h0.9v0.9h-0.9zM237,486.86h0.9v0.9h-0.9zM245.46,481.03h0.9v0.9h-0.9zM240.39,485.67h0.9v0.9h-0.9zM237.56,492.41h0.9v0.9h-0.9zM239.65,490.79h0.9v0.9h-0.9zM237.76,486.06h0.9v0.9h-0.9zM247.87,479.02h0.9v0.9h-0.9zM236.79,486.68h0.9v0.9h-0.9zM246.91,486.09h0.9v0.9h-0.9zM242.79,481.6h0.9v0.9h-0.9zM234.32,488.47h0.9v0.9h-0.9zM240.6,485.99h0.9v0.9h-0.9zM240.04,490.32h0.9v0.9h-0.9zM235,487.69h0.9v0.9h-0.9zM243.86,483.82h0.9v0.9h-0.9zM240.67,488.56h0.9v0.9h-0.9zM237.24,494.23h0.9v0.9h-0.9zM254.31,479.48h0.9v0.9h-0.9zM244.85,488.36h0.9v0.9h-0.9zM243.38,487.38h0.9v0.9h-0.9zM240.14,486.23h0.9v0.9h-0.9zM239.9,479.32h0.9v0.9h-0.9zM242.89,489.27h0.9v0.9h-0.9zM228,498.26h0.9v0.9h-0.9zM245.53,481.7h0.9v0.9h-0.9zM244.13,486.89h0.9v0.9h-0.9zM238.77,479.85h0.9v0.9h-0.9zM235.83,488.46h0.9v0.9h-0.9zM240.54,483.5h0.9v0.9h-0.9zM243.28,488.73h0.9v0.9h-0.9zM229.36,499.8h0.9v0.9h-0.9zM246.1,482.18h0.9v0.9h-0.9zM240.89,485.06h0.9v0.9h-0.9zM242.81,483.92h0.9v0.9h-0.9zM238.81,489.63h0.9v0.9h-0.9zM236.84,488.45h0.9v0.9h-0.9zM236.95,484.27h0.9v0.9h-0.9zM243.35,482.28h0.9v0.9h-0.9zM235.22,489.83h0.9v0.9h-0.9zM237.01,493.71h0.9v0.9h-0.9zM246.7,486.69h0.9v0.9h-0.9zM239.39,488.81h0.9v0.9h-0.9zM234.71,487.46h0.9v0.9h-0.9zM241.04,486.19h0.9v0.9h-0.9zM244.44,480.53h0.9v0.9h-0.9zM247.51,482.19h0.9v0.9h-0.9zM236.37,488.38h0.9v0.9h-0.9zM239.63,492.25h0.9v0.9h-0.9zM239.8,489.08h0.9v0.9h-0.9zM244.42,480.6h0.9v0.9h-0.9zM239.1,487.75h0.9v0.9h-0.9zM234.84,485.83h0.9v0.9h-0.9zM236.9,489.78h0.9v0.9h-0.9zM244.8,487.63h0.9v0.9h-0.9zM233.27,493.77h0.9v0.9h-0.9zM237.54,492.18h0.9v0.9h-0.9zM244.11,482.28h0.9v0.9h-0.9zM246.75,477.99h0.9v0.9h-0.9zM236.36,485.2h0.9v0.9h-0.9zM237.91,488.02h0.9v0.9h-0.9zM246.11,484.64h0.9v0.9h-0.9zM238.14,484.72h0.9v0.9h-0.9zM238.39,485.58h0.9v0.9h-0.9zM237.83,486.2h0.9v0.9h-0.9zM236.63,488.6h0.9v0.9h-0.9zM238.06,486.85h0.9v0.9h-0.9zM234.65,491.17h0.9v0.9h-0.9zM244.49,483.83h0.9v0.9h-0.9zM236.12,485.1h0.9v0.9h-0.9zM232.63,488.24h0.9v0.9h-0.9z" fill="#5a88d2" opacity="0.7"/>
<g transform="translate(245.26,486.8) rotate(-46)" filter="url(#soft)">
<ellipse rx="7.06" ry="3.12" fill="#bcd0ef"/>
<ellipse rx="4.12" ry="1.66" fill="#a3c2ea"/>
</g>
<path d="M242.95,488.22h0.9v0.9h-0.9zM241.27,493.02h0.9v0.9h-0.9zM239.82,490.29h0.9v0.9h-0.9zM244.5,490.17h0.9v0.9h-0.9zM249.93,480.86h0.9v0.9h-0.9zM243.87,487.02h0.9v0.9h-0.9zM244.43,487.13h0.9v0.9h-0.9zM250.56,477.92h0.9v0.9h-0.9zM243.72,485.93h0.9v0.9h-0.9zM245.46,484.97h0.9v0.9h-0.9zM245.21,483.49h0.9v0.9h-0.9zM251.57,480.92h0.9v0.9h-0.9zM241.34,493.04h0.9v0.9h-0.9zM242.14,486.44h0.9v0.9h-0.9zM245.71,484.73h0.9v0.9h-0.9zM246.5,483.81h0.9v0.9h-0.9zM248.05,484.38h0.9v0.9h-0.9zM246.52,485.99h0.9v0.9h-0.9zM243.67,487.33h0.9v0.9h-0.9zM247.64,486.54h0.9v0.9h-0.9zM247.58,491.35h0.9v0.9h-0.9zM248.27,480.13h0.9v0.9h-0.9zM248.23,483.51h0.9v0.9h-0.9zM244.7,484.94h0.9v0.9h-0.9zM248.65,480.73h0.9v0.9h-0.9zM243.91,485.95h0.9v0.9h-0.9zM252.67,483.02h0.9v0.9h-0.9zM240.84,489.99h0.9v0.9h-0.9zM245.62,485.09h0.9v0.9h-0.9zM242.59,486.23h0.9v0.9h-0.9zM244.28,484.43h0.9v0.9h-0.9zM251.32,487.95h0.9v0.9h-0.9zM246.89,490.21h0.9v0.9h-0.9zM245.28,484.71h0.9v0.9h-0.9zM242.8,486.37h0.9v0.9h-0.9zM246.67,487.51h0.9v0.9h-0.9zM247.46,483.67h0.9v0.9h-0.9zM241.78,490.18h0.9v0.9h-0.9zM250.42,482.34h0.9v0.9h-0.9zM241.87,483.89h0.9v0.9h-0.9zM244.88,488.88h0.9v0.9h-0.9zM244.68,491.58h0.9v0.9h-0.9zM242.32,487.15h0.9v0.9h-0.9zM243.49,488.36h0.9v0.9h-0.9zM247.21,483.04h0.9v0.9h-0.9zM240.12,491.89h0.9v0.9h-0.9zM249.11,487.57h0.9v0.9h-0.9zM244.39,492.29h0.9v0.9h-0.9zM247.87,485.51h0.9v0.9h-0.9zM241.74,487.73h0.9v0.9h-0.9zM244.01,490.98h0.9v0.9h-0.9zM247.53,487.75h0.9v0.9h-0.9zM250.41,481.53h0.9v0.9h-0.9zM248.09,489.8h0.9v0.9h-0.9zM240.9,489.94h0.9v0.9h-0.9zM243.64,487.32h0.9v0.9h-0.9zM244.38,485.14h0.9v0.9h-0.9zM246.43,481.39h0.9v0.9h-0.9zM240.37,486.66h0.9v0.9h-0.9zM242.23,491.76h0.9v0.9h-0.9zM246.73,484.68h0.9v0.9h-0.9zM248.59,485.26h0.9v0.9h-0.9zM243.58,488.43h0.9v0.9h-0.9zM249.39,488.73h0.9v0.9h-0.9zM244.6,488.64h0.9v0.9h-0.9zM248.68,487.03h0.9v0.9h-0.9zM248.11,487.16h0.9v0.9h-0.9zM241.87,489.51h0.9v0.9h-0.9zM239.75,492.37h0.9v0.9h-0.9zM252.2,480.38h0.9v0.9h-0.9zM245.93,486.94h0.9v0.9h-0.9zM243.64,484.42h0.9v0.9h-0.9zM243.05,488.57h0.9v0.9h-0.9zM244.42,485.04h0.9v0.9h-0.9zM243.84,486.03h0.9v0.9h-0.9zM240.55,489.67h0.9v0.9h-0.9zM244.29,490.4h0.9v0.9h-0.9zM249.92,483.77h0.9v0.9h-0.9zM243.82,486.6h0.9v0.9h-0.9zM240.05,490.6h0.9v0.9h-0.9zM251.44,483.97h0.9v0.9h-0.9zM245.52,485.79h0.9v0.9h-0.9zM245.93,487.42h0.9v0.9h-0.9zM245.91,487.47h0.9v0.9h-0.9zM243.17,489.12h0.9v0.9h-0.9zM245.94,489.43h0.9v0.9h-0.9zM243.77,492.34h0.9v0.9h-0.9zM244.26,486.31h0.9v0.9h-0.9zM245.52,486.93h0.9v0.9h-0.9zM245.27,488.11h0.9v0.9h-0.9zM241.05,485.98h0.9v0.9h-0.9zM247.19,484.75h0.9v0.9h-0.9zM250.55,482.53h0.9v0.9h-0.9zM241.55,494.47h0.9v0.9h-0.9zM244.18,489.62h0.9v0.9h-0.9zM253.18,481.97h0.9v0.9h-0.9zM242.06,489.86h0.9v0.9h-0.9zM241.78,492.47h0.9v0.9h-0.9zM245.28,483.66h0.9v0.9h-0.9zM247.98,486.88h0.9v0.9h-0.9zM246.52,483.47h0.9v0.9h-0.9zM241.61,487.17h0.9v0.9h-0.9zM242.12,491.04h0.9v0.9h-0.9zM247.38,488.62h0.9v0.9h-0.9zM245.55,485.54h0.9v0.9h-0.9zM243.63,493.24h0.9v0.9h-0.9zM245.69,486.29h0.9v0.9h-0.9zM240.85,488.19h0.9v0.9h-0.9zM245.56,483.53h0.9v0.9h-0.9zM247.88,486.04h0.9v0.9h-0.9zM241.72,485.53h0.9v0.9h-0.9zM248.58,487.69h0.9v0.9h-0.9zM241.03,487.35h0.9v0.9h-0.9zM248.55,483.86h0.9v0.9h-0.9zM245.4,490.44h0.9v0.9h-0.9zM245.19,488.28h0.9v0.9h-0.9zM243,486.87h0.9v0.9h-0.9zM244.58,484.91h0.9v0.9h-0.9zM239.47,491.18h0.9v0.9h-0.9zM250.42,484.84h0.9v0.9h-0.9zM252.89,481.96h0.9v0.9h-0.9zM250.19,482.49h0.9v0.9h-0.9zM244.77,488.77h0.9v0.9h-0.9zM243.73,490.66h0.9v0.9h-0.9zM244.41,488.5h0.9v0.9h-0.9zM242.68,489.09h0.9v0.9h-0.9zM247.7,483.65h0.9v0.9h-0.9zM243.82,489.19h0.9v0.9h-0.9zM247.46,483.98h0.9v0.9h-0.9zM239.62,487.92h0.9v0.9h-0.9zM243.14,492.27h0.9v0.9h-0.9zM245.76,487.78h0.9v0.9h-0.9zM248.72,484.11h0.9v0.9h-0.9zM245.86,484.67h0.9v0.9h-0.9zM241.72,492.42h0.9v0.9h-0.9zM245.88,487.94h0.9v0.9h-0.9zM242.07,489.7h0.9v0.9h-0.9zM249.65,479.73h0.9v0.9h-0.9zM247.54,488.46h0.9v0.9h-0.9zM244.82,487.67h0.9v0.9h-0.9zM240.48,494.14h0.9v0.9h-0.9zM246,489.99h0.9v0.9h-0.9zM244.46,486.53h0.9v0.9h-0.9zM246.13,485.2h0.9v0.9h-0.9zM246.18,490.58h0.9v0.9h-0.9zM248.2,484.13h0.9v0.9h-0.9zM248.8,485.68h0.9v0.9h-0.9zM246.98,485.2h0.9v0.9h-0.9zM246.1,487.21h0.9v0.9h-0.9zM247.4,485.7h0.9v0.9h-0.9zM243.62,488.31h0.9v0.9h-0.9zM245.07,484.05h0.9v0.9h-0.9zM246.4,487.95h0.9v0.9h-0.9zM245.32,485.91h0.9v0.9h-0.9zM244.49,486.18h0.9v0.9h-0.9zM247.46,483.42h0.9v0.9h-0.9z" fill="#6f97d8" opacity="0.7"/>
<g transform="translate(240.7,485) rotate(-43)" filter="url(#soft)">
<ellipse rx="9.04" ry="3.39" fill="#6b93d7"/>
<ellipse rx="7.81" ry="2.93" fill="#4f9dd3"/>
<ellipse rx="6.76" ry="2.53" fill="#56b89c"/>
<ellipse rx="5.71" ry="2.14" fill="#a0ce4e"/>
<ellipse rx="4.28" ry="1.61" fill="#d9d640"/>
<ellipse rx="2.67" ry="1" fill="#efb036"/>
<ellipse rx="1.14" ry="0.46" fill="#e4662c"/>
</g>
<ellipse cx="248.3" cy="488" rx="9.8" ry="5.2" transform="rotate(-46 248.3 488)" fill="none" stroke="#505050" stroke-width="0.9"/>
<text x="245.5" y="507.8" font-size="6.9" textLength="16.6" lengthAdjust="spacingAndGlyphs">8.89%</text>
<path d="M198.7,471.1 h-2.0 M198.7,487.7 h-2.0 M198.7,508.1 h-2.0 M198.7,517.5 h-2.0 M198.7,528.7 h-2.0 M198.7,473.87 h-1.0 M198.7,476.63 h-1.0 M198.7,479.4 h-1.0 M198.7,482.17 h-1.0 M198.7,484.93 h-1.0 M198.7,491.1 h-1.0 M198.7,494.5 h-1.0 M198.7,497.9 h-1.0 M198.7,501.3 h-1.0 M198.7,504.7 h-1.0 " stroke="#444" stroke-width="0.75"/>
<text x="184.89" y="472.7" font-size="6.2" textLength="7.01" lengthAdjust="spacingAndGlyphs">10</text>
<text x="192.1" y="469.9" font-size="4">4</text>
<text x="184.89" y="489.3" font-size="6.2" textLength="7.01" lengthAdjust="spacingAndGlyphs">10</text>
<text x="192.1" y="486.5" font-size="4">3</text>
<text x="184.89" y="509.7" font-size="6.2" textLength="7.01" lengthAdjust="spacingAndGlyphs">10</text>
<text x="192.1" y="506.9" font-size="4">2</text>
<text x="194.1" y="519.4" font-size="6.4" text-anchor="end">0</text>
<text x="182.8" y="530.3" font-size="6.2" textLength="9.1" lengthAdjust="spacingAndGlyphs">-10</text>
<text x="192.1" y="527.5" font-size="4">2</text>
<rect x="197.5" y="516.3" width="1.4" height="2.4" fill="#111"/>
<path d="M203.1,535.1 v1.8 M223.7,535.1 v1.8 M242.7,535.1 v1.8 M262.9,535.1 v1.8 M200.7,535.1 v1.0 M205.8,535.1 v1.0 M210.9,535.1 v1.0 M216,535.1 v1.0 M221.1,535.1 v1.0 M226.2,535.1 v1.0 M231.3,535.1 v1.0 M236.4,535.1 v1.0 M241.5,535.1 v1.0 M246.6,535.1 v1.0 M251.7,535.1 v1.0 M256.8,535.1 v1.0 M261.9,535.1 v1.0 M267,535.1 v1.0 " stroke="#444" stroke-width="0.75"/>
<rect x="221.7" y="534.3" width="3.2" height="1.4" fill="#111"/>
<text x="197.65" y="544.7" font-size="6.6" textLength="9.1" lengthAdjust="spacingAndGlyphs">-10</text>
<text x="206.95" y="541.7" font-size="4.2">3</text>
<text x="223.7" y="544.7" font-size="6.6" text-anchor="middle">0</text>
<text x="238.3" y="544.7" font-size="6.6" textLength="7.01" lengthAdjust="spacingAndGlyphs">10</text>
<text x="245.5" y="541.7" font-size="4.2">3</text>
<text x="258.5" y="544.7" font-size="6.6" textLength="7.01" lengthAdjust="spacingAndGlyphs">10</text>
<text x="265.7" y="541.7" font-size="4.2">4</text>
<text x="217" y="556.7" font-size="8.4" textLength="35.3" lengthAdjust="spacingAndGlyphs">BAK G317-2</text>
<rect x="315.6" y="464.1" width="71.8" height="72.4" fill="#fff" stroke="#cfcfcf" stroke-width="0.8"/>
<path d="M320.16,476.41h0.6v0.6h-0.6zM347.11,490.05h0.6v0.6h-0.6zM336.53,475.42h0.6v0.6h-0.6zM340.95,479.97h0.6v0.6h-0.6zM334,488.03h0.6v0.6h-0.6zM332.49,491.03h0.6v0.6h-0.6zM332.87,483.58h0.6v0.6h-0.6zM339.88,502.07h0.6v0.6h-0.6zM364.61,497.1h0.6v0.6h-0.6zM332.91,488.09h0.6v0.6h-0.6zM355.53,495.78h0.6v0.6h-0.6zM320.68,487.51h0.6v0.6h-0.6zM332.87,495.24h0.6v0.6h-0.6zM351.74,482.9h0.6v0.6h-0.6zM372.36,485.39h0.6v0.6h-0.6zM376.48,486.43h0.6v0.6h-0.6zM341.84,506.23h0.6v0.6h-0.6zM335.79,483.53h0.6v0.6h-0.6zM363.22,487.67h0.6v0.6h-0.6zM349.55,476.01h0.6v0.6h-0.6zM367.52,497.46h0.6v0.6h-0.6zM347.89,494.81h0.6v0.6h-0.6zM336.15,483.52h0.6v0.6h-0.6zM321.47,491.59h0.6v0.6h-0.6zM359.95,496.24h0.6v0.6h-0.6zM355.6,494.84h0.6v0.6h-0.6zM330.39,475.59h0.6v0.6h-0.6zM351.79,489.64h0.6v0.6h-0.6zM356.51,485.43h0.6v0.6h-0.6zM330.92,492.31h0.6v0.6h-0.6zM335.37,472.41h0.6v0.6h-0.6zM334.67,479.68h0.6v0.6h-0.6zM327.73,482.81h0.6v0.6h-0.6zM356.01,510.5h0.6v0.6h-0.6zM366.68,484.1h0.6v0.6h-0.6zM358.66,487.38h0.6v0.6h-0.6zM348.52,481.61h0.6v0.6h-0.6zM341.99,472.07h0.6v0.6h-0.6zM367.56,480.77h0.6v0.6h-0.6zM351.02,482.47h0.6v0.6h-0.6zM370.99,490.19h0.6v0.6h-0.6zM338.79,484.77h0.6v0.6h-0.6zM371.76,508.81h0.6v0.6h-0.6zM374.87,500.03h0.6v0.6h-0.6zM329.15,473.99h0.6v0.6h-0.6zM356.11,476.85h0.6v0.6h-0.6zM340.42,471.29h0.6v0.6h-0.6zM328.09,502.44h0.6v0.6h-0.6zM332.76,509.07h0.6v0.6h-0.6zM339.91,509.12h0.6v0.6h-0.6zM338.12,479.66h0.6v0.6h-0.6zM344.37,466.71h0.6v0.6h-0.6zM347.13,485.35h0.6v0.6h-0.6zM318.46,509.76h0.6v0.6h-0.6zM343.04,466.12h0.6v0.6h-0.6zM382.71,477.68h0.6v0.6h-0.6zM334.75,467.33h0.6v0.6h-0.6zM324.35,502.07h0.6v0.6h-0.6z" fill="#b7c6e2"/>
<path d="M335.6,487.22h0.9v0.9h-0.9zM344.17,491.5h0.9v0.9h-0.9zM348.89,485.35h0.9v0.9h-0.9zM356.28,483.43h0.9v0.9h-0.9zM353.63,491.42h0.9v0.9h-0.9zM353.35,485.93h0.9v0.9h-0.9zM344.82,480.5h0.9v0.9h-0.9zM331.03,488.63h0.9v0.9h-0.9zM348.85,491.15h0.9v0.9h-0.9zM343.63,492.53h0.9v0.9h-0.9zM348.52,493.34h0.9v0.9h-0.9zM331.96,487.37h0.9v0.9h-0.9zM335.71,485.31h0.9v0.9h-0.9zM352.33,481.09h0.9v0.9h-0.9zM337.3,487.8h0.9v0.9h-0.9zM348.06,484.43h0.9v0.9h-0.9zM348.34,488.95h0.9v0.9h-0.9zM336.12,479.19h0.9v0.9h-0.9zM335.71,484.39h0.9v0.9h-0.9zM352.5,481.98h0.9v0.9h-0.9zM336.7,491.5h0.9v0.9h-0.9zM342.23,483.94h0.9v0.9h-0.9zM351.05,489.83h0.9v0.9h-0.9zM343.87,484.27h0.9v0.9h-0.9zM335.02,480.93h0.9v0.9h-0.9zM345.92,488.92h0.9v0.9h-0.9zM337.23,489.75h0.9v0.9h-0.9zM362.41,477.27h0.9v0.9h-0.9zM332.95,493.63h0.9v0.9h-0.9zM339.72,486.66h0.9v0.9h-0.9zM346.8,486.29h0.9v0.9h-0.9zM349.94,488.33h0.9v0.9h-0.9zM350.51,486.36h0.9v0.9h-0.9zM331,497.59h0.9v0.9h-0.9zM333.51,495.44h0.9v0.9h-0.9zM342.94,481.66h0.9v0.9h-0.9zM344.5,491.55h0.9v0.9h-0.9zM336.6,489.99h0.9v0.9h-0.9zM337.13,485.08h0.9v0.9h-0.9zM340.65,494.45h0.9v0.9h-0.9zM347.33,486.59h0.9v0.9h-0.9zM342.65,488.64h0.9v0.9h-0.9zM345.05,488.21h0.9v0.9h-0.9zM333.25,494.95h0.9v0.9h-0.9zM334.45,478.55h0.9v0.9h-0.9zM346.02,481.6h0.9v0.9h-0.9zM342,487.82h0.9v0.9h-0.9zM339.92,491.28h0.9v0.9h-0.9zM340.95,487.27h0.9v0.9h-0.9zM336.63,488.51h0.9v0.9h-0.9zM336.5,490.01h0.9v0.9h-0.9zM352.62,489.8h0.9v0.9h-0.9zM344.08,481.44h0.9v0.9h-0.9zM350.67,490.01h0.9v0.9h-0.9zM353.37,474.72h0.9v0.9h-0.9zM342.72,486.52h0.9v0.9h-0.9zM348.6,481.39h0.9v0.9h-0.9zM343.4,498.41h0.9v0.9h-0.9zM346.92,477.74h0.9v0.9h-0.9zM344.8,493.67h0.9v0.9h-0.9zM339.81,491.58h0.9v0.9h-0.9zM341.88,481.6h0.9v0.9h-0.9zM340.41,493.87h0.9v0.9h-0.9zM349.81,483.25h0.9v0.9h-0.9zM349.3,482.89h0.9v0.9h-0.9zM344.55,487.4h0.9v0.9h-0.9zM335.47,491.57h0.9v0.9h-0.9zM337.22,477.07h0.9v0.9h-0.9zM336.72,485.88h0.9v0.9h-0.9zM336.53,485.33h0.9v0.9h-0.9zM335.67,478.85h0.9v0.9h-0.9zM348.75,486.62h0.9v0.9h-0.9zM344.3,486.35h0.9v0.9h-0.9zM343.1,486.71h0.9v0.9h-0.9zM334.25,483.51h0.9v0.9h-0.9zM344.71,492.09h0.9v0.9h-0.9zM346.45,494.32h0.9v0.9h-0.9zM334.02,489.3h0.9v0.9h-0.9zM340.58,494.26h0.9v0.9h-0.9zM353.15,482.64h0.9v0.9h-0.9zM347.36,485.57h0.9v0.9h-0.9zM336.53,489.28h0.9v0.9h-0.9zM338.27,496.37h0.9v0.9h-0.9zM348.2,491.87h0.9v0.9h-0.9zM342.34,476.99h0.9v0.9h-0.9zM348.22,486.85h0.9v0.9h-0.9zM327.98,492.7h0.9v0.9h-0.9zM351.51,493.32h0.9v0.9h-0.9zM337.46,493.12h0.9v0.9h-0.9zM344.91,486.59h0.9v0.9h-0.9zM341.85,490.68h0.9v0.9h-0.9zM347.47,489.66h0.9v0.9h-0.9zM338.81,483.08h0.9v0.9h-0.9zM352.96,491.02h0.9v0.9h-0.9zM339.38,488.82h0.9v0.9h-0.9zM346,479.01h0.9v0.9h-0.9zM349.12,497.26h0.9v0.9h-0.9zM343.87,484.44h0.9v0.9h-0.9zM356,484.23h0.9v0.9h-0.9zM343.84,485.73h0.9v0.9h-0.9zM341.97,479.98h0.9v0.9h-0.9zM333.06,484h0.9v0.9h-0.9zM348.62,485.88h0.9v0.9h-0.9zM347.85,477.18h0.9v0.9h-0.9zM340.97,495.18h0.9v0.9h-0.9zM335.71,481.45h0.9v0.9h-0.9zM337.85,487.81h0.9v0.9h-0.9zM344.51,493.47h0.9v0.9h-0.9zM353.33,492.07h0.9v0.9h-0.9zM346.09,484.73h0.9v0.9h-0.9zM338.06,482.54h0.9v0.9h-0.9zM352.61,490.91h0.9v0.9h-0.9zM342.49,483.97h0.9v0.9h-0.9zM347.89,488.76h0.9v0.9h-0.9zM342.57,482.7h0.9v0.9h-0.9zM343.83,485.07h0.9v0.9h-0.9zM348.42,489.1h0.9v0.9h-0.9zM345.28,485.29h0.9v0.9h-0.9zM353.62,488.42h0.9v0.9h-0.9zM352.08,489.16h0.9v0.9h-0.9zM347.69,488.36h0.9v0.9h-0.9zM334,482.13h0.9v0.9h-0.9zM337.81,492.22h0.9v0.9h-0.9zM349.01,487.03h0.9v0.9h-0.9zM345.81,495.54h0.9v0.9h-0.9zM338.31,481.06h0.9v0.9h-0.9zM332.79,489.36h0.9v0.9h-0.9zM348.34,489.76h0.9v0.9h-0.9zM342.59,491.78h0.9v0.9h-0.9zM341.82,484.92h0.9v0.9h-0.9zM341.52,491.8h0.9v0.9h-0.9zM347.68,481.4h0.9v0.9h-0.9zM336.88,490.22h0.9v0.9h-0.9zM355.06,479.08h0.9v0.9h-0.9zM335.57,491.96h0.9v0.9h-0.9zM345.49,484.38h0.9v0.9h-0.9zM343.43,490.01h0.9v0.9h-0.9zM331.92,490.97h0.9v0.9h-0.9zM347.93,490.73h0.9v0.9h-0.9zM350.3,485.48h0.9v0.9h-0.9zM335.5,496.22h0.9v0.9h-0.9zM347.11,483.8h0.9v0.9h-0.9zM350.82,490.43h0.9v0.9h-0.9zM339.25,478.13h0.9v0.9h-0.9zM339.11,485.54h0.9v0.9h-0.9zM337.6,489.08h0.9v0.9h-0.9zM336.63,491.52h0.9v0.9h-0.9zM353.52,479.42h0.9v0.9h-0.9zM348.94,483.75h0.9v0.9h-0.9zM346.29,486.37h0.9v0.9h-0.9zM350.26,482.56h0.9v0.9h-0.9zM346.7,483.28h0.9v0.9h-0.9zM344.44,487.43h0.9v0.9h-0.9zM347.97,479.23h0.9v0.9h-0.9zM336.16,496.26h0.9v0.9h-0.9zM347.51,494.41h0.9v0.9h-0.9zM336.74,490.67h0.9v0.9h-0.9zM348.97,494.31h0.9v0.9h-0.9zM342.12,486.1h0.9v0.9h-0.9zM347.4,486.17h0.9v0.9h-0.9zM339.19,492.49h0.9v0.9h-0.9zM329.72,487.05h0.9v0.9h-0.9zM351,483.31h0.9v0.9h-0.9zM341.41,490.07h0.9v0.9h-0.9zM350.74,488.11h0.9v0.9h-0.9zM336.22,487.24h0.9v0.9h-0.9zM349.49,485.49h0.9v0.9h-0.9zM340.08,492.75h0.9v0.9h-0.9zM352.86,495.07h0.9v0.9h-0.9zM335.34,486.85h0.9v0.9h-0.9zM339.06,490.67h0.9v0.9h-0.9zM341.35,493.5h0.9v0.9h-0.9zM327.2,496.85h0.9v0.9h-0.9zM338.61,487.9h0.9v0.9h-0.9zM346.84,487.73h0.9v0.9h-0.9zM338.44,496.11h0.9v0.9h-0.9zM346.04,484.77h0.9v0.9h-0.9zM342.97,482.83h0.9v0.9h-0.9zM334.88,488.85h0.9v0.9h-0.9zM345.43,487.67h0.9v0.9h-0.9zM336.42,483.42h0.9v0.9h-0.9zM334.36,497.72h0.9v0.9h-0.9zM344.36,483.83h0.9v0.9h-0.9zM351.14,488.05h0.9v0.9h-0.9zM339.65,486.04h0.9v0.9h-0.9zM350.58,487.23h0.9v0.9h-0.9zM353.75,486.49h0.9v0.9h-0.9zM338.59,486.41h0.9v0.9h-0.9zM338.88,490.25h0.9v0.9h-0.9zM345.34,490.02h0.9v0.9h-0.9zM344.57,482.62h0.9v0.9h-0.9zM340.57,484.27h0.9v0.9h-0.9zM344.44,481.44h0.9v0.9h-0.9zM338.3,485.31h0.9v0.9h-0.9zM338.8,487.92h0.9v0.9h-0.9zM352.21,484.09h0.9v0.9h-0.9zM333.61,489.21h0.9v0.9h-0.9zM348.39,488.9h0.9v0.9h-0.9zM346.93,495.93h0.9v0.9h-0.9zM350.09,486.29h0.9v0.9h-0.9zM349.02,480.02h0.9v0.9h-0.9zM340.88,484.52h0.9v0.9h-0.9zM346.09,494.45h0.9v0.9h-0.9zM341.83,495.56h0.9v0.9h-0.9zM338.32,495.8h0.9v0.9h-0.9zM331.32,487.35h0.9v0.9h-0.9zM349.16,485.71h0.9v0.9h-0.9zM343.9,487.59h0.9v0.9h-0.9zM343.92,486.81h0.9v0.9h-0.9zM336.5,488.43h0.9v0.9h-0.9zM342.6,483.88h0.9v0.9h-0.9zM348.08,494.55h0.9v0.9h-0.9zM332.03,488.54h0.9v0.9h-0.9zM341.26,488.49h0.9v0.9h-0.9zM342.72,484.65h0.9v0.9h-0.9zM342.8,487.99h0.9v0.9h-0.9zM344.34,494.6h0.9v0.9h-0.9zM342.02,481.39h0.9v0.9h-0.9zM333.89,493.23h0.9v0.9h-0.9zM340.11,485.89h0.9v0.9h-0.9zM334.12,489.03h0.9v0.9h-0.9zM341.59,485.15h0.9v0.9h-0.9zM341.88,492.3h0.9v0.9h-0.9zM348.59,488.81h0.9v0.9h-0.9zM340.26,482.44h0.9v0.9h-0.9zM349.7,492.86h0.9v0.9h-0.9zM352.42,490.55h0.9v0.9h-0.9zM345.2,489h0.9v0.9h-0.9zM344.44,493.25h0.9v0.9h-0.9zM343.93,497.51h0.9v0.9h-0.9zM347.49,485.13h0.9v0.9h-0.9zM341.03,481.07h0.9v0.9h-0.9zM338.04,487.94h0.9v0.9h-0.9zM357.38,480.04h0.9v0.9h-0.9zM348.86,486.57h0.9v0.9h-0.9zM341.91,491.09h0.9v0.9h-0.9zM331.65,495.5h0.9v0.9h-0.9zM355.5,485.68h0.9v0.9h-0.9zM342.81,488.69h0.9v0.9h-0.9zM346.56,484.63h0.9v0.9h-0.9zM344.37,489.83h0.9v0.9h-0.9zM341.29,490.18h0.9v0.9h-0.9zM345.97,490.34h0.9v0.9h-0.9zM336.16,487.4h0.9v0.9h-0.9zM341.79,493.76h0.9v0.9h-0.9zM342.55,480.42h0.9v0.9h-0.9zM337.36,498.44h0.9v0.9h-0.9zM343.55,481.79h0.9v0.9h-0.9zM337.47,490.14h0.9v0.9h-0.9zM353.92,492.22h0.9v0.9h-0.9zM340.35,487.29h0.9v0.9h-0.9zM353.84,480.27h0.9v0.9h-0.9zM353.22,486.53h0.9v0.9h-0.9zM345.16,493.2h0.9v0.9h-0.9zM345.01,483.48h0.9v0.9h-0.9zM333.46,490.71h0.9v0.9h-0.9zM347.88,492.79h0.9v0.9h-0.9zM328.25,498.3h0.9v0.9h-0.9zM348.73,493.24h0.9v0.9h-0.9zM348.26,487.37h0.9v0.9h-0.9zM346.2,488.82h0.9v0.9h-0.9zM338.92,488.54h0.9v0.9h-0.9zM343.26,485.75h0.9v0.9h-0.9zM332.05,484.39h0.9v0.9h-0.9zM346.8,489.21h0.9v0.9h-0.9zM342.26,482.73h0.9v0.9h-0.9zM347.86,484.7h0.9v0.9h-0.9zM331.9,498.29h0.9v0.9h-0.9zM336.39,500.17h0.9v0.9h-0.9zM345.81,485.07h0.9v0.9h-0.9zM327.4,489.14h0.9v0.9h-0.9zM353.95,491.02h0.9v0.9h-0.9zM342.54,480.15h0.9v0.9h-0.9zM340.26,487.38h0.9v0.9h-0.9zM345.75,486.54h0.9v0.9h-0.9zM343.18,480.34h0.9v0.9h-0.9zM340.73,495.19h0.9v0.9h-0.9zM335.02,494.45h0.9v0.9h-0.9zM358.28,486.52h0.9v0.9h-0.9zM335.81,495.7h0.9v0.9h-0.9zM331.78,492.67h0.9v0.9h-0.9zM341.95,493.91h0.9v0.9h-0.9zM350.63,486.59h0.9v0.9h-0.9zM355.44,488.86h0.9v0.9h-0.9zM338.8,484.58h0.9v0.9h-0.9zM357.95,481.75h0.9v0.9h-0.9zM345.44,486.67h0.9v0.9h-0.9zM338.07,481.9h0.9v0.9h-0.9zM341.95,487.67h0.9v0.9h-0.9zM348.53,483.94h0.9v0.9h-0.9zM331.88,486.14h0.9v0.9h-0.9zM343.06,489.04h0.9v0.9h-0.9zM347.08,484.97h0.9v0.9h-0.9zM346.56,487.54h0.9v0.9h-0.9zM353.53,484.63h0.9v0.9h-0.9zM344.6,490.05h0.9v0.9h-0.9zM349.52,481.78h0.9v0.9h-0.9zM339.69,487.58h0.9v0.9h-0.9zM331.22,497.29h0.9v0.9h-0.9zM349.76,486.06h0.9v0.9h-0.9zM365.67,487.27h0.9v0.9h-0.9zM357.61,490.96h0.9v0.9h-0.9zM346.95,480.23h0.9v0.9h-0.9zM353.13,486.94h0.9v0.9h-0.9zM335.56,490.28h0.9v0.9h-0.9zM348.94,490.74h0.9v0.9h-0.9zM343.46,485.36h0.9v0.9h-0.9zM346.87,483.28h0.9v0.9h-0.9zM343.45,491.3h0.9v0.9h-0.9zM334.43,492.09h0.9v0.9h-0.9zM329.58,487.47h0.9v0.9h-0.9zM335.17,489.73h0.9v0.9h-0.9zM347.42,486.4h0.9v0.9h-0.9zM348.85,486.67h0.9v0.9h-0.9zM342.32,490.37h0.9v0.9h-0.9zM341.67,488.91h0.9v0.9h-0.9zM348.84,483.59h0.9v0.9h-0.9zM348.87,481.1h0.9v0.9h-0.9zM339.5,480.89h0.9v0.9h-0.9zM341.62,495.64h0.9v0.9h-0.9zM346.8,492.68h0.9v0.9h-0.9zM332.54,486.23h0.9v0.9h-0.9zM346.95,490.6h0.9v0.9h-0.9zM346.2,479.25h0.9v0.9h-0.9zM346.12,486.67h0.9v0.9h-0.9zM344.34,489.72h0.9v0.9h-0.9zM339.17,481.18h0.9v0.9h-0.9zM334.52,483.65h0.9v0.9h-0.9zM334.57,489.7h0.9v0.9h-0.9zM350.34,482.5h0.9v0.9h-0.9zM336.8,484.37h0.9v0.9h-0.9zM332.23,491.3h0.9v0.9h-0.9zM339.66,487.75h0.9v0.9h-0.9zM337.56,491.71h0.9v0.9h-0.9zM336.12,492.41h0.9v0.9h-0.9zM339.81,492.46h0.9v0.9h-0.9zM337.96,491.39h0.9v0.9h-0.9zM345.67,486.77h0.9v0.9h-0.9zM353.49,485.71h0.9v0.9h-0.9zM338.27,492.46h0.9v0.9h-0.9z" fill="#5a88d2" opacity="0.7"/>
<g transform="translate(355.46,487.25) rotate(-33)" filter="url(#soft)">
<ellipse rx="8.5" ry="3.66" fill="#a2bfea"/>
<ellipse rx="4.96" ry="1.95" fill="#7eaee2"/>
</g>
<path d="M351.4,488.29h0.9v0.9h-0.9zM355.75,487.6h0.9v0.9h-0.9zM360,479.15h0.9v0.9h-0.9zM355.94,490.27h0.9v0.9h-0.9zM355.24,488.34h0.9v0.9h-0.9zM359.98,480.69h0.9v0.9h-0.9zM356.7,488.78h0.9v0.9h-0.9zM350.72,485.16h0.9v0.9h-0.9zM351.68,490.28h0.9v0.9h-0.9zM358.71,490.58h0.9v0.9h-0.9zM358.74,480.55h0.9v0.9h-0.9zM360.89,486.42h0.9v0.9h-0.9zM361.81,482.68h0.9v0.9h-0.9zM353.4,489.02h0.9v0.9h-0.9zM362.56,484.48h0.9v0.9h-0.9zM363.39,484.42h0.9v0.9h-0.9zM351.71,486.7h0.9v0.9h-0.9zM360.91,479.24h0.9v0.9h-0.9zM353.61,487.51h0.9v0.9h-0.9zM351,488.46h0.9v0.9h-0.9zM358.69,492.17h0.9v0.9h-0.9zM354.49,486.34h0.9v0.9h-0.9zM357.23,488.88h0.9v0.9h-0.9zM351.61,488.55h0.9v0.9h-0.9zM349.33,493.3h0.9v0.9h-0.9zM360.24,488.58h0.9v0.9h-0.9zM353.54,494.92h0.9v0.9h-0.9zM358.62,484.39h0.9v0.9h-0.9zM353.45,487.64h0.9v0.9h-0.9zM351.58,492.04h0.9v0.9h-0.9zM352.02,487.35h0.9v0.9h-0.9zM357.7,486.13h0.9v0.9h-0.9zM352.77,488.3h0.9v0.9h-0.9zM355.28,491.34h0.9v0.9h-0.9zM358.54,483.1h0.9v0.9h-0.9zM357.15,490.21h0.9v0.9h-0.9zM356.7,491.71h0.9v0.9h-0.9zM358.16,487.47h0.9v0.9h-0.9zM348.19,494.48h0.9v0.9h-0.9zM357.62,487.57h0.9v0.9h-0.9zM358.12,487.08h0.9v0.9h-0.9zM354.61,490.46h0.9v0.9h-0.9zM354.3,484.9h0.9v0.9h-0.9zM351.55,490.27h0.9v0.9h-0.9zM353.84,481.78h0.9v0.9h-0.9zM348.51,494.87h0.9v0.9h-0.9zM359.26,493.21h0.9v0.9h-0.9zM348.91,490.77h0.9v0.9h-0.9zM353.78,489.99h0.9v0.9h-0.9zM363.35,486.9h0.9v0.9h-0.9zM353.03,492.48h0.9v0.9h-0.9zM350.94,491.1h0.9v0.9h-0.9zM356.99,488.09h0.9v0.9h-0.9zM354.02,492.14h0.9v0.9h-0.9zM355.15,487.39h0.9v0.9h-0.9zM352.93,485.73h0.9v0.9h-0.9zM358.84,486.05h0.9v0.9h-0.9zM359.82,489.93h0.9v0.9h-0.9zM351.56,488.94h0.9v0.9h-0.9zM356.64,489.01h0.9v0.9h-0.9zM356,489.67h0.9v0.9h-0.9zM354.93,482.38h0.9v0.9h-0.9zM349.94,484.82h0.9v0.9h-0.9zM353.73,487.14h0.9v0.9h-0.9zM358.08,486.05h0.9v0.9h-0.9zM356.91,490.05h0.9v0.9h-0.9zM356.2,483.12h0.9v0.9h-0.9zM353.1,489.75h0.9v0.9h-0.9zM362.1,482.35h0.9v0.9h-0.9zM355.12,488.26h0.9v0.9h-0.9zM358.51,485h0.9v0.9h-0.9zM356.08,485.6h0.9v0.9h-0.9zM352.15,487.05h0.9v0.9h-0.9zM357.38,484.36h0.9v0.9h-0.9zM358.24,486.65h0.9v0.9h-0.9zM355.77,479.09h0.9v0.9h-0.9zM349.89,487.25h0.9v0.9h-0.9zM355.88,489.36h0.9v0.9h-0.9zM367.83,483.8h0.9v0.9h-0.9zM361.48,484.47h0.9v0.9h-0.9zM354.61,489.39h0.9v0.9h-0.9zM347.88,494.94h0.9v0.9h-0.9zM356.33,488.52h0.9v0.9h-0.9zM349.79,487.68h0.9v0.9h-0.9zM352.79,488.86h0.9v0.9h-0.9zM356.39,485.59h0.9v0.9h-0.9zM357.8,487.75h0.9v0.9h-0.9zM350.61,490.1h0.9v0.9h-0.9zM348.39,490.21h0.9v0.9h-0.9zM358.16,483.37h0.9v0.9h-0.9zM363.71,483.39h0.9v0.9h-0.9zM359.21,485.12h0.9v0.9h-0.9zM360.45,487.25h0.9v0.9h-0.9zM355.17,485.86h0.9v0.9h-0.9zM355.84,492.73h0.9v0.9h-0.9zM354.09,486.78h0.9v0.9h-0.9zM350.3,485.6h0.9v0.9h-0.9zM353.87,489.25h0.9v0.9h-0.9zM352.45,486.95h0.9v0.9h-0.9zM357.74,487.13h0.9v0.9h-0.9zM354.1,489.05h0.9v0.9h-0.9zM352.67,491.62h0.9v0.9h-0.9zM351,489.15h0.9v0.9h-0.9zM355.44,486.02h0.9v0.9h-0.9zM353.65,494.66h0.9v0.9h-0.9zM359.25,479.61h0.9v0.9h-0.9zM354.23,484.28h0.9v0.9h-0.9zM354.95,483.71h0.9v0.9h-0.9zM358.54,486.83h0.9v0.9h-0.9zM364.03,485.26h0.9v0.9h-0.9zM354.88,490.44h0.9v0.9h-0.9zM353.44,488.23h0.9v0.9h-0.9zM351.03,484.89h0.9v0.9h-0.9zM355.15,481.41h0.9v0.9h-0.9zM355.21,488.97h0.9v0.9h-0.9zM353.78,483.66h0.9v0.9h-0.9zM353.74,490.39h0.9v0.9h-0.9zM362.09,487.69h0.9v0.9h-0.9zM348.71,493h0.9v0.9h-0.9zM354.54,490.12h0.9v0.9h-0.9zM348.41,491.41h0.9v0.9h-0.9zM357.45,484.04h0.9v0.9h-0.9zM352.65,486.16h0.9v0.9h-0.9zM358.18,481.54h0.9v0.9h-0.9zM351.3,488.97h0.9v0.9h-0.9zM357.04,492.51h0.9v0.9h-0.9zM355.44,484.79h0.9v0.9h-0.9zM358.28,486.44h0.9v0.9h-0.9zM356.51,486.37h0.9v0.9h-0.9zM355.74,483.58h0.9v0.9h-0.9zM350,489.53h0.9v0.9h-0.9zM351.92,491.63h0.9v0.9h-0.9zM365.02,484.72h0.9v0.9h-0.9zM357.73,486.78h0.9v0.9h-0.9zM350.91,486.34h0.9v0.9h-0.9zM355.67,482.71h0.9v0.9h-0.9zM356.49,486.16h0.9v0.9h-0.9zM358.57,485.38h0.9v0.9h-0.9zM355.1,485.75h0.9v0.9h-0.9zM348,491.07h0.9v0.9h-0.9zM359.7,487.6h0.9v0.9h-0.9zM359.7,481.54h0.9v0.9h-0.9zM352.61,491.19h0.9v0.9h-0.9zM357.11,493.83h0.9v0.9h-0.9zM354.67,483.24h0.9v0.9h-0.9zM355.34,492h0.9v0.9h-0.9zM348.25,492.38h0.9v0.9h-0.9zM352,494.26h0.9v0.9h-0.9zM352.24,486.28h0.9v0.9h-0.9zM347.55,490.27h0.9v0.9h-0.9zM344.43,493h0.9v0.9h-0.9zM364.45,481.71h0.9v0.9h-0.9zM352.8,485.52h0.9v0.9h-0.9zM356.2,485.36h0.9v0.9h-0.9zM353.9,492.38h0.9v0.9h-0.9zM356.04,484.23h0.9v0.9h-0.9zM361.39,483.24h0.9v0.9h-0.9zM357.7,486.23h0.9v0.9h-0.9zM361.08,485.43h0.9v0.9h-0.9zM355.02,489.67h0.9v0.9h-0.9zM354.05,488.56h0.9v0.9h-0.9zM360.68,480.7h0.9v0.9h-0.9zM350.71,489.14h0.9v0.9h-0.9zM355.2,491.29h0.9v0.9h-0.9zM352.11,496.25h0.9v0.9h-0.9zM361.29,482.13h0.9v0.9h-0.9zM355.72,486.01h0.9v0.9h-0.9zM359.09,486.87h0.9v0.9h-0.9zM359.55,486.87h0.9v0.9h-0.9zM363.08,481.8h0.9v0.9h-0.9zM358.05,485.02h0.9v0.9h-0.9zM355.91,487.61h0.9v0.9h-0.9zM355.72,488.11h0.9v0.9h-0.9zM351.79,489.18h0.9v0.9h-0.9zM351.41,486.4h0.9v0.9h-0.9zM351.91,488.08h0.9v0.9h-0.9zM352.73,484.38h0.9v0.9h-0.9zM352.88,485.57h0.9v0.9h-0.9zM352.39,489.81h0.9v0.9h-0.9zM360.35,484.92h0.9v0.9h-0.9zM352.87,487.62h0.9v0.9h-0.9zM358.69,480.31h0.9v0.9h-0.9zM358.05,481.1h0.9v0.9h-0.9zM352.94,489.02h0.9v0.9h-0.9zM356.82,491.32h0.9v0.9h-0.9zM357.4,485.85h0.9v0.9h-0.9zM359.38,484.81h0.9v0.9h-0.9zM353.71,491.73h0.9v0.9h-0.9zM363.3,485.98h0.9v0.9h-0.9zM353.28,494.35h0.9v0.9h-0.9zM354.81,489.96h0.9v0.9h-0.9zM363.54,489.09h0.9v0.9h-0.9zM347.49,489.38h0.9v0.9h-0.9zM360.93,485.17h0.9v0.9h-0.9zM350.2,481.94h0.9v0.9h-0.9zM357,485.7h0.9v0.9h-0.9zM348.48,499.77h0.9v0.9h-0.9zM344.52,492.69h0.9v0.9h-0.9zM355.75,487.75h0.9v0.9h-0.9zM358.16,484.7h0.9v0.9h-0.9zM351.32,488.87h0.9v0.9h-0.9zM345.37,490.47h0.9v0.9h-0.9zM362.56,480.59h0.9v0.9h-0.9zM357.72,491.45h0.9v0.9h-0.9zM359.91,484.73h0.9v0.9h-0.9zM358.08,484.74h0.9v0.9h-0.9zM353.13,491.75h0.9v0.9h-0.9zM358.19,490.26h0.9v0.9h-0.9zM353.88,487.16h0.9v0.9h-0.9zM356.6,485.94h0.9v0.9h-0.9zM352.97,486.2h0.9v0.9h-0.9zM356.94,487.26h0.9v0.9h-0.9zM362.87,482.36h0.9v0.9h-0.9zM348.94,492.87h0.9v0.9h-0.9zM364.18,480.27h0.9v0.9h-0.9zM351.97,489.02h0.9v0.9h-0.9zM343.35,494.11h0.9v0.9h-0.9zM352.63,484.58h0.9v0.9h-0.9zM356.61,483.89h0.9v0.9h-0.9zM346.94,490.63h0.9v0.9h-0.9zM360.66,489.61h0.9v0.9h-0.9zM360.82,484.35h0.9v0.9h-0.9zM353.02,488.06h0.9v0.9h-0.9zM358.69,483.6h0.9v0.9h-0.9zM358.47,488.18h0.9v0.9h-0.9zM350.96,488.42h0.9v0.9h-0.9zM357.3,486.08h0.9v0.9h-0.9zM354.23,486.47h0.9v0.9h-0.9zM357.73,491.32h0.9v0.9h-0.9zM358.79,480.26h0.9v0.9h-0.9zM355.78,487.32h0.9v0.9h-0.9zM353.72,484.25h0.9v0.9h-0.9zM355.13,487.91h0.9v0.9h-0.9zM353.11,489.72h0.9v0.9h-0.9zM343.46,490.54h0.9v0.9h-0.9zM356.4,487.8h0.9v0.9h-0.9zM354.15,486.73h0.9v0.9h-0.9zM357.69,489.04h0.9v0.9h-0.9zM359.01,484.7h0.9v0.9h-0.9zM355.01,490.72h0.9v0.9h-0.9zM358.87,487.68h0.9v0.9h-0.9zM353.15,486.18h0.9v0.9h-0.9zM355.36,485.44h0.9v0.9h-0.9zM361.31,486h0.9v0.9h-0.9zM347.47,494.43h0.9v0.9h-0.9zM362.31,485.91h0.9v0.9h-0.9zM352.35,486.7h0.9v0.9h-0.9zM360.8,486.81h0.9v0.9h-0.9zM354.12,484.67h0.9v0.9h-0.9zM349.59,491.86h0.9v0.9h-0.9zM351.16,488.01h0.9v0.9h-0.9zM358.7,488.28h0.9v0.9h-0.9zM346.12,491.31h0.9v0.9h-0.9zM360.7,483.72h0.9v0.9h-0.9zM354.93,489.5h0.9v0.9h-0.9zM349.14,487.7h0.9v0.9h-0.9zM357.68,490.48h0.9v0.9h-0.9zM359.59,484.55h0.9v0.9h-0.9zM359.02,483.71h0.9v0.9h-0.9zM348.36,486.85h0.9v0.9h-0.9z" fill="#4d7fcf" opacity="0.7"/>
<g transform="translate(343,487.9) rotate(-16)" filter="url(#soft)">
<ellipse rx="9.69" ry="5.81" fill="#6b93d7"/>
<ellipse rx="8.36" ry="5.02" fill="#4f9dd3"/>
<ellipse rx="7.24" ry="4.35" fill="#56b89c"/>
<ellipse rx="6.12" ry="3.67" fill="#a0ce4e"/>
<ellipse rx="4.59" ry="2.75" fill="#d9d640"/>
<ellipse rx="2.86" ry="1.71" fill="#efb036"/>
<ellipse rx="1.22" ry="0.8" fill="#e4662c"/>
</g>
<ellipse cx="360.3" cy="487" rx="11.8" ry="6.1" transform="rotate(-33 360.3 487)" fill="none" stroke="#505050" stroke-width="0.9"/>
<text x="361.7" y="507.6" font-size="6.9" textLength="16.6" lengthAdjust="spacingAndGlyphs">16.7%</text>
<path d="M315.6,472.5 h-2.0 M315.6,489.1 h-2.0 M315.6,509.5 h-2.0 M315.6,518.9 h-2.0 M315.6,530.1 h-2.0 M315.6,475.27 h-1.0 M315.6,478.03 h-1.0 M315.6,480.8 h-1.0 M315.6,483.57 h-1.0 M315.6,486.33 h-1.0 M315.6,492.5 h-1.0 M315.6,495.9 h-1.0 M315.6,499.3 h-1.0 M315.6,502.7 h-1.0 M315.6,506.1 h-1.0 " stroke="#444" stroke-width="0.75"/>
<text x="301.79" y="474.1" font-size="6.2" textLength="7.01" lengthAdjust="spacingAndGlyphs">10</text>
<text x="309" y="471.3" font-size="4">4</text>
<text x="301.79" y="490.7" font-size="6.2" textLength="7.01" lengthAdjust="spacingAndGlyphs">10</text>
<text x="309" y="487.9" font-size="4">3</text>
<text x="301.79" y="511.1" font-size="6.2" textLength="7.01" lengthAdjust="spacingAndGlyphs">10</text>
<text x="309" y="508.3" font-size="4">2</text>
<text x="311" y="520.8" font-size="6.4" text-anchor="end">0</text>
<text x="299.7" y="531.7" font-size="6.2" textLength="9.1" lengthAdjust="spacingAndGlyphs">-10</text>
<text x="309" y="528.9" font-size="4">2</text>
<rect x="314.4" y="517.7" width="1.4" height="2.4" fill="#111"/>
<path d="M336,536.5 v1.8 M362.6,536.5 v1.8 M381.3,536.5 v1.8 M317.6,536.5 v1.0 M322.7,536.5 v1.0 M327.8,536.5 v1.0 M332.9,536.5 v1.0 M338,536.5 v1.0 M343.1,536.5 v1.0 M348.2,536.5 v1.0 M353.3,536.5 v1.0 M358.4,536.5 v1.0 M363.5,536.5 v1.0 M368.6,536.5 v1.0 M373.7,536.5 v1.0 M378.8,536.5 v1.0 M383.9,536.5 v1.0 " stroke="#444" stroke-width="0.75"/>
<rect x="334" y="535.7" width="3.2" height="1.4" fill="#111"/>
<text x="336" y="546.1" font-size="6.6" text-anchor="middle">0</text>
<text x="358.2" y="546.1" font-size="6.6" textLength="7.01" lengthAdjust="spacingAndGlyphs">10</text>
<text x="365.4" y="543.1" font-size="4.2">3</text>
<text x="376.9" y="546.1" font-size="6.6" textLength="7.01" lengthAdjust="spacingAndGlyphs">10</text>
<text x="384.1" y="543.1" font-size="4.2">4</text>
<text x="340.8" y="558.1" font-size="8.4" textLength="24.9" lengthAdjust="spacingAndGlyphs">BAX 1E5</text>
<text transform="translate(296.2,520.7) rotate(-90)" font-size="8.8" textLength="39.5" lengthAdjust="spacingAndGlyphs" fill="#1a1a1a">Cytochrome c</text>
<rect x="423.4" y="464.1" width="71.8" height="72.4" fill="#fff" stroke="#cfcfcf" stroke-width="0.8"/>
<path d="M454.02,494.62h0.6v0.6h-0.6zM455.42,485.43h0.6v0.6h-0.6zM444.79,496.48h0.6v0.6h-0.6zM449.66,471.7h0.6v0.6h-0.6zM469.14,479.45h0.6v0.6h-0.6zM455.69,485.84h0.6v0.6h-0.6zM464.79,488.22h0.6v0.6h-0.6zM467.16,487.87h0.6v0.6h-0.6zM443.97,480.83h0.6v0.6h-0.6zM459.25,477.68h0.6v0.6h-0.6zM463.06,483.46h0.6v0.6h-0.6zM437.55,477.25h0.6v0.6h-0.6zM448.31,503.14h0.6v0.6h-0.6zM460.91,485.99h0.6v0.6h-0.6zM437.85,504.47h0.6v0.6h-0.6zM446.48,485.79h0.6v0.6h-0.6zM444.48,498.87h0.6v0.6h-0.6zM452.73,481.32h0.6v0.6h-0.6zM452.85,476.02h0.6v0.6h-0.6zM435.83,484.22h0.6v0.6h-0.6zM477.64,474.91h0.6v0.6h-0.6zM448.36,470.34h0.6v0.6h-0.6zM452.66,487.88h0.6v0.6h-0.6zM460.49,472.74h0.6v0.6h-0.6zM442.04,479.46h0.6v0.6h-0.6zM446.92,508.19h0.6v0.6h-0.6zM447.56,485.4h0.6v0.6h-0.6zM443.32,493.61h0.6v0.6h-0.6zM485.55,497.19h0.6v0.6h-0.6zM471.37,475.28h0.6v0.6h-0.6zM464.85,486.08h0.6v0.6h-0.6zM467.51,496.18h0.6v0.6h-0.6zM459.31,469.37h0.6v0.6h-0.6zM452.14,480.9h0.6v0.6h-0.6zM456.46,486.17h0.6v0.6h-0.6zM464.73,470.08h0.6v0.6h-0.6zM440.11,485.06h0.6v0.6h-0.6zM454.71,481.84h0.6v0.6h-0.6zM449.91,486.35h0.6v0.6h-0.6zM492.04,487.13h0.6v0.6h-0.6zM477.68,506.72h0.6v0.6h-0.6zM464.79,516.12h0.6v0.6h-0.6zM477.91,513.08h0.6v0.6h-0.6zM490.72,470.26h0.6v0.6h-0.6zM476.29,477.57h0.6v0.6h-0.6zM447.41,483.41h0.6v0.6h-0.6zM492.42,469.16h0.6v0.6h-0.6zM454.89,472.59h0.6v0.6h-0.6zM493.03,491.24h0.6v0.6h-0.6zM472.99,492.46h0.6v0.6h-0.6zM477.42,483.16h0.6v0.6h-0.6zM453.43,503.83h0.6v0.6h-0.6zM473.04,511.09h0.6v0.6h-0.6zM446.37,509.09h0.6v0.6h-0.6zM475.38,495.15h0.6v0.6h-0.6zM453.07,494.84h0.6v0.6h-0.6zM430.61,471.02h0.6v0.6h-0.6z" fill="#b7c6e2"/>
<path d="M449.66,488.26h0.9v0.9h-0.9zM460.69,485.12h0.9v0.9h-0.9zM447.51,480.01h0.9v0.9h-0.9zM455.08,491.81h0.9v0.9h-0.9zM452.85,479.15h0.9v0.9h-0.9zM453.1,491.12h0.9v0.9h-0.9zM446.88,489.11h0.9v0.9h-0.9zM460.03,490.72h0.9v0.9h-0.9zM438.01,481.1h0.9v0.9h-0.9zM453.56,488.18h0.9v0.9h-0.9zM448.02,486.35h0.9v0.9h-0.9zM449.2,491.77h0.9v0.9h-0.9zM436.55,490.94h0.9v0.9h-0.9zM441.32,485.18h0.9v0.9h-0.9zM439.42,484.63h0.9v0.9h-0.9zM450.18,485.96h0.9v0.9h-0.9zM461.39,481.58h0.9v0.9h-0.9zM452.94,486.71h0.9v0.9h-0.9zM453.77,491.72h0.9v0.9h-0.9zM451.37,486.2h0.9v0.9h-0.9zM449.59,486.02h0.9v0.9h-0.9zM451.19,490.24h0.9v0.9h-0.9zM450.51,486.06h0.9v0.9h-0.9zM450.94,489.19h0.9v0.9h-0.9zM448.47,490.76h0.9v0.9h-0.9zM447.53,489.87h0.9v0.9h-0.9zM462.81,483.31h0.9v0.9h-0.9zM448.27,480.81h0.9v0.9h-0.9zM455.02,484.51h0.9v0.9h-0.9zM455.27,481.28h0.9v0.9h-0.9zM455.87,492.73h0.9v0.9h-0.9zM452.45,483.64h0.9v0.9h-0.9zM442,488.14h0.9v0.9h-0.9zM455.24,487.21h0.9v0.9h-0.9zM441.9,483.36h0.9v0.9h-0.9zM442.81,483.13h0.9v0.9h-0.9zM448.88,487.46h0.9v0.9h-0.9zM462.8,483.14h0.9v0.9h-0.9zM457.49,475.93h0.9v0.9h-0.9zM461.13,486.47h0.9v0.9h-0.9zM454.14,488.6h0.9v0.9h-0.9zM456.63,493.03h0.9v0.9h-0.9zM453.26,476.73h0.9v0.9h-0.9zM441.18,496.03h0.9v0.9h-0.9zM451.42,491.73h0.9v0.9h-0.9zM447.3,483.56h0.9v0.9h-0.9zM448.51,487.8h0.9v0.9h-0.9zM450.71,482.75h0.9v0.9h-0.9zM454.5,487.51h0.9v0.9h-0.9zM443.05,482.61h0.9v0.9h-0.9zM437.41,488.05h0.9v0.9h-0.9zM449.5,482.74h0.9v0.9h-0.9zM446.29,486.32h0.9v0.9h-0.9zM451.2,488.24h0.9v0.9h-0.9zM456.16,486.19h0.9v0.9h-0.9zM456.22,479.52h0.9v0.9h-0.9zM454.64,486.32h0.9v0.9h-0.9zM442.79,484.75h0.9v0.9h-0.9zM453.22,485.32h0.9v0.9h-0.9zM441.59,485.68h0.9v0.9h-0.9zM461.09,486.7h0.9v0.9h-0.9zM452.51,491.55h0.9v0.9h-0.9zM444.3,486.71h0.9v0.9h-0.9zM456,482.58h0.9v0.9h-0.9zM443.9,490.41h0.9v0.9h-0.9zM457.34,471.77h0.9v0.9h-0.9zM449.72,480.05h0.9v0.9h-0.9zM446.62,480.17h0.9v0.9h-0.9zM466.05,478.06h0.9v0.9h-0.9zM449.7,482.63h0.9v0.9h-0.9zM443.41,485.62h0.9v0.9h-0.9zM453.82,493.09h0.9v0.9h-0.9zM454.1,492.13h0.9v0.9h-0.9zM443.59,488.06h0.9v0.9h-0.9zM445.54,479.75h0.9v0.9h-0.9zM473.79,477.92h0.9v0.9h-0.9zM450.92,482.05h0.9v0.9h-0.9zM445.33,482.33h0.9v0.9h-0.9zM456.34,482.16h0.9v0.9h-0.9zM449.6,486.86h0.9v0.9h-0.9zM442.77,489.06h0.9v0.9h-0.9zM449.77,488.06h0.9v0.9h-0.9zM447.89,486.68h0.9v0.9h-0.9zM454.82,489.08h0.9v0.9h-0.9zM447.12,491.32h0.9v0.9h-0.9zM443.77,486.78h0.9v0.9h-0.9zM451.31,486.2h0.9v0.9h-0.9zM433.13,486.09h0.9v0.9h-0.9zM450.28,490.18h0.9v0.9h-0.9zM447.7,493.7h0.9v0.9h-0.9zM438.89,489.44h0.9v0.9h-0.9zM453.77,484.89h0.9v0.9h-0.9zM453.16,489.41h0.9v0.9h-0.9zM445.9,489.86h0.9v0.9h-0.9zM456.79,482.83h0.9v0.9h-0.9zM434.03,484.83h0.9v0.9h-0.9zM443.52,482.73h0.9v0.9h-0.9zM452.04,481.49h0.9v0.9h-0.9zM466.85,483.76h0.9v0.9h-0.9zM441.61,486.94h0.9v0.9h-0.9zM460.91,485.98h0.9v0.9h-0.9zM445.09,492.2h0.9v0.9h-0.9zM450.05,496.36h0.9v0.9h-0.9zM447.53,489.42h0.9v0.9h-0.9zM453.35,482.82h0.9v0.9h-0.9zM450.78,491.15h0.9v0.9h-0.9zM453.4,484.63h0.9v0.9h-0.9zM455.33,492.64h0.9v0.9h-0.9zM456.85,486.18h0.9v0.9h-0.9zM450.44,478.35h0.9v0.9h-0.9zM450.55,483.42h0.9v0.9h-0.9zM454.21,481.8h0.9v0.9h-0.9zM451.84,480.38h0.9v0.9h-0.9zM455.1,480.98h0.9v0.9h-0.9zM450.84,488.38h0.9v0.9h-0.9zM448.24,486.42h0.9v0.9h-0.9zM459.29,491.6h0.9v0.9h-0.9zM437.64,485.15h0.9v0.9h-0.9zM455.79,488.68h0.9v0.9h-0.9zM447.39,487.08h0.9v0.9h-0.9zM451.93,496.12h0.9v0.9h-0.9zM447.53,480.96h0.9v0.9h-0.9zM438.79,483.06h0.9v0.9h-0.9zM458.13,481.71h0.9v0.9h-0.9zM463.55,485.02h0.9v0.9h-0.9zM453.55,487.92h0.9v0.9h-0.9zM456.5,488.38h0.9v0.9h-0.9zM443.37,485.15h0.9v0.9h-0.9zM446.93,487.26h0.9v0.9h-0.9zM447.16,480.87h0.9v0.9h-0.9zM448.11,494.89h0.9v0.9h-0.9zM462.77,478.17h0.9v0.9h-0.9zM452.68,484.94h0.9v0.9h-0.9zM445.79,490.47h0.9v0.9h-0.9zM451.95,493.23h0.9v0.9h-0.9zM452.83,483.6h0.9v0.9h-0.9zM433.28,490.2h0.9v0.9h-0.9zM454.82,481.13h0.9v0.9h-0.9zM456.8,487.17h0.9v0.9h-0.9zM438.79,488.17h0.9v0.9h-0.9zM453.29,488.51h0.9v0.9h-0.9zM451.27,485.45h0.9v0.9h-0.9zM447.72,485.16h0.9v0.9h-0.9zM448.99,481.14h0.9v0.9h-0.9zM453.99,483.2h0.9v0.9h-0.9zM453,482.63h0.9v0.9h-0.9zM453.08,485.6h0.9v0.9h-0.9zM456.57,486.19h0.9v0.9h-0.9zM456.05,483.37h0.9v0.9h-0.9zM449.62,484.76h0.9v0.9h-0.9zM442.14,487.55h0.9v0.9h-0.9zM458.21,487.18h0.9v0.9h-0.9zM445.25,488.67h0.9v0.9h-0.9zM453.39,478.48h0.9v0.9h-0.9zM452.94,486.6h0.9v0.9h-0.9zM455.4,485.55h0.9v0.9h-0.9zM436.67,480.17h0.9v0.9h-0.9zM462.47,480.44h0.9v0.9h-0.9zM460.01,489h0.9v0.9h-0.9zM449.43,480.64h0.9v0.9h-0.9zM458.98,483.13h0.9v0.9h-0.9zM454.22,486.94h0.9v0.9h-0.9zM457.65,488.48h0.9v0.9h-0.9zM439.47,482.25h0.9v0.9h-0.9zM451.22,485.58h0.9v0.9h-0.9zM455.09,483.79h0.9v0.9h-0.9zM451.68,494.99h0.9v0.9h-0.9zM460.52,488.35h0.9v0.9h-0.9zM455.93,480.46h0.9v0.9h-0.9zM449.67,485.65h0.9v0.9h-0.9zM442.23,484.01h0.9v0.9h-0.9zM449.81,480.21h0.9v0.9h-0.9zM454.35,486.87h0.9v0.9h-0.9zM448.37,484.75h0.9v0.9h-0.9zM454.74,486.79h0.9v0.9h-0.9zM451.1,479.8h0.9v0.9h-0.9zM442.51,497.7h0.9v0.9h-0.9zM445.68,485.4h0.9v0.9h-0.9zM437.66,485.66h0.9v0.9h-0.9zM446.62,490.62h0.9v0.9h-0.9zM431.69,484.52h0.9v0.9h-0.9zM447.05,484.41h0.9v0.9h-0.9zM444.8,485.3h0.9v0.9h-0.9zM440.57,489.85h0.9v0.9h-0.9zM458.12,484.28h0.9v0.9h-0.9zM448.46,492.29h0.9v0.9h-0.9zM452.13,480.42h0.9v0.9h-0.9zM445.88,484.19h0.9v0.9h-0.9zM451.53,491.17h0.9v0.9h-0.9zM445.62,486.45h0.9v0.9h-0.9zM449.53,480.41h0.9v0.9h-0.9zM448.02,489.34h0.9v0.9h-0.9zM455.19,475.57h0.9v0.9h-0.9zM454.45,483.24h0.9v0.9h-0.9zM459.31,486.15h0.9v0.9h-0.9zM463.26,483.55h0.9v0.9h-0.9zM446.74,482.9h0.9v0.9h-0.9zM441.86,490.83h0.9v0.9h-0.9zM454.62,488.42h0.9v0.9h-0.9zM450.67,478.64h0.9v0.9h-0.9zM447.4,485.49h0.9v0.9h-0.9zM452.28,488.85h0.9v0.9h-0.9zM459.71,484.45h0.9v0.9h-0.9zM435.86,485.13h0.9v0.9h-0.9zM435.72,486.38h0.9v0.9h-0.9zM442.95,489.03h0.9v0.9h-0.9zM450.28,491.06h0.9v0.9h-0.9zM456.62,481.84h0.9v0.9h-0.9zM456.35,484.13h0.9v0.9h-0.9zM454.89,490.83h0.9v0.9h-0.9zM442.89,487.61h0.9v0.9h-0.9zM459.17,479.66h0.9v0.9h-0.9zM451.84,485.98h0.9v0.9h-0.9zM446.02,480.87h0.9v0.9h-0.9zM444.7,482.79h0.9v0.9h-0.9zM457.51,484.9h0.9v0.9h-0.9zM453.3,479.35h0.9v0.9h-0.9zM453.68,485.51h0.9v0.9h-0.9zM456.1,480.75h0.9v0.9h-0.9zM457.19,490.28h0.9v0.9h-0.9zM460.65,478.46h0.9v0.9h-0.9zM441.31,481.49h0.9v0.9h-0.9zM457.19,486.62h0.9v0.9h-0.9zM451.41,481.41h0.9v0.9h-0.9zM460.31,490.48h0.9v0.9h-0.9zM449.93,485.34h0.9v0.9h-0.9zM458.53,485.82h0.9v0.9h-0.9zM458.38,481.58h0.9v0.9h-0.9zM452.05,483.71h0.9v0.9h-0.9zM446.3,485.55h0.9v0.9h-0.9zM449.12,488.51h0.9v0.9h-0.9zM448.45,486.66h0.9v0.9h-0.9zM443.62,481.96h0.9v0.9h-0.9zM458.2,478.92h0.9v0.9h-0.9zM463.05,486.56h0.9v0.9h-0.9zM434.9,487.22h0.9v0.9h-0.9zM447.67,486.65h0.9v0.9h-0.9zM448.42,483.51h0.9v0.9h-0.9zM458.14,482.95h0.9v0.9h-0.9zM455.6,481.06h0.9v0.9h-0.9zM447.56,492.85h0.9v0.9h-0.9zM447.14,481.55h0.9v0.9h-0.9zM450.53,490.68h0.9v0.9h-0.9zM448.39,482.98h0.9v0.9h-0.9zM455.59,488.9h0.9v0.9h-0.9zM448.59,484.8h0.9v0.9h-0.9zM451.34,498.18h0.9v0.9h-0.9zM451.28,493.71h0.9v0.9h-0.9zM449.87,487.83h0.9v0.9h-0.9zM437.53,490.3h0.9v0.9h-0.9zM450.25,484.33h0.9v0.9h-0.9zM446.01,480.64h0.9v0.9h-0.9zM441.02,489.25h0.9v0.9h-0.9zM446.12,486.58h0.9v0.9h-0.9zM448.53,483.93h0.9v0.9h-0.9zM447.97,495.18h0.9v0.9h-0.9zM442.64,485.61h0.9v0.9h-0.9zM446.99,481.34h0.9v0.9h-0.9zM445.26,491.29h0.9v0.9h-0.9zM456.42,484.67h0.9v0.9h-0.9zM472.02,483.46h0.9v0.9h-0.9zM457.16,480.01h0.9v0.9h-0.9zM459.32,491.11h0.9v0.9h-0.9zM450.14,494.32h0.9v0.9h-0.9zM443.77,482.36h0.9v0.9h-0.9zM449.03,482.39h0.9v0.9h-0.9zM453.01,479.85h0.9v0.9h-0.9zM448.42,477.17h0.9v0.9h-0.9zM451.42,490.41h0.9v0.9h-0.9zM449.02,487.63h0.9v0.9h-0.9zM455.91,479.05h0.9v0.9h-0.9zM442.31,488.48h0.9v0.9h-0.9zM451.76,484.13h0.9v0.9h-0.9zM445.64,492.82h0.9v0.9h-0.9zM442.58,486.8h0.9v0.9h-0.9zM450.95,489.01h0.9v0.9h-0.9zM446.45,483.06h0.9v0.9h-0.9zM462.11,478.46h0.9v0.9h-0.9zM455.22,483.67h0.9v0.9h-0.9zM447.23,486.48h0.9v0.9h-0.9zM449.08,487.61h0.9v0.9h-0.9zM434.07,490.33h0.9v0.9h-0.9zM449.58,481.46h0.9v0.9h-0.9zM450.75,496.62h0.9v0.9h-0.9zM462.89,485.2h0.9v0.9h-0.9zM451.43,484.05h0.9v0.9h-0.9zM458.62,481.32h0.9v0.9h-0.9zM445.95,490.29h0.9v0.9h-0.9zM443.18,484.14h0.9v0.9h-0.9zM457.57,476.2h0.9v0.9h-0.9zM450.05,486.43h0.9v0.9h-0.9zM450.17,479.03h0.9v0.9h-0.9zM448.46,484.77h0.9v0.9h-0.9zM463.83,486.63h0.9v0.9h-0.9zM446.59,490.96h0.9v0.9h-0.9zM454.36,484.11h0.9v0.9h-0.9zM448.44,485.05h0.9v0.9h-0.9zM439.71,485.89h0.9v0.9h-0.9zM458.09,490.33h0.9v0.9h-0.9zM461.68,480.78h0.9v0.9h-0.9zM451.27,474.27h0.9v0.9h-0.9zM447.05,480.83h0.9v0.9h-0.9zM453.52,477.12h0.9v0.9h-0.9zM442.32,482.92h0.9v0.9h-0.9zM453.89,488.69h0.9v0.9h-0.9zM446.7,495.27h0.9v0.9h-0.9zM450.32,481.9h0.9v0.9h-0.9zM452.54,485.09h0.9v0.9h-0.9zM456.06,485.76h0.9v0.9h-0.9zM465.74,486.85h0.9v0.9h-0.9zM447.24,490.37h0.9v0.9h-0.9zM453.94,480.08h0.9v0.9h-0.9zM444.55,483.67h0.9v0.9h-0.9zM435.38,493.06h0.9v0.9h-0.9zM450.48,491.51h0.9v0.9h-0.9zM446.86,487.14h0.9v0.9h-0.9zM456.16,488.65h0.9v0.9h-0.9zM451.08,480.71h0.9v0.9h-0.9zM465.45,485.52h0.9v0.9h-0.9zM461.02,490.3h0.9v0.9h-0.9zM459.8,485.02h0.9v0.9h-0.9zM454.13,487.66h0.9v0.9h-0.9zM441.76,492.06h0.9v0.9h-0.9zM444.65,489.4h0.9v0.9h-0.9zM444.78,490.73h0.9v0.9h-0.9zM450.32,497.43h0.9v0.9h-0.9zM452.19,487.64h0.9v0.9h-0.9zM444.21,486.21h0.9v0.9h-0.9zM449.62,484.66h0.9v0.9h-0.9zM446.48,482.81h0.9v0.9h-0.9zM454.72,482.74h0.9v0.9h-0.9zM445.6,488.86h0.9v0.9h-0.9zM444.95,486.52h0.9v0.9h-0.9zM445.94,482.73h0.9v0.9h-0.9zM447.89,482.65h0.9v0.9h-0.9zM442.8,489.6h0.9v0.9h-0.9zM446.64,480.02h0.9v0.9h-0.9zM448.06,487.32h0.9v0.9h-0.9zM453.53,486.62h0.9v0.9h-0.9zM452.7,487.9h0.9v0.9h-0.9z" fill="#5a88d2" opacity="0.7"/>
<g transform="translate(461.1,486.28) rotate(-33)" filter="url(#soft)">
<ellipse rx="8.35" ry="3.6" fill="#bcd0ef"/>
<ellipse rx="4.87" ry="1.92" fill="#a3c2ea"/>
</g>
<path d="M458.07,485.91h0.9v0.9h-0.9zM463.05,483.81h0.9v0.9h-0.9zM462.04,487.58h0.9v0.9h-0.9zM466.55,486.33h0.9v0.9h-0.9zM457.87,487.3h0.9v0.9h-0.9zM461.46,481.86h0.9v0.9h-0.9zM456.88,490.8h0.9v0.9h-0.9zM457.43,485.97h0.9v0.9h-0.9zM465.08,485.26h0.9v0.9h-0.9zM464.39,483.18h0.9v0.9h-0.9zM459.52,486.32h0.9v0.9h-0.9zM459.61,481.31h0.9v0.9h-0.9zM459.29,489.53h0.9v0.9h-0.9zM457.91,488.17h0.9v0.9h-0.9zM462.33,487.01h0.9v0.9h-0.9zM457.71,485.17h0.9v0.9h-0.9zM470.22,478.27h0.9v0.9h-0.9zM465.67,478.18h0.9v0.9h-0.9zM461.32,485.57h0.9v0.9h-0.9zM471.48,485.5h0.9v0.9h-0.9zM463.71,481.62h0.9v0.9h-0.9zM456.9,486.81h0.9v0.9h-0.9zM459.41,488.15h0.9v0.9h-0.9zM457.65,487.81h0.9v0.9h-0.9zM468.98,485.37h0.9v0.9h-0.9zM452.38,489.16h0.9v0.9h-0.9zM461.37,489.9h0.9v0.9h-0.9zM462.36,491.05h0.9v0.9h-0.9zM464.52,488.26h0.9v0.9h-0.9zM457.27,487.86h0.9v0.9h-0.9zM466,484.77h0.9v0.9h-0.9zM453.27,490.57h0.9v0.9h-0.9zM462.7,487.08h0.9v0.9h-0.9zM460.91,491.49h0.9v0.9h-0.9zM463.68,488.84h0.9v0.9h-0.9zM462.87,485.38h0.9v0.9h-0.9zM458.31,484.69h0.9v0.9h-0.9zM465.62,485.55h0.9v0.9h-0.9zM464.39,483.05h0.9v0.9h-0.9zM456.6,488.1h0.9v0.9h-0.9zM459.87,487.05h0.9v0.9h-0.9zM463.88,481.82h0.9v0.9h-0.9zM460.1,488.94h0.9v0.9h-0.9zM467.72,488.44h0.9v0.9h-0.9zM462.13,483.15h0.9v0.9h-0.9zM455.92,487.34h0.9v0.9h-0.9zM461.77,486.59h0.9v0.9h-0.9zM460.06,485.17h0.9v0.9h-0.9zM460.3,486.58h0.9v0.9h-0.9zM463.64,484.88h0.9v0.9h-0.9zM456.34,485.97h0.9v0.9h-0.9zM466.98,482.21h0.9v0.9h-0.9zM460.41,486.66h0.9v0.9h-0.9zM465.26,482.67h0.9v0.9h-0.9zM461.54,485.31h0.9v0.9h-0.9zM462.13,482.68h0.9v0.9h-0.9zM463.33,487.83h0.9v0.9h-0.9zM466.72,484.43h0.9v0.9h-0.9zM464.42,488.71h0.9v0.9h-0.9zM465.85,487.28h0.9v0.9h-0.9zM454.88,487.13h0.9v0.9h-0.9zM464,483.62h0.9v0.9h-0.9zM458.16,485.43h0.9v0.9h-0.9zM465.52,479.94h0.9v0.9h-0.9zM459.72,483.12h0.9v0.9h-0.9zM463.44,491.3h0.9v0.9h-0.9zM470.25,478.9h0.9v0.9h-0.9zM459.27,492.21h0.9v0.9h-0.9zM455.35,484.83h0.9v0.9h-0.9zM461.12,483.14h0.9v0.9h-0.9zM456.84,492.32h0.9v0.9h-0.9zM456.82,485.97h0.9v0.9h-0.9zM461.58,485.42h0.9v0.9h-0.9zM465.78,483.52h0.9v0.9h-0.9zM469.04,484.44h0.9v0.9h-0.9zM469.78,483.91h0.9v0.9h-0.9zM462.17,487.18h0.9v0.9h-0.9zM459.18,483.01h0.9v0.9h-0.9zM457.43,490.82h0.9v0.9h-0.9zM450.6,490.7h0.9v0.9h-0.9zM455.94,489.46h0.9v0.9h-0.9zM457.34,489.45h0.9v0.9h-0.9zM459.75,485.8h0.9v0.9h-0.9zM454.82,483.9h0.9v0.9h-0.9zM459.74,483.41h0.9v0.9h-0.9zM460.47,487.77h0.9v0.9h-0.9zM466.29,484.96h0.9v0.9h-0.9zM465.19,479.5h0.9v0.9h-0.9zM465.95,487.7h0.9v0.9h-0.9zM461.27,482.95h0.9v0.9h-0.9zM462.07,484.15h0.9v0.9h-0.9zM460,490.09h0.9v0.9h-0.9zM458.97,484.42h0.9v0.9h-0.9zM461.07,492.01h0.9v0.9h-0.9zM458.68,489.82h0.9v0.9h-0.9zM463.43,488.17h0.9v0.9h-0.9zM458.8,485.04h0.9v0.9h-0.9zM457.24,485.8h0.9v0.9h-0.9zM471.8,479.91h0.9v0.9h-0.9zM461.56,489.65h0.9v0.9h-0.9zM463.55,484.17h0.9v0.9h-0.9zM464.01,485.18h0.9v0.9h-0.9zM467.86,486.7h0.9v0.9h-0.9zM459.87,486.99h0.9v0.9h-0.9zM462.06,489.21h0.9v0.9h-0.9zM463.74,486.85h0.9v0.9h-0.9zM463.92,482.61h0.9v0.9h-0.9zM463.52,488.74h0.9v0.9h-0.9zM465.94,485.51h0.9v0.9h-0.9zM459.57,486.23h0.9v0.9h-0.9zM457.39,487.91h0.9v0.9h-0.9zM459.01,483.48h0.9v0.9h-0.9zM464.8,481.67h0.9v0.9h-0.9zM462.97,486.82h0.9v0.9h-0.9zM456.57,483.97h0.9v0.9h-0.9zM465.57,484.57h0.9v0.9h-0.9zM461.67,489.21h0.9v0.9h-0.9zM463.48,481.97h0.9v0.9h-0.9zM458.51,482.85h0.9v0.9h-0.9zM462,489.81h0.9v0.9h-0.9zM458.92,490.1h0.9v0.9h-0.9zM454.76,489.55h0.9v0.9h-0.9zM467.21,487.31h0.9v0.9h-0.9zM463.99,486.61h0.9v0.9h-0.9zM464.79,476.8h0.9v0.9h-0.9zM456.87,494.53h0.9v0.9h-0.9zM471.8,481.08h0.9v0.9h-0.9zM461.78,486.6h0.9v0.9h-0.9zM460.47,484.91h0.9v0.9h-0.9zM460.94,486.02h0.9v0.9h-0.9zM464.74,485.9h0.9v0.9h-0.9zM465.86,484.9h0.9v0.9h-0.9zM459.15,491.6h0.9v0.9h-0.9zM450.68,493.4h0.9v0.9h-0.9zM461.79,484.3h0.9v0.9h-0.9zM467.18,479.17h0.9v0.9h-0.9zM455.85,488.23h0.9v0.9h-0.9zM463.89,486.78h0.9v0.9h-0.9zM462.49,487.32h0.9v0.9h-0.9zM457.57,486.82h0.9v0.9h-0.9zM459.91,483.16h0.9v0.9h-0.9zM461.4,484.95h0.9v0.9h-0.9zM462.55,482.41h0.9v0.9h-0.9zM458.32,486.45h0.9v0.9h-0.9zM458.39,485.15h0.9v0.9h-0.9zM458.35,484.15h0.9v0.9h-0.9zM464.2,486.23h0.9v0.9h-0.9zM460.86,485.89h0.9v0.9h-0.9zM456.36,486.58h0.9v0.9h-0.9zM459.1,484.96h0.9v0.9h-0.9zM456.72,489.62h0.9v0.9h-0.9zM460.56,485.46h0.9v0.9h-0.9zM457.87,488.23h0.9v0.9h-0.9zM457.85,487.15h0.9v0.9h-0.9zM462.87,487.23h0.9v0.9h-0.9zM463.37,483.06h0.9v0.9h-0.9z" fill="#6f97d8" opacity="0.7"/>
<g transform="translate(450.3,485.8) rotate(-16)" filter="url(#soft)">
<ellipse rx="9.69" ry="5.81" fill="#6b93d7"/>
<ellipse rx="8.36" ry="5.02" fill="#4f9dd3"/>
<ellipse rx="7.24" ry="4.35" fill="#56b89c"/>
<ellipse rx="6.12" ry="3.67" fill="#a0ce4e"/>
<ellipse rx="4.59" ry="2.75" fill="#d9d640"/>
<ellipse rx="2.86" ry="1.71" fill="#efb036"/>
<ellipse rx="1.22" ry="0.8" fill="#e4662c"/>
</g>
<ellipse cx="468.3" cy="486.6" rx="11.6" ry="6" transform="rotate(-33 468.3 486.6)" fill="none" stroke="#505050" stroke-width="0.9"/>
<text x="471.4" y="507.1" font-size="6.9" textLength="16.6" lengthAdjust="spacingAndGlyphs">7.44%</text>
<path d="M423.4,472.5 h-2.0 M423.4,489.1 h-2.0 M423.4,509.5 h-2.0 M423.4,518.9 h-2.0 M423.4,530.1 h-2.0 M423.4,475.27 h-1.0 M423.4,478.03 h-1.0 M423.4,480.8 h-1.0 M423.4,483.57 h-1.0 M423.4,486.33 h-1.0 M423.4,492.5 h-1.0 M423.4,495.9 h-1.0 M423.4,499.3 h-1.0 M423.4,502.7 h-1.0 M423.4,506.1 h-1.0 " stroke="#444" stroke-width="0.75"/>
<text x="409.59" y="474.1" font-size="6.2" textLength="7.01" lengthAdjust="spacingAndGlyphs">10</text>
<text x="416.8" y="471.3" font-size="4">4</text>
<text x="409.59" y="490.7" font-size="6.2" textLength="7.01" lengthAdjust="spacingAndGlyphs">10</text>
<text x="416.8" y="487.9" font-size="4">3</text>
<text x="409.59" y="511.1" font-size="6.2" textLength="7.01" lengthAdjust="spacingAndGlyphs">10</text>
<text x="416.8" y="508.3" font-size="4">2</text>
<text x="418.8" y="520.8" font-size="6.4" text-anchor="end">0</text>
<text x="407.5" y="531.7" font-size="6.2" textLength="9.1" lengthAdjust="spacingAndGlyphs">-10</text>
<text x="416.8" y="528.9" font-size="4">2</text>
<rect x="422.2" y="517.7" width="1.4" height="2.4" fill="#111"/>
<path d="M443.8,536.5 v1.8 M470.4,536.5 v1.8 M489.1,536.5 v1.8 M425.4,536.5 v1.0 M430.5,536.5 v1.0 M435.6,536.5 v1.0 M440.7,536.5 v1.0 M445.8,536.5 v1.0 M450.9,536.5 v1.0 M456,536.5 v1.0 M461.1,536.5 v1.0 M466.2,536.5 v1.0 M471.3,536.5 v1.0 M476.4,536.5 v1.0 M481.5,536.5 v1.0 M486.6,536.5 v1.0 M491.7,536.5 v1.0 " stroke="#444" stroke-width="0.75"/>
<rect x="441.8" y="535.7" width="3.2" height="1.4" fill="#111"/>
<text x="443.8" y="546.1" font-size="6.6" text-anchor="middle">0</text>
<text x="466" y="546.1" font-size="6.6" textLength="7.01" lengthAdjust="spacingAndGlyphs">10</text>
<text x="473.2" y="543.1" font-size="4.2">3</text>
<text x="484.7" y="546.1" font-size="6.6" textLength="7.01" lengthAdjust="spacingAndGlyphs">10</text>
<text x="491.9" y="543.1" font-size="4.2">4</text>
<text x="448.6" y="558.1" font-size="8.4" textLength="24.9" lengthAdjust="spacingAndGlyphs">BAX 1E5</text>
<line x1="172.2" y1="355" x2="172.2" y2="578.2" stroke="#222" stroke-width="1.5"/>
<line x1="398.7" y1="354.7" x2="398.7" y2="578.2" stroke="#222" stroke-width="1.5"/>
<text x="116" y="578.8" font-size="11" fill="#111" textLength="16.8" lengthAdjust="spacingAndGlyphs">WT</text>
<text x="213.1" y="578.8" font-size="11" fill="#111"><tspan font-style="italic" textLength="23.8" lengthAdjust="spacingAndGlyphs">TP53</tspan><tspan x="239.2" textLength="16.7" lengthAdjust="spacingAndGlyphs">KO</tspan></text>
<text x="344.4" y="578.8" font-size="11" fill="#111" textLength="16.6" lengthAdjust="spacingAndGlyphs">WT</text>
<text x="439.5" y="578.8" font-size="11" fill="#111"><tspan font-style="italic" textLength="23.8" lengthAdjust="spacingAndGlyphs">TP53</tspan><tspan x="465.6" textLength="16.7" lengthAdjust="spacingAndGlyphs">KO</tspan></text>
<text transform="translate(510.4,425.4) rotate(-90)" font-size="10.8" textLength="69.3" lengthAdjust="spacingAndGlyphs" fill="#111">Cytochrome C</text>
<line x1="506.5" y1="429.7" x2="506.5" y2="470" stroke="#111" stroke-width="1.2"/>
<path d="M503.6,469 L509.4,469 L506.5,475 Z" fill="#111"/>
<path d="M0.65,0.5 H519.4 V589.25 H0.65 Z" fill="none" stroke="#000" stroke-width="1.4"/>
</svg>
</body></html>
